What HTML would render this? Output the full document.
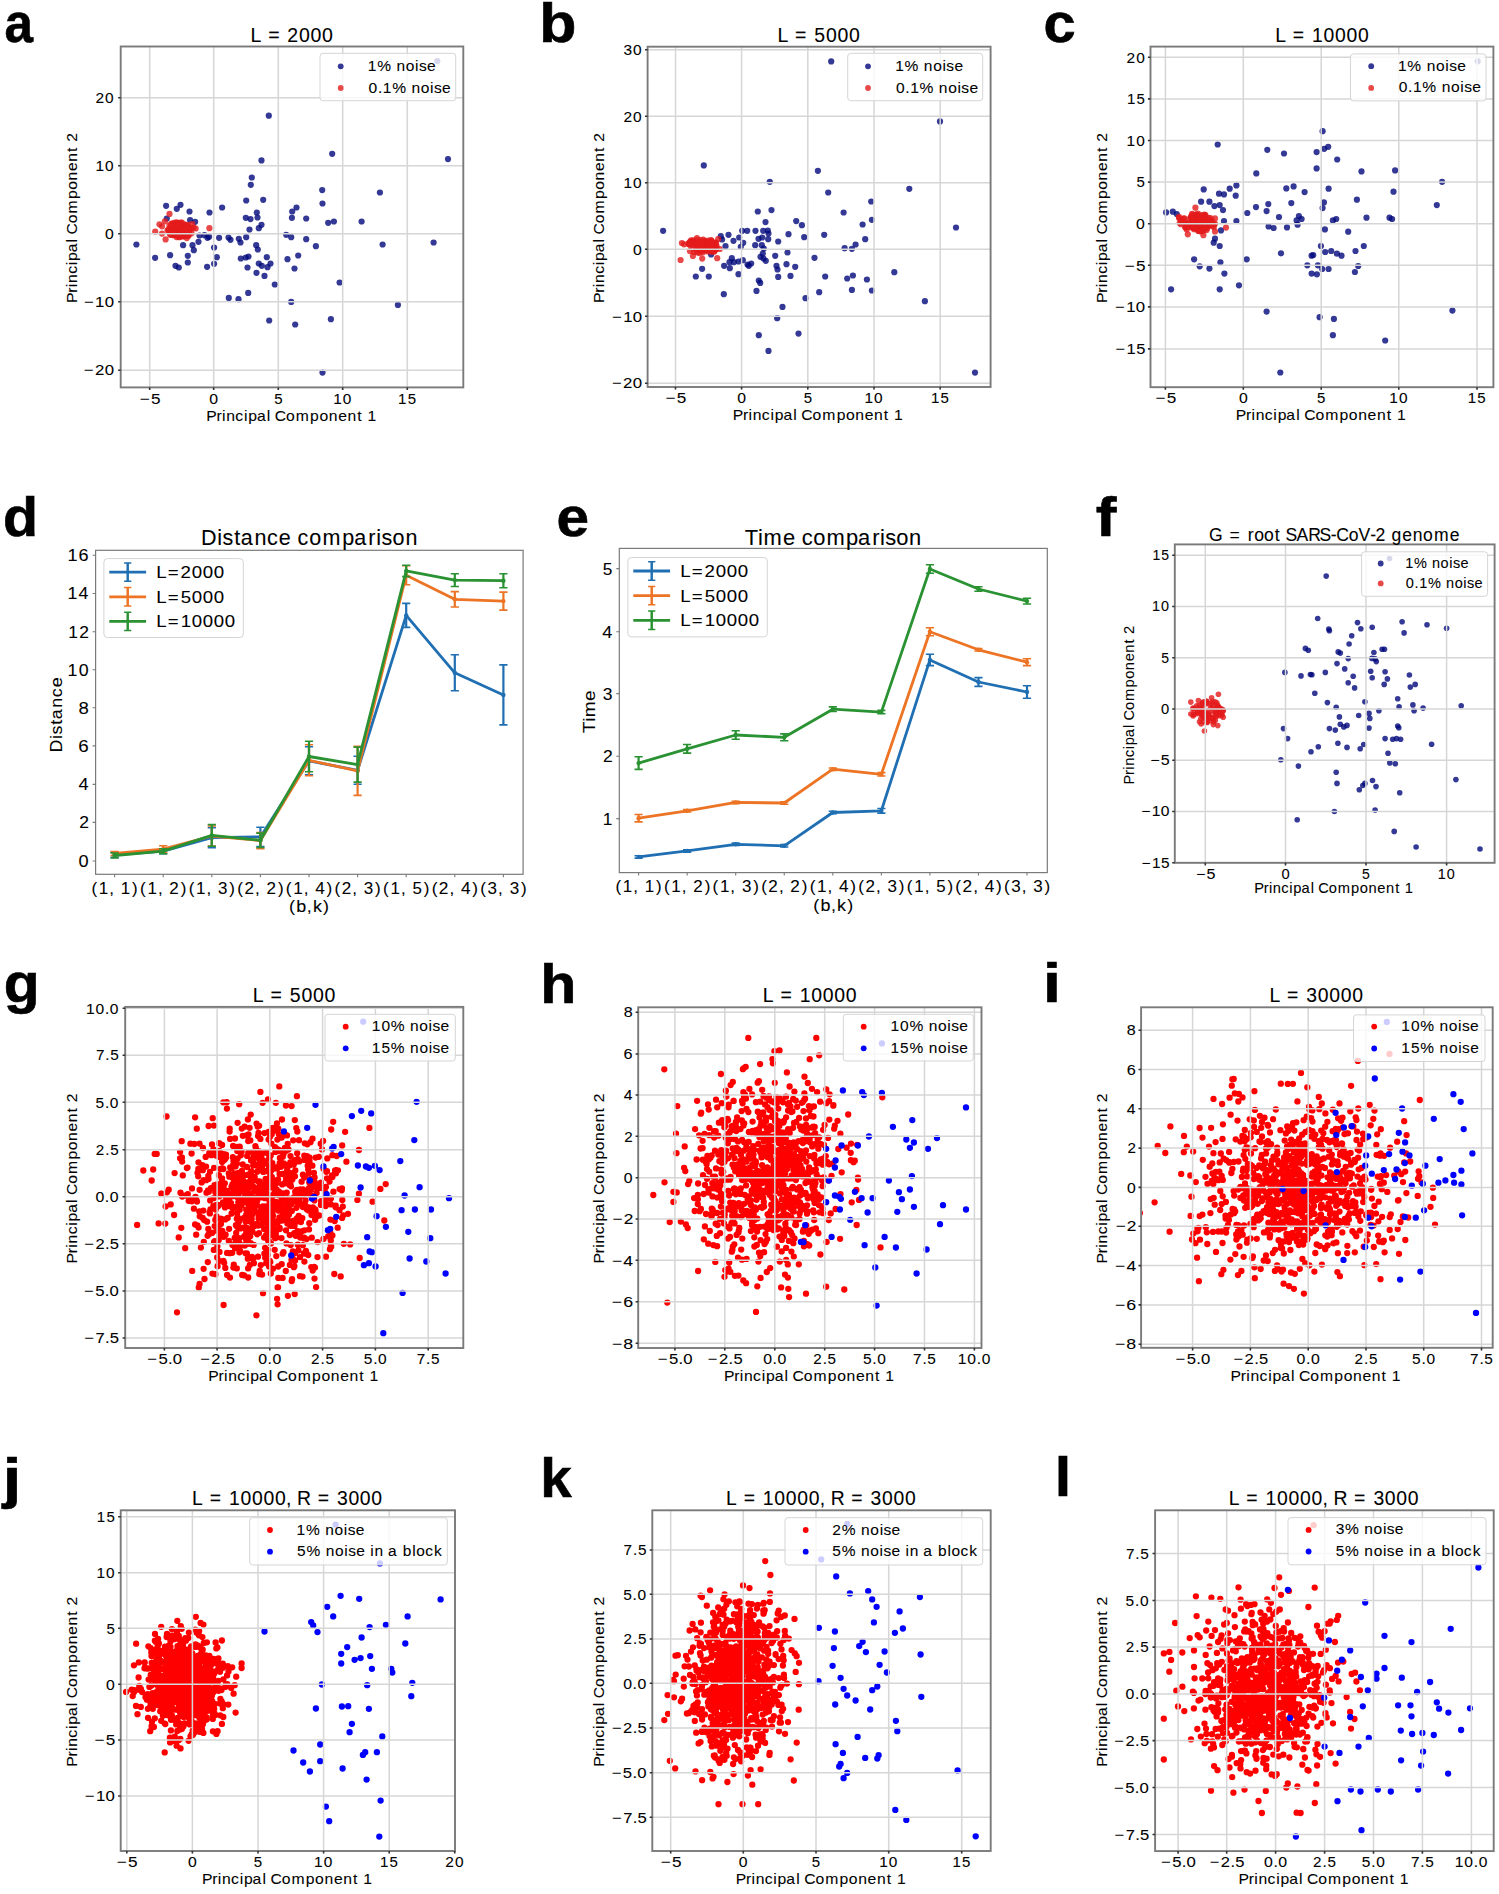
<!DOCTYPE html>
<html><head><meta charset="utf-8"><title>Figure</title>
<style>html,body{margin:0;padding:0;background:#fff;overflow:hidden;} svg{display:block;} text{font-family:"Liberation Sans",sans-serif;}</style>
</head><body>
<svg width="1499" height="1894" viewBox="0 0 1499 1894">
<rect width="1499" height="1894" fill="#fff"/>
<clipPath id="c1"><rect x="120.7" y="46.5" width="342.6" height="340.9"/></clipPath>
<g clip-path="url(#c1)">
<g fill="#00087a" fill-opacity="0.8"><circle cx="268.8" cy="115.7" r="3.1"/><circle cx="332.2" cy="153.8" r="3.1"/><circle cx="448.0" cy="159.1" r="3.1"/><circle cx="261.5" cy="160.4" r="3.1"/><circle cx="251.8" cy="177.5" r="3.1"/><circle cx="250.8" cy="184.8" r="3.1"/><circle cx="379.9" cy="192.5" r="3.1"/><circle cx="322.2" cy="190.1" r="3.1"/><circle cx="322.5" cy="203.5" r="3.1"/><circle cx="246.2" cy="200.5" r="3.1"/><circle cx="263.2" cy="199.8" r="3.1"/><circle cx="166.1" cy="205.8" r="3.1"/><circle cx="180.5" cy="204.8" r="3.1"/><circle cx="176.8" cy="208.8" r="3.1"/><circle cx="189.5" cy="211.5" r="3.1"/><circle cx="209.5" cy="212.5" r="3.1"/><circle cx="222.1" cy="207.5" r="3.1"/><circle cx="256.8" cy="212.5" r="3.1"/><circle cx="292.2" cy="211.5" r="3.1"/><circle cx="296.5" cy="207.5" r="3.1"/><circle cx="166.8" cy="218.5" r="3.1"/><circle cx="245.8" cy="217.8" r="3.1"/><circle cx="250.5" cy="219.1" r="3.1"/><circle cx="257.5" cy="217.5" r="3.1"/><circle cx="291.9" cy="217.8" r="3.1"/><circle cx="306.2" cy="218.5" r="3.1"/><circle cx="328.2" cy="222.8" r="3.1"/><circle cx="333.9" cy="221.5" r="3.1"/><circle cx="361.6" cy="221.5" r="3.1"/><circle cx="190.1" cy="220.1" r="3.1"/><circle cx="195.1" cy="221.8" r="3.1"/><circle cx="261.5" cy="224.8" r="3.1"/><circle cx="249.5" cy="229.5" r="3.1"/><circle cx="258.8" cy="228.2" r="3.1"/><circle cx="286.2" cy="234.8" r="3.1"/><circle cx="291.2" cy="237.2" r="3.1"/><circle cx="306.2" cy="239.2" r="3.1"/><circle cx="315.9" cy="246.2" r="3.1"/><circle cx="382.6" cy="244.5" r="3.1"/><circle cx="433.6" cy="242.5" r="3.1"/><circle cx="136.4" cy="244.5" r="3.1"/><circle cx="199.5" cy="235.5" r="3.1"/><circle cx="204.5" cy="235.2" r="3.1"/><circle cx="198.5" cy="241.8" r="3.1"/><circle cx="207.5" cy="237.8" r="3.1"/><circle cx="209.1" cy="236.8" r="3.1"/><circle cx="219.1" cy="237.8" r="3.1"/><circle cx="228.5" cy="237.5" r="3.1"/><circle cx="230.5" cy="239.8" r="3.1"/><circle cx="238.8" cy="238.8" r="3.1"/><circle cx="240.5" cy="242.5" r="3.1"/><circle cx="246.2" cy="237.2" r="3.1"/><circle cx="256.2" cy="245.2" r="3.1"/><circle cx="257.8" cy="249.5" r="3.1"/><circle cx="192.5" cy="245.2" r="3.1"/><circle cx="193.8" cy="250.2" r="3.1"/><circle cx="183.1" cy="245.2" r="3.1"/><circle cx="214.1" cy="247.5" r="3.1"/><circle cx="170.1" cy="255.2" r="3.1"/><circle cx="155.1" cy="257.8" r="3.1"/><circle cx="187.8" cy="255.8" r="3.1"/><circle cx="216.8" cy="257.2" r="3.1"/><circle cx="187.8" cy="262.5" r="3.1"/><circle cx="175.5" cy="265.8" r="3.1"/><circle cx="178.8" cy="267.5" r="3.1"/><circle cx="207.1" cy="266.8" r="3.1"/><circle cx="214.1" cy="263.8" r="3.1"/><circle cx="240.8" cy="258.5" r="3.1"/><circle cx="245.8" cy="257.5" r="3.1"/><circle cx="248.5" cy="256.5" r="3.1"/><circle cx="266.8" cy="257.2" r="3.1"/><circle cx="258.8" cy="263.5" r="3.1"/><circle cx="261.8" cy="265.8" r="3.1"/><circle cx="267.5" cy="267.2" r="3.1"/><circle cx="270.5" cy="263.5" r="3.1"/><circle cx="247.5" cy="267.5" r="3.1"/><circle cx="256.5" cy="272.8" r="3.1"/><circle cx="264.5" cy="275.9" r="3.1"/><circle cx="287.5" cy="259.2" r="3.1"/><circle cx="298.2" cy="255.5" r="3.1"/><circle cx="294.5" cy="268.5" r="3.1"/><circle cx="274.8" cy="284.5" r="3.1"/><circle cx="339.6" cy="282.5" r="3.1"/><circle cx="228.8" cy="297.9" r="3.1"/><circle cx="238.5" cy="299.2" r="3.1"/><circle cx="248.2" cy="292.9" r="3.1"/><circle cx="291.2" cy="301.9" r="3.1"/><circle cx="397.9" cy="304.9" r="3.1"/><circle cx="269.2" cy="320.5" r="3.1"/><circle cx="295.2" cy="324.5" r="3.1"/><circle cx="330.9" cy="319.2" r="3.1"/><circle cx="322.5" cy="372.6" r="3.1"/><circle cx="437.3" cy="61.0" r="3.1"/></g>
<g fill="#e41a1c" fill-opacity="0.8"><circle cx="179.8" cy="236.7" r="3.1"/><circle cx="174.6" cy="228.7" r="3.1"/><circle cx="188.0" cy="228.5" r="3.1"/><circle cx="180.8" cy="222.7" r="3.1"/><circle cx="186.1" cy="230.5" r="3.1"/><circle cx="175.1" cy="234.3" r="3.1"/><circle cx="174.4" cy="229.2" r="3.1"/><circle cx="170.0" cy="228.4" r="3.1"/><circle cx="171.8" cy="226.3" r="3.1"/><circle cx="186.0" cy="226.6" r="3.1"/><circle cx="179.1" cy="237.2" r="3.1"/><circle cx="191.5" cy="233.3" r="3.1"/><circle cx="180.6" cy="226.5" r="3.1"/><circle cx="179.9" cy="224.1" r="3.1"/><circle cx="182.7" cy="234.1" r="3.1"/><circle cx="182.4" cy="236.2" r="3.1"/><circle cx="167.5" cy="230.3" r="3.1"/><circle cx="178.4" cy="223.2" r="3.1"/><circle cx="183.2" cy="235.3" r="3.1"/><circle cx="181.9" cy="226.3" r="3.1"/><circle cx="188.3" cy="230.0" r="3.1"/><circle cx="179.8" cy="233.7" r="3.1"/><circle cx="170.3" cy="234.8" r="3.1"/><circle cx="184.3" cy="234.3" r="3.1"/><circle cx="171.5" cy="234.5" r="3.1"/><circle cx="171.5" cy="223.5" r="3.1"/><circle cx="188.7" cy="235.4" r="3.1"/><circle cx="189.3" cy="229.5" r="3.1"/><circle cx="183.3" cy="233.2" r="3.1"/><circle cx="188.2" cy="226.6" r="3.1"/><circle cx="172.1" cy="232.0" r="3.1"/><circle cx="170.4" cy="229.6" r="3.1"/><circle cx="189.8" cy="228.7" r="3.1"/><circle cx="181.8" cy="222.7" r="3.1"/><circle cx="184.0" cy="236.3" r="3.1"/><circle cx="188.0" cy="235.8" r="3.1"/><circle cx="183.7" cy="226.0" r="3.1"/><circle cx="186.5" cy="225.5" r="3.1"/><circle cx="188.0" cy="224.8" r="3.1"/><circle cx="176.3" cy="227.1" r="3.1"/><circle cx="184.5" cy="225.0" r="3.1"/><circle cx="176.8" cy="222.4" r="3.1"/><circle cx="173.3" cy="228.7" r="3.1"/><circle cx="169.3" cy="231.9" r="3.1"/><circle cx="176.4" cy="233.3" r="3.1"/><circle cx="183.5" cy="228.9" r="3.1"/><circle cx="189.1" cy="231.9" r="3.1"/><circle cx="187.6" cy="227.5" r="3.1"/><circle cx="180.6" cy="225.3" r="3.1"/><circle cx="173.2" cy="223.4" r="3.1"/><circle cx="173.2" cy="233.9" r="3.1"/><circle cx="184.6" cy="224.3" r="3.1"/><circle cx="176.3" cy="228.7" r="3.1"/><circle cx="183.8" cy="229.2" r="3.1"/><circle cx="181.7" cy="235.1" r="3.1"/><circle cx="185.4" cy="227.8" r="3.1"/><circle cx="178.2" cy="227.9" r="3.1"/><circle cx="169.4" cy="225.4" r="3.1"/><circle cx="173.9" cy="227.1" r="3.1"/><circle cx="174.6" cy="231.1" r="3.1"/><circle cx="187.1" cy="233.8" r="3.1"/><circle cx="182.0" cy="236.2" r="3.1"/><circle cx="184.4" cy="229.9" r="3.1"/><circle cx="168.5" cy="229.7" r="3.1"/><circle cx="172.0" cy="224.3" r="3.1"/><circle cx="179.7" cy="234.2" r="3.1"/><circle cx="174.2" cy="234.0" r="3.1"/><circle cx="180.2" cy="224.6" r="3.1"/><circle cx="191.6" cy="228.4" r="3.1"/><circle cx="174.2" cy="235.2" r="3.1"/><circle cx="169.7" cy="233.5" r="3.1"/><circle cx="171.4" cy="228.3" r="3.1"/><circle cx="172.5" cy="235.1" r="3.1"/><circle cx="176.6" cy="237.1" r="3.1"/><circle cx="182.8" cy="232.8" r="3.1"/><circle cx="180.3" cy="225.9" r="3.1"/><circle cx="193.6" cy="227.7" r="3.1"/><circle cx="192.2" cy="224.0" r="3.1"/><circle cx="174.9" cy="222.5" r="3.1"/><circle cx="177.0" cy="230.2" r="3.1"/><circle cx="174.7" cy="234.5" r="3.1"/><circle cx="185.7" cy="228.8" r="3.1"/><circle cx="179.4" cy="226.3" r="3.1"/><circle cx="187.5" cy="231.9" r="3.1"/><circle cx="162.0" cy="233.6" r="3.1"/><circle cx="195.7" cy="228.5" r="3.1"/><circle cx="179.0" cy="232.7" r="3.1"/><circle cx="186.8" cy="235.2" r="3.1"/><circle cx="178.6" cy="229.0" r="3.1"/><circle cx="176.2" cy="225.9" r="3.1"/><circle cx="184.6" cy="231.7" r="3.1"/><circle cx="188.2" cy="231.2" r="3.1"/><circle cx="178.0" cy="235.5" r="3.1"/><circle cx="178.5" cy="223.6" r="3.1"/><circle cx="186.9" cy="226.7" r="3.1"/><circle cx="171.3" cy="225.8" r="3.1"/><circle cx="164.9" cy="221.3" r="3.1"/><circle cx="183.9" cy="230.6" r="3.1"/><circle cx="173.3" cy="232.6" r="3.1"/><circle cx="162.0" cy="226.3" r="3.1"/><circle cx="169.5" cy="213.9" r="3.1"/><circle cx="159.5" cy="224.3" r="3.1"/><circle cx="155.2" cy="231.6" r="3.1"/><circle cx="165.6" cy="239.4" r="3.1"/><circle cx="209.4" cy="228.2" r="3.1"/><circle cx="186.8" cy="238.1" r="3.1"/></g>
</g>
<path d="M149.70 46.5V387.4M213.70 46.5V387.4M278.30 46.5V387.4M342.70 46.5V387.4M407.30 46.5V387.4M120.7 97.70H463.3M120.7 165.70H463.3M120.7 233.70H463.3M120.7 301.70H463.3M120.7 370.20H463.3" stroke="#d6d6d6" stroke-width="1.5" fill="none"/>
<rect x="120.7" y="46.5" width="342.6" height="340.9" fill="none" stroke="#7a7a7a" stroke-width="1.9"/>
<path d="M149.70 387.4v2.6M213.70 387.4v2.6M278.30 387.4v2.6M342.70 387.4v2.6M407.30 387.4v2.6M120.7 97.70h-2.6M120.7 165.70h-2.6M120.7 233.70h-2.6M120.7 301.70h-2.6M120.7 370.20h-2.6" stroke="#333" stroke-width="1.6" fill="none"/>
<text transform="scale(1.1458,1)" x="121.95 131.77" y="403.60" font-size="15.00" fill="#000" stroke="#000" stroke-width="0.08">−5</text>
<text transform="scale(1.0521,1)" x="198.92" y="403.60" font-size="15.00" fill="#000" stroke="#000" stroke-width="0.08">0</text>
<text transform="scale(1.0000,1)" x="274.14" y="403.60" font-size="15.00" fill="#000" stroke="#000" stroke-width="0.08">5</text>
<text transform="scale(1.0273,1)" x="324.37 333.70" y="403.60" font-size="15.00" fill="#000" stroke="#000" stroke-width="0.08">10</text>
<text transform="scale(1.0000,1)" x="398.10 407.65" y="403.60" font-size="15.00" fill="#000" stroke="#000" stroke-width="0.08">15</text>
<text transform="scale(1.0321,1)" x="92.42 101.81" y="102.91" font-size="15.00" fill="#000" stroke="#000" stroke-width="0.08">20</text>
<text transform="scale(1.0273,1)" x="92.97 102.30" y="170.91" font-size="15.00" fill="#000" stroke="#000" stroke-width="0.08">10</text>
<text transform="scale(1.0521,1)" x="99.80" y="238.91" font-size="15.00" fill="#000" stroke="#000" stroke-width="0.08">0</text>
<text transform="scale(1.1179,1)" x="75.05 85.09 93.68" y="306.91" font-size="15.00" fill="#000" stroke="#000" stroke-width="0.08">−10</text>
<text transform="scale(1.1197,1)" x="74.92 84.86 93.51" y="375.41" font-size="15.00" fill="#000" stroke="#000" stroke-width="0.08">−20</text>
<rect x="320" y="53.3" width="135.7" height="47.400000000000006" rx="3" fill="#fff" fill-opacity="0.8" stroke="#d5d5d5" stroke-width="1"/>
<circle cx="340.7" cy="66.3" r="2.9" fill="#00087a" fill-opacity="0.8"/>
<text transform="scale(1.0780,1)" x="341.19 349.90 363.14 367.80 376.45 385.04 388.67 396.15" y="70.90" font-size="14.40" fill="#000" stroke="#000" stroke-width="0.08">1% noise</text>
<circle cx="340.7" cy="88" r="2.9" fill="#e41a1c" fill-opacity="0.8"/>
<text transform="scale(1.0822,1)" x="340.53 349.18 353.71 362.38 375.58 380.22 388.83 397.40 401.00 408.45" y="92.60" font-size="14.40" fill="#000" stroke="#000" stroke-width="0.08">0.1% noise</text>
<text transform="scale(1.0019,1)" x="250.00 260.25 267.67 281.13 286.80 298.47 309.96 321.46" y="41.80" font-size="19.50" fill="#000" stroke="#000" stroke-width="0.08">L = 2000</text>
<text transform="scale(1.0929,1)" x="188.72 198.10 203.14 207.02 215.35 223.20 227.10 235.09 244.14 247.80 251.49 261.79 270.67 283.75 292.27 300.84 309.44 317.98 326.94 331.85 336.31" y="420.70" font-size="14.40" fill="#000" stroke="#000" stroke-width="0.08">Principal Component 1</text>
<text transform="translate(76.70,217.50) rotate(-90) scale(1.0934,1)" x="-78.18 -68.80 -63.76 -59.89 -51.56 -43.71 -39.82 -31.83 -22.79 -19.13 -15.44 -5.15 3.73 16.81 25.32 33.88 42.48 51.02 59.98 64.88 69.25" y="0.00" font-size="14.40" fill="#000" stroke="#000" stroke-width="0.08">Principal Component 2</text>
<text x="4.46" y="42.20" font-size="55.00" font-weight="bold" textLength="28.48" lengthAdjust="spacingAndGlyphs" fill="#000" stroke="#000" stroke-width="0.6" >a</text>
<clipPath id="c2"><rect x="647.6" y="46.7" width="343.0" height="340.3"/></clipPath>
<g clip-path="url(#c2)">
<g fill="#00087a" fill-opacity="0.8"><circle cx="831.2" cy="61.4" r="3.1"/><circle cx="940.0" cy="121.4" r="3.1"/><circle cx="703.8" cy="165.4" r="3.1"/><circle cx="817.9" cy="170.8" r="3.1"/><circle cx="769.8" cy="181.8" r="3.1"/><circle cx="909.3" cy="188.8" r="3.1"/><circle cx="828.2" cy="192.5" r="3.1"/><circle cx="871.2" cy="201.5" r="3.1"/><circle cx="757.8" cy="211.5" r="3.1"/><circle cx="771.5" cy="210.1" r="3.1"/><circle cx="843.6" cy="212.5" r="3.1"/><circle cx="765.5" cy="222.1" r="3.1"/><circle cx="796.2" cy="221.1" r="3.1"/><circle cx="801.9" cy="225.2" r="3.1"/><circle cx="862.6" cy="224.5" r="3.1"/><circle cx="871.9" cy="219.8" r="3.1"/><circle cx="956.0" cy="227.5" r="3.1"/><circle cx="663.1" cy="230.8" r="3.1"/><circle cx="720.8" cy="236.2" r="3.1"/><circle cx="728.5" cy="234.8" r="3.1"/><circle cx="742.2" cy="230.8" r="3.1"/><circle cx="747.2" cy="230.8" r="3.1"/><circle cx="755.5" cy="230.8" r="3.1"/><circle cx="763.2" cy="230.8" r="3.1"/><circle cx="767.8" cy="230.5" r="3.1"/><circle cx="768.5" cy="233.5" r="3.1"/><circle cx="788.5" cy="234.2" r="3.1"/><circle cx="804.2" cy="237.2" r="3.1"/><circle cx="824.2" cy="234.8" r="3.1"/><circle cx="865.2" cy="239.2" r="3.1"/><circle cx="722.1" cy="239.5" r="3.1"/><circle cx="739.2" cy="237.5" r="3.1"/><circle cx="733.5" cy="240.8" r="3.1"/><circle cx="743.2" cy="242.8" r="3.1"/><circle cx="758.5" cy="238.8" r="3.1"/><circle cx="762.2" cy="237.5" r="3.1"/><circle cx="768.2" cy="239.2" r="3.1"/><circle cx="778.2" cy="241.5" r="3.1"/><circle cx="725.5" cy="246.2" r="3.1"/><circle cx="740.8" cy="246.8" r="3.1"/><circle cx="755.2" cy="245.2" r="3.1"/><circle cx="761.8" cy="245.2" r="3.1"/><circle cx="763.8" cy="248.5" r="3.1"/><circle cx="855.6" cy="244.5" r="3.1"/><circle cx="844.6" cy="248.2" r="3.1"/><circle cx="851.9" cy="248.8" r="3.1"/><circle cx="711.1" cy="254.5" r="3.1"/><circle cx="731.8" cy="258.2" r="3.1"/><circle cx="733.8" cy="262.2" r="3.1"/><circle cx="738.5" cy="261.5" r="3.1"/><circle cx="729.5" cy="262.2" r="3.1"/><circle cx="742.8" cy="260.2" r="3.1"/><circle cx="751.2" cy="263.5" r="3.1"/><circle cx="748.8" cy="265.8" r="3.1"/><circle cx="747.5" cy="264.5" r="3.1"/><circle cx="762.8" cy="253.5" r="3.1"/><circle cx="763.5" cy="258.5" r="3.1"/><circle cx="765.8" cy="260.8" r="3.1"/><circle cx="760.5" cy="256.8" r="3.1"/><circle cx="775.2" cy="255.8" r="3.1"/><circle cx="787.5" cy="252.5" r="3.1"/><circle cx="814.5" cy="257.8" r="3.1"/><circle cx="724.1" cy="265.8" r="3.1"/><circle cx="729.8" cy="268.2" r="3.1"/><circle cx="776.5" cy="265.8" r="3.1"/><circle cx="777.5" cy="269.5" r="3.1"/><circle cx="786.5" cy="264.2" r="3.1"/><circle cx="795.2" cy="266.8" r="3.1"/><circle cx="702.1" cy="268.8" r="3.1"/><circle cx="695.8" cy="276.5" r="3.1"/><circle cx="708.8" cy="276.5" r="3.1"/><circle cx="738.5" cy="274.2" r="3.1"/><circle cx="778.2" cy="276.9" r="3.1"/><circle cx="790.5" cy="275.9" r="3.1"/><circle cx="825.2" cy="276.5" r="3.1"/><circle cx="847.2" cy="278.5" r="3.1"/><circle cx="852.9" cy="275.5" r="3.1"/><circle cx="866.9" cy="279.5" r="3.1"/><circle cx="894.3" cy="272.2" r="3.1"/><circle cx="758.8" cy="280.5" r="3.1"/><circle cx="760.2" cy="282.9" r="3.1"/><circle cx="756.5" cy="290.9" r="3.1"/><circle cx="723.8" cy="294.2" r="3.1"/><circle cx="819.2" cy="292.2" r="3.1"/><circle cx="851.9" cy="289.9" r="3.1"/><circle cx="871.9" cy="290.5" r="3.1"/><circle cx="805.5" cy="298.2" r="3.1"/><circle cx="924.9" cy="301.2" r="3.1"/><circle cx="782.5" cy="306.9" r="3.1"/><circle cx="777.2" cy="318.2" r="3.1"/><circle cx="758.8" cy="335.2" r="3.1"/><circle cx="798.5" cy="333.6" r="3.1"/><circle cx="768.5" cy="350.9" r="3.1"/><circle cx="975.0" cy="372.6" r="3.1"/></g>
<g fill="#e41a1c" fill-opacity="0.8"><circle cx="695.6" cy="243.7" r="3.1"/><circle cx="711.6" cy="240.8" r="3.1"/><circle cx="705.4" cy="249.7" r="3.1"/><circle cx="693.4" cy="240.3" r="3.1"/><circle cx="696.0" cy="248.7" r="3.1"/><circle cx="704.3" cy="241.6" r="3.1"/><circle cx="700.5" cy="248.9" r="3.1"/><circle cx="700.3" cy="248.4" r="3.1"/><circle cx="716.1" cy="249.1" r="3.1"/><circle cx="699.4" cy="242.1" r="3.1"/><circle cx="698.0" cy="246.7" r="3.1"/><circle cx="713.8" cy="250.4" r="3.1"/><circle cx="697.2" cy="252.4" r="3.1"/><circle cx="701.7" cy="249.2" r="3.1"/><circle cx="691.1" cy="241.0" r="3.1"/><circle cx="693.9" cy="251.9" r="3.1"/><circle cx="707.7" cy="251.4" r="3.1"/><circle cx="706.7" cy="245.2" r="3.1"/><circle cx="703.0" cy="247.8" r="3.1"/><circle cx="713.0" cy="245.6" r="3.1"/><circle cx="713.9" cy="248.1" r="3.1"/><circle cx="712.1" cy="246.5" r="3.1"/><circle cx="708.1" cy="244.2" r="3.1"/><circle cx="703.2" cy="242.5" r="3.1"/><circle cx="708.4" cy="245.9" r="3.1"/><circle cx="714.0" cy="251.2" r="3.1"/><circle cx="699.2" cy="253.1" r="3.1"/><circle cx="705.2" cy="250.2" r="3.1"/><circle cx="699.8" cy="242.2" r="3.1"/><circle cx="693.0" cy="242.0" r="3.1"/><circle cx="705.5" cy="241.1" r="3.1"/><circle cx="690.9" cy="245.8" r="3.1"/><circle cx="702.2" cy="248.2" r="3.1"/><circle cx="702.6" cy="252.6" r="3.1"/><circle cx="709.8" cy="247.5" r="3.1"/><circle cx="705.9" cy="246.6" r="3.1"/><circle cx="716.0" cy="242.7" r="3.1"/><circle cx="708.0" cy="247.3" r="3.1"/><circle cx="689.2" cy="243.6" r="3.1"/><circle cx="714.9" cy="250.5" r="3.1"/><circle cx="688.4" cy="243.7" r="3.1"/><circle cx="691.2" cy="240.3" r="3.1"/><circle cx="716.5" cy="245.7" r="3.1"/><circle cx="697.2" cy="240.2" r="3.1"/><circle cx="699.3" cy="244.6" r="3.1"/><circle cx="703.2" cy="239.6" r="3.1"/><circle cx="692.3" cy="242.4" r="3.1"/><circle cx="700.8" cy="243.7" r="3.1"/><circle cx="705.8" cy="243.5" r="3.1"/><circle cx="689.7" cy="242.4" r="3.1"/><circle cx="704.3" cy="250.3" r="3.1"/><circle cx="689.9" cy="242.1" r="3.1"/><circle cx="701.2" cy="248.9" r="3.1"/><circle cx="714.2" cy="251.6" r="3.1"/><circle cx="711.0" cy="240.2" r="3.1"/><circle cx="716.3" cy="248.1" r="3.1"/><circle cx="690.5" cy="243.1" r="3.1"/><circle cx="706.0" cy="244.9" r="3.1"/><circle cx="701.0" cy="250.8" r="3.1"/><circle cx="711.9" cy="247.2" r="3.1"/><circle cx="711.0" cy="245.2" r="3.1"/><circle cx="716.3" cy="248.0" r="3.1"/><circle cx="713.6" cy="247.3" r="3.1"/><circle cx="708.7" cy="242.2" r="3.1"/><circle cx="703.9" cy="243.5" r="3.1"/><circle cx="714.3" cy="248.9" r="3.1"/><circle cx="693.9" cy="243.1" r="3.1"/><circle cx="701.5" cy="251.0" r="3.1"/><circle cx="715.4" cy="242.9" r="3.1"/><circle cx="706.6" cy="244.5" r="3.1"/><circle cx="708.2" cy="240.7" r="3.1"/><circle cx="701.6" cy="247.7" r="3.1"/><circle cx="706.2" cy="249.2" r="3.1"/><circle cx="713.9" cy="242.9" r="3.1"/><circle cx="692.4" cy="245.0" r="3.1"/><circle cx="701.9" cy="244.0" r="3.1"/><circle cx="712.5" cy="245.6" r="3.1"/><circle cx="709.4" cy="243.4" r="3.1"/><circle cx="709.2" cy="250.8" r="3.1"/><circle cx="718.2" cy="239.0" r="3.1"/><circle cx="689.9" cy="251.1" r="3.1"/><circle cx="695.7" cy="243.9" r="3.1"/><circle cx="688.8" cy="244.3" r="3.1"/><circle cx="700.9" cy="240.2" r="3.1"/><circle cx="712.0" cy="246.3" r="3.1"/><circle cx="701.8" cy="245.8" r="3.1"/><circle cx="707.0" cy="248.0" r="3.1"/><circle cx="684.0" cy="244.3" r="3.1"/><circle cx="703.5" cy="247.5" r="3.1"/><circle cx="692.9" cy="256.0" r="3.1"/><circle cx="719.8" cy="249.0" r="3.1"/><circle cx="710.9" cy="244.1" r="3.1"/><circle cx="711.5" cy="251.8" r="3.1"/><circle cx="701.4" cy="246.4" r="3.1"/><circle cx="708.1" cy="250.0" r="3.1"/><circle cx="708.6" cy="250.1" r="3.1"/><circle cx="698.6" cy="245.0" r="3.1"/><circle cx="697.0" cy="238.0" r="3.1"/><circle cx="700.9" cy="245.3" r="3.1"/><circle cx="695.9" cy="249.8" r="3.1"/><circle cx="681.9" cy="243.0" r="3.1"/><circle cx="680.6" cy="260.0" r="3.1"/><circle cx="717.2" cy="258.2" r="3.1"/><circle cx="702.2" cy="258.6" r="3.1"/></g>
</g>
<path d="M675.50 46.7V387.0M741.60 46.7V387.0M807.80 46.7V387.0M874.00 46.7V387.0M940.20 46.7V387.0M647.6 49.70H990.6M647.6 116.30H990.6M647.6 182.70H990.6M647.6 249.30H990.6M647.6 316.30H990.6M647.6 383.30H990.6" stroke="#d6d6d6" stroke-width="1.5" fill="none"/>
<rect x="647.6" y="46.7" width="343.0" height="340.3" fill="none" stroke="#7a7a7a" stroke-width="1.9"/>
<path d="M675.50 387.0v2.6M741.60 387.0v2.6M807.80 387.0v2.6M874.00 387.0v2.6M940.20 387.0v2.6M647.6 49.70h-2.6M647.6 116.30h-2.6M647.6 182.70h-2.6M647.6 249.30h-2.6M647.6 316.30h-2.6M647.6 383.30h-2.6" stroke="#333" stroke-width="1.6" fill="none"/>
<text transform="scale(1.1458,1)" x="580.83 590.65" y="403.20" font-size="15.00" fill="#000" stroke="#000" stroke-width="0.08">−5</text>
<text transform="scale(1.0521,1)" x="700.69" y="403.20" font-size="15.00" fill="#000" stroke="#000" stroke-width="0.08">0</text>
<text transform="scale(1.0000,1)" x="803.64" y="403.20" font-size="15.00" fill="#000" stroke="#000" stroke-width="0.08">5</text>
<text transform="scale(1.0273,1)" x="841.54 850.87" y="403.20" font-size="15.00" fill="#000" stroke="#000" stroke-width="0.08">10</text>
<text transform="scale(1.0000,1)" x="931.00 940.55" y="403.20" font-size="15.00" fill="#000" stroke="#000" stroke-width="0.08">15</text>
<text transform="scale(1.0314,1)" x="604.55 613.80" y="54.91" font-size="15.00" fill="#000" stroke="#000" stroke-width="0.08">30</text>
<text transform="scale(1.0321,1)" x="604.01 613.40" y="121.51" font-size="15.00" fill="#000" stroke="#000" stroke-width="0.08">20</text>
<text transform="scale(1.0273,1)" x="606.93 616.26" y="187.91" font-size="15.00" fill="#000" stroke="#000" stroke-width="0.08">10</text>
<text transform="scale(1.0521,1)" x="601.66" y="254.51" font-size="15.00" fill="#000" stroke="#000" stroke-width="0.08">0</text>
<text transform="scale(1.1179,1)" x="547.38 557.42 566.01" y="321.51" font-size="15.00" fill="#000" stroke="#000" stroke-width="0.08">−10</text>
<text transform="scale(1.1197,1)" x="546.47 556.41 565.06" y="388.51" font-size="15.00" fill="#000" stroke="#000" stroke-width="0.08">−20</text>
<rect x="847.7" y="53.3" width="135.0" height="47.400000000000006" rx="3" fill="#fff" fill-opacity="0.8" stroke="#d5d5d5" stroke-width="1"/>
<circle cx="868" cy="66.3" r="2.9" fill="#00087a" fill-opacity="0.8"/>
<text transform="scale(1.0780,1)" x="830.41 839.12 852.36 857.02 865.67 874.26 877.89 885.37" y="70.90" font-size="14.40" fill="#000" stroke="#000" stroke-width="0.08">1% noise</text>
<circle cx="868" cy="88" r="2.9" fill="#e41a1c" fill-opacity="0.8"/>
<text transform="scale(1.0822,1)" x="827.86 836.51 841.05 849.71 862.91 867.55 876.16 884.73 888.34 895.79" y="92.60" font-size="14.40" fill="#000" stroke="#000" stroke-width="0.08">0.1% noise</text>
<text transform="scale(0.9985,1)" x="778.58 788.84 796.28 809.76 815.59 827.15 838.67 850.18" y="41.80" font-size="19.50" fill="#000" stroke="#000" stroke-width="0.08">L = 5000</text>
<text transform="scale(1.0929,1)" x="670.48 679.86 684.91 688.78 697.11 704.97 708.86 716.85 725.90 729.56 733.25 743.55 752.44 765.52 774.03 782.60 791.20 799.74 808.71 813.61 818.07" y="420.30" font-size="14.40" fill="#000" stroke="#000" stroke-width="0.08">Principal Component 1</text>
<text transform="translate(604.20,217.50) rotate(-90) scale(1.0934,1)" x="-78.18 -68.80 -63.76 -59.89 -51.56 -43.71 -39.82 -31.83 -22.79 -19.13 -15.44 -5.15 3.73 16.81 25.32 33.88 42.48 51.02 59.98 64.88 69.25" y="0.00" font-size="14.40" fill="#000" stroke="#000" stroke-width="0.08">Principal Component 2</text>
<text x="539.35" y="41.50" font-size="55.00" font-weight="bold" textLength="37.14" lengthAdjust="spacingAndGlyphs" fill="#000" stroke="#000" stroke-width="0.6" >b</text>
<clipPath id="c3"><rect x="1150.5" y="46.6" width="342.9000000000001" height="340.59999999999997"/></clipPath>
<g clip-path="url(#c3)">
<g fill="#00087a" fill-opacity="0.8"><circle cx="1322.6" cy="131.2" r="3.1"/><circle cx="1217.7" cy="144.5" r="3.1"/><circle cx="1267.3" cy="149.8" r="3.1"/><circle cx="1284.0" cy="153.5" r="3.1"/><circle cx="1316.6" cy="152.1" r="3.1"/><circle cx="1324.2" cy="148.8" r="3.1"/><circle cx="1328.2" cy="146.8" r="3.1"/><circle cx="1337.2" cy="159.5" r="3.1"/><circle cx="1256.3" cy="173.4" r="3.1"/><circle cx="1316.6" cy="168.4" r="3.1"/><circle cx="1361.5" cy="171.4" r="3.1"/><circle cx="1395.1" cy="170.4" r="3.1"/><circle cx="1442.1" cy="181.8" r="3.1"/><circle cx="1203.7" cy="189.4" r="3.1"/><circle cx="1236.4" cy="185.4" r="3.1"/><circle cx="1229.7" cy="188.7" r="3.1"/><circle cx="1219.0" cy="193.7" r="3.1"/><circle cx="1224.0" cy="194.4" r="3.1"/><circle cx="1286.3" cy="188.4" r="3.1"/><circle cx="1293.6" cy="186.4" r="3.1"/><circle cx="1304.6" cy="192.1" r="3.1"/><circle cx="1328.6" cy="188.7" r="3.1"/><circle cx="1393.5" cy="191.7" r="3.1"/><circle cx="1201.1" cy="201.7" r="3.1"/><circle cx="1209.4" cy="201.7" r="3.1"/><circle cx="1219.7" cy="205.1" r="3.1"/><circle cx="1214.4" cy="206.1" r="3.1"/><circle cx="1235.7" cy="195.7" r="3.1"/><circle cx="1256.0" cy="207.1" r="3.1"/><circle cx="1268.3" cy="204.1" r="3.1"/><circle cx="1291.3" cy="203.1" r="3.1"/><circle cx="1323.9" cy="202.4" r="3.1"/><circle cx="1322.6" cy="208.1" r="3.1"/><circle cx="1356.9" cy="199.7" r="3.1"/><circle cx="1436.8" cy="205.1" r="3.1"/><circle cx="1166.1" cy="212.4" r="3.1"/><circle cx="1172.8" cy="211.7" r="3.1"/><circle cx="1176.8" cy="214.0" r="3.1"/><circle cx="1223.0" cy="210.1" r="3.1"/><circle cx="1247.3" cy="213.0" r="3.1"/><circle cx="1266.6" cy="211.1" r="3.1"/><circle cx="1279.0" cy="217.0" r="3.1"/><circle cx="1298.9" cy="216.0" r="3.1"/><circle cx="1301.6" cy="219.0" r="3.1"/><circle cx="1296.6" cy="220.4" r="3.1"/><circle cx="1332.9" cy="220.4" r="3.1"/><circle cx="1336.2" cy="219.0" r="3.1"/><circle cx="1366.5" cy="217.7" r="3.1"/><circle cx="1389.5" cy="217.7" r="3.1"/><circle cx="1392.1" cy="219.0" r="3.1"/><circle cx="1224.0" cy="221.0" r="3.1"/><circle cx="1236.4" cy="221.0" r="3.1"/><circle cx="1221.0" cy="230.4" r="3.1"/><circle cx="1268.6" cy="226.4" r="3.1"/><circle cx="1273.6" cy="228.0" r="3.1"/><circle cx="1287.0" cy="227.4" r="3.1"/><circle cx="1297.6" cy="224.7" r="3.1"/><circle cx="1324.9" cy="229.4" r="3.1"/><circle cx="1348.2" cy="231.7" r="3.1"/><circle cx="1215.0" cy="238.7" r="3.1"/><circle cx="1213.7" cy="242.7" r="3.1"/><circle cx="1219.7" cy="246.0" r="3.1"/><circle cx="1320.9" cy="246.0" r="3.1"/><circle cx="1325.2" cy="252.0" r="3.1"/><circle cx="1331.2" cy="251.0" r="3.1"/><circle cx="1336.9" cy="253.7" r="3.1"/><circle cx="1341.5" cy="255.7" r="3.1"/><circle cx="1355.5" cy="251.0" r="3.1"/><circle cx="1363.8" cy="246.0" r="3.1"/><circle cx="1194.1" cy="259.3" r="3.1"/><circle cx="1246.7" cy="259.3" r="3.1"/><circle cx="1281.0" cy="253.3" r="3.1"/><circle cx="1311.6" cy="255.7" r="3.1"/><circle cx="1313.2" cy="255.0" r="3.1"/><circle cx="1199.7" cy="266.3" r="3.1"/><circle cx="1209.4" cy="268.6" r="3.1"/><circle cx="1220.4" cy="262.3" r="3.1"/><circle cx="1307.3" cy="265.3" r="3.1"/><circle cx="1317.9" cy="265.3" r="3.1"/><circle cx="1322.2" cy="269.0" r="3.1"/><circle cx="1328.6" cy="269.0" r="3.1"/><circle cx="1358.2" cy="266.0" r="3.1"/><circle cx="1224.4" cy="273.6" r="3.1"/><circle cx="1311.6" cy="273.6" r="3.1"/><circle cx="1316.9" cy="274.3" r="3.1"/><circle cx="1354.9" cy="272.0" r="3.1"/><circle cx="1171.1" cy="289.3" r="3.1"/><circle cx="1219.7" cy="289.3" r="3.1"/><circle cx="1239.0" cy="285.3" r="3.1"/><circle cx="1266.6" cy="311.6" r="3.1"/><circle cx="1319.6" cy="317.2" r="3.1"/><circle cx="1333.9" cy="318.9" r="3.1"/><circle cx="1452.4" cy="310.6" r="3.1"/><circle cx="1332.9" cy="335.2" r="3.1"/><circle cx="1385.2" cy="340.5" r="3.1"/><circle cx="1280.3" cy="372.5" r="3.1"/><circle cx="1477.7" cy="61.3" r="3.1"/></g>
<g fill="#e41a1c" fill-opacity="0.8"><circle cx="1207.8" cy="224.1" r="3.1"/><circle cx="1182.4" cy="221.2" r="3.1"/><circle cx="1196.2" cy="216.0" r="3.1"/><circle cx="1205.4" cy="215.1" r="3.1"/><circle cx="1193.1" cy="222.8" r="3.1"/><circle cx="1194.5" cy="224.2" r="3.1"/><circle cx="1189.2" cy="225.4" r="3.1"/><circle cx="1204.1" cy="218.5" r="3.1"/><circle cx="1189.7" cy="218.9" r="3.1"/><circle cx="1211.1" cy="224.1" r="3.1"/><circle cx="1196.0" cy="227.7" r="3.1"/><circle cx="1192.5" cy="214.6" r="3.1"/><circle cx="1202.8" cy="230.8" r="3.1"/><circle cx="1186.5" cy="225.0" r="3.1"/><circle cx="1189.7" cy="227.1" r="3.1"/><circle cx="1205.0" cy="217.1" r="3.1"/><circle cx="1208.9" cy="225.5" r="3.1"/><circle cx="1203.6" cy="228.6" r="3.1"/><circle cx="1194.4" cy="227.5" r="3.1"/><circle cx="1209.6" cy="220.5" r="3.1"/><circle cx="1196.3" cy="215.7" r="3.1"/><circle cx="1204.1" cy="218.5" r="3.1"/><circle cx="1210.4" cy="218.2" r="3.1"/><circle cx="1199.2" cy="220.6" r="3.1"/><circle cx="1201.1" cy="216.7" r="3.1"/><circle cx="1185.5" cy="227.2" r="3.1"/><circle cx="1206.1" cy="223.8" r="3.1"/><circle cx="1213.7" cy="224.9" r="3.1"/><circle cx="1200.8" cy="231.5" r="3.1"/><circle cx="1207.3" cy="228.1" r="3.1"/><circle cx="1180.9" cy="220.0" r="3.1"/><circle cx="1186.7" cy="229.4" r="3.1"/><circle cx="1183.6" cy="218.6" r="3.1"/><circle cx="1196.7" cy="229.2" r="3.1"/><circle cx="1186.7" cy="223.4" r="3.1"/><circle cx="1203.5" cy="220.0" r="3.1"/><circle cx="1200.2" cy="225.8" r="3.1"/><circle cx="1203.1" cy="222.9" r="3.1"/><circle cx="1199.0" cy="216.7" r="3.1"/><circle cx="1196.8" cy="215.3" r="3.1"/><circle cx="1196.3" cy="223.2" r="3.1"/><circle cx="1206.9" cy="220.5" r="3.1"/><circle cx="1179.7" cy="223.0" r="3.1"/><circle cx="1186.4" cy="227.1" r="3.1"/><circle cx="1193.0" cy="220.2" r="3.1"/><circle cx="1211.7" cy="220.4" r="3.1"/><circle cx="1191.6" cy="219.6" r="3.1"/><circle cx="1196.3" cy="214.7" r="3.1"/><circle cx="1198.7" cy="230.6" r="3.1"/><circle cx="1199.3" cy="227.2" r="3.1"/><circle cx="1205.8" cy="228.5" r="3.1"/><circle cx="1208.5" cy="217.8" r="3.1"/><circle cx="1196.4" cy="219.5" r="3.1"/><circle cx="1188.4" cy="223.9" r="3.1"/><circle cx="1190.4" cy="224.8" r="3.1"/><circle cx="1200.0" cy="214.9" r="3.1"/><circle cx="1194.9" cy="220.4" r="3.1"/><circle cx="1204.4" cy="214.6" r="3.1"/><circle cx="1185.1" cy="222.7" r="3.1"/><circle cx="1193.6" cy="225.7" r="3.1"/><circle cx="1191.0" cy="216.7" r="3.1"/><circle cx="1184.3" cy="218.3" r="3.1"/><circle cx="1191.2" cy="217.2" r="3.1"/><circle cx="1198.3" cy="230.9" r="3.1"/><circle cx="1183.5" cy="220.9" r="3.1"/><circle cx="1203.1" cy="229.9" r="3.1"/><circle cx="1198.3" cy="229.8" r="3.1"/><circle cx="1180.9" cy="224.2" r="3.1"/><circle cx="1185.3" cy="227.6" r="3.1"/><circle cx="1212.8" cy="223.2" r="3.1"/><circle cx="1194.0" cy="229.2" r="3.1"/><circle cx="1187.5" cy="225.7" r="3.1"/><circle cx="1193.6" cy="218.0" r="3.1"/><circle cx="1204.3" cy="218.8" r="3.1"/><circle cx="1192.4" cy="227.6" r="3.1"/><circle cx="1215.0" cy="231.4" r="3.1"/><circle cx="1179.0" cy="216.8" r="3.1"/><circle cx="1206.6" cy="230.1" r="3.1"/><circle cx="1197.7" cy="213.6" r="3.1"/><circle cx="1210.2" cy="224.6" r="3.1"/><circle cx="1200.9" cy="228.9" r="3.1"/><circle cx="1215.0" cy="223.8" r="3.1"/><circle cx="1197.3" cy="220.3" r="3.1"/><circle cx="1191.8" cy="217.7" r="3.1"/><circle cx="1202.8" cy="220.4" r="3.1"/><circle cx="1201.3" cy="228.8" r="3.1"/><circle cx="1193.4" cy="227.8" r="3.1"/><circle cx="1194.5" cy="220.9" r="3.1"/><circle cx="1204.2" cy="215.0" r="3.1"/><circle cx="1204.0" cy="226.5" r="3.1"/><circle cx="1192.1" cy="213.8" r="3.1"/><circle cx="1193.3" cy="219.3" r="3.1"/><circle cx="1179.0" cy="218.1" r="3.1"/><circle cx="1213.8" cy="227.0" r="3.1"/><circle cx="1194.8" cy="223.9" r="3.1"/><circle cx="1210.4" cy="225.3" r="3.1"/><circle cx="1201.2" cy="224.1" r="3.1"/><circle cx="1215.0" cy="218.4" r="3.1"/><circle cx="1212.4" cy="225.7" r="3.1"/><circle cx="1200.2" cy="231.0" r="3.1"/><circle cx="1226.0" cy="227.6" r="3.1"/><circle cx="1195.4" cy="207.7" r="3.1"/><circle cx="1187.8" cy="234.3" r="3.1"/><circle cx="1203.4" cy="235.2" r="3.1"/></g>
</g>
<path d="M1165.40 46.6V387.2M1243.30 46.6V387.2M1321.20 46.6V387.2M1398.80 46.6V387.2M1477.00 46.6V387.2M1150.5 57.30H1493.4M1150.5 98.90H1493.4M1150.5 140.50H1493.4M1150.5 182.10H1493.4M1150.5 223.70H1493.4M1150.5 265.30H1493.4M1150.5 306.90H1493.4M1150.5 348.90H1493.4" stroke="#d6d6d6" stroke-width="1.5" fill="none"/>
<rect x="1150.5" y="46.6" width="342.9000000000001" height="340.59999999999997" fill="none" stroke="#7a7a7a" stroke-width="1.9"/>
<path d="M1165.40 387.2v2.6M1243.30 387.2v2.6M1321.20 387.2v2.6M1398.80 387.2v2.6M1477.00 387.2v2.6M1150.5 57.30h-2.6M1150.5 98.90h-2.6M1150.5 140.50h-2.6M1150.5 182.10h-2.6M1150.5 223.70h-2.6M1150.5 265.30h-2.6M1150.5 306.90h-2.6M1150.5 348.90h-2.6" stroke="#333" stroke-width="1.6" fill="none"/>
<text transform="scale(1.1458,1)" x="1008.38 1018.20" y="403.40" font-size="15.00" fill="#000" stroke="#000" stroke-width="0.08">−5</text>
<text transform="scale(1.0521,1)" x="1177.55" y="403.40" font-size="15.00" fill="#000" stroke="#000" stroke-width="0.08">0</text>
<text transform="scale(1.0000,1)" x="1317.04" y="403.40" font-size="15.00" fill="#000" stroke="#000" stroke-width="0.08">5</text>
<text transform="scale(1.0273,1)" x="1352.38 1361.71" y="403.40" font-size="15.00" fill="#000" stroke="#000" stroke-width="0.08">10</text>
<text transform="scale(1.0000,1)" x="1467.80 1477.35" y="403.40" font-size="15.00" fill="#000" stroke="#000" stroke-width="0.08">15</text>
<text transform="scale(1.0321,1)" x="1091.46 1100.86" y="62.51" font-size="15.00" fill="#000" stroke="#000" stroke-width="0.08">20</text>
<text transform="scale(1.0000,1)" x="1127.03 1136.58" y="104.11" font-size="15.00" fill="#000" stroke="#000" stroke-width="0.08">15</text>
<text transform="scale(1.0273,1)" x="1096.65 1105.98" y="145.71" font-size="15.00" fill="#000" stroke="#000" stroke-width="0.08">10</text>
<text transform="scale(1.0000,1)" x="1136.58" y="187.31" font-size="15.00" fill="#000" stroke="#000" stroke-width="0.08">5</text>
<text transform="scale(1.0521,1)" x="1079.85" y="228.91" font-size="15.00" fill="#000" stroke="#000" stroke-width="0.08">0</text>
<text transform="scale(1.1458,1)" x="981.57 991.39" y="270.51" font-size="15.00" fill="#000" stroke="#000" stroke-width="0.08">−5</text>
<text transform="scale(1.1179,1)" x="997.44 1007.48 1016.07" y="312.11" font-size="15.00" fill="#000" stroke="#000" stroke-width="0.08">−10</text>
<text transform="scale(1.1004,1)" x="1013.64 1023.84 1032.53" y="354.11" font-size="15.00" fill="#000" stroke="#000" stroke-width="0.08">−15</text>
<rect x="1350.5" y="53.9" width="135.5" height="47.00000000000001" rx="3" fill="#fff" fill-opacity="0.8" stroke="#d5d5d5" stroke-width="1"/>
<circle cx="1371.2" cy="66.2" r="2.9" fill="#00087a" fill-opacity="0.8"/>
<text transform="scale(1.0780,1)" x="1296.82 1305.52 1318.76 1323.42 1332.07 1340.66 1344.29 1351.77" y="70.80" font-size="14.40" fill="#000" stroke="#000" stroke-width="0.08">1% noise</text>
<circle cx="1371.2" cy="87.9" r="2.9" fill="#e41a1c" fill-opacity="0.8"/>
<text transform="scale(1.0822,1)" x="1292.46 1301.12 1305.65 1314.31 1327.51 1332.16 1340.77 1349.34 1352.94 1360.39" y="92.50" font-size="14.40" fill="#000" stroke="#000" stroke-width="0.08">0.1% noise</text>
<text transform="scale(0.9929,1)" x="1284.30 1294.59 1302.05 1315.56 1321.40 1333.00 1344.55 1356.09 1367.64" y="41.80" font-size="19.50" fill="#000" stroke="#000" stroke-width="0.08">L = 10000</text>
<text transform="scale(1.0929,1)" x="1130.65 1140.03 1145.07 1148.95 1157.28 1165.13 1169.03 1177.02 1186.07 1189.73 1193.42 1203.72 1212.60 1225.68 1234.20 1242.77 1251.37 1259.91 1268.87 1273.78 1278.24" y="420.50" font-size="14.40" fill="#000" stroke="#000" stroke-width="0.08">Principal Component 1</text>
<text transform="translate(1107.00,217.50) rotate(-90) scale(1.0934,1)" x="-78.18 -68.80 -63.76 -59.89 -51.56 -43.71 -39.82 -31.83 -22.79 -19.13 -15.44 -5.15 3.73 16.81 25.32 33.88 42.48 51.02 59.98 64.88 69.25" y="0.00" font-size="14.40" fill="#000" stroke="#000" stroke-width="0.08">Principal Component 2</text>
<text x="1043.59" y="42.00" font-size="55.00" font-weight="bold" textLength="32.11" lengthAdjust="spacingAndGlyphs" fill="#000" stroke="#000" stroke-width="0.6" >c</text>
<clipPath id="c4"><rect x="1174.8" y="544.4" width="319.79999999999995" height="318.4"/></clipPath>
<g clip-path="url(#c4)">
<g fill="#00087a" fill-opacity="0.8"><circle cx="1326.2" cy="576.1" r="2.8"/><circle cx="1317.7" cy="618.5" r="2.8"/><circle cx="1357.5" cy="622.6" r="2.8"/><circle cx="1360.8" cy="628.8" r="2.8"/><circle cx="1372.2" cy="627.3" r="2.8"/><circle cx="1402.1" cy="621.7" r="2.8"/><circle cx="1427.0" cy="624.7" r="2.8"/><circle cx="1446.6" cy="628.2" r="2.8"/><circle cx="1328.8" cy="629.1" r="2.8"/><circle cx="1329.4" cy="630.8" r="2.8"/><circle cx="1404.1" cy="632.9" r="2.8"/><circle cx="1351.7" cy="635.8" r="2.8"/><circle cx="1349.1" cy="644.0" r="2.8"/><circle cx="1305.4" cy="648.4" r="2.8"/><circle cx="1308.3" cy="650.2" r="2.8"/><circle cx="1338.2" cy="651.9" r="2.8"/><circle cx="1340.3" cy="653.1" r="2.8"/><circle cx="1382.1" cy="649.3" r="2.8"/><circle cx="1384.5" cy="649.3" r="2.8"/><circle cx="1373.9" cy="652.5" r="2.8"/><circle cx="1348.2" cy="658.6" r="2.8"/><circle cx="1371.9" cy="658.4" r="2.8"/><circle cx="1375.1" cy="658.9" r="2.8"/><circle cx="1376.3" cy="661.6" r="2.8"/><circle cx="1337.0" cy="663.6" r="2.8"/><circle cx="1344.7" cy="668.9" r="2.8"/><circle cx="1284.9" cy="672.4" r="2.8"/><circle cx="1301.0" cy="675.9" r="2.8"/><circle cx="1310.4" cy="674.5" r="2.8"/><circle cx="1311.9" cy="674.8" r="2.8"/><circle cx="1325.3" cy="672.4" r="2.8"/><circle cx="1353.2" cy="676.2" r="2.8"/><circle cx="1370.7" cy="671.2" r="2.8"/><circle cx="1372.2" cy="677.7" r="2.8"/><circle cx="1385.1" cy="671.8" r="2.8"/><circle cx="1387.4" cy="678.9" r="2.8"/><circle cx="1409.4" cy="675.0" r="2.8"/><circle cx="1348.2" cy="682.7" r="2.8"/><circle cx="1354.6" cy="687.9" r="2.8"/><circle cx="1384.2" cy="684.4" r="2.8"/><circle cx="1410.3" cy="687.1" r="2.8"/><circle cx="1415.2" cy="684.4" r="2.8"/><circle cx="1314.8" cy="693.2" r="2.8"/><circle cx="1327.4" cy="702.6" r="2.8"/><circle cx="1336.2" cy="707.3" r="2.8"/><circle cx="1364.9" cy="701.7" r="2.8"/><circle cx="1397.7" cy="698.8" r="2.8"/><circle cx="1399.1" cy="706.7" r="2.8"/><circle cx="1412.9" cy="704.9" r="2.8"/><circle cx="1423.1" cy="708.1" r="2.8"/><circle cx="1461.2" cy="705.8" r="2.8"/><circle cx="1414.1" cy="710.8" r="2.8"/><circle cx="1378.9" cy="710.8" r="2.8"/><circle cx="1358.7" cy="715.5" r="2.8"/><circle cx="1339.4" cy="716.9" r="2.8"/><circle cx="1369.0" cy="713.4" r="2.8"/><circle cx="1369.8" cy="718.4" r="2.8"/><circle cx="1340.3" cy="724.2" r="2.8"/><circle cx="1343.8" cy="726.9" r="2.8"/><circle cx="1347.0" cy="725.4" r="2.8"/><circle cx="1397.7" cy="726.0" r="2.8"/><circle cx="1398.8" cy="727.8" r="2.8"/><circle cx="1283.5" cy="728.6" r="2.8"/><circle cx="1329.4" cy="728.6" r="2.8"/><circle cx="1335.3" cy="730.1" r="2.8"/><circle cx="1369.0" cy="728.1" r="2.8"/><circle cx="1287.6" cy="738.6" r="2.8"/><circle cx="1385.1" cy="738.6" r="2.8"/><circle cx="1392.7" cy="739.2" r="2.8"/><circle cx="1396.5" cy="738.6" r="2.8"/><circle cx="1400.6" cy="739.2" r="2.8"/><circle cx="1431.6" cy="744.2" r="2.8"/><circle cx="1318.3" cy="746.8" r="2.8"/><circle cx="1311.0" cy="751.8" r="2.8"/><circle cx="1337.9" cy="743.3" r="2.8"/><circle cx="1347.0" cy="747.4" r="2.8"/><circle cx="1360.2" cy="748.8" r="2.8"/><circle cx="1363.7" cy="744.5" r="2.8"/><circle cx="1388.0" cy="753.2" r="2.8"/><circle cx="1280.8" cy="759.7" r="2.8"/><circle cx="1298.4" cy="766.1" r="2.8"/><circle cx="1389.8" cy="762.9" r="2.8"/><circle cx="1395.3" cy="763.8" r="2.8"/><circle cx="1336.2" cy="772.3" r="2.8"/><circle cx="1455.9" cy="779.6" r="2.8"/><circle cx="1337.0" cy="783.4" r="2.8"/><circle cx="1364.9" cy="783.4" r="2.8"/><circle cx="1362.8" cy="785.5" r="2.8"/><circle cx="1372.5" cy="780.5" r="2.8"/><circle cx="1376.0" cy="786.6" r="2.8"/><circle cx="1359.3" cy="789.8" r="2.8"/><circle cx="1399.7" cy="792.8" r="2.8"/><circle cx="1334.4" cy="811.5" r="2.8"/><circle cx="1375.1" cy="810.1" r="2.8"/><circle cx="1297.2" cy="819.7" r="2.8"/><circle cx="1394.2" cy="831.4" r="2.8"/><circle cx="1416.1" cy="847.0" r="2.8"/><circle cx="1480.0" cy="849.0" r="2.8"/><circle cx="1389.5" cy="558.5" r="2.8"/></g>
<g fill="#e41a1c" fill-opacity="0.8"><circle cx="1221.4" cy="711.3" r="2.8"/><circle cx="1210.5" cy="707.9" r="2.8"/><circle cx="1216.8" cy="702.9" r="2.8"/><circle cx="1219.0" cy="712.1" r="2.8"/><circle cx="1220.0" cy="710.4" r="2.8"/><circle cx="1204.7" cy="718.2" r="2.8"/><circle cx="1196.6" cy="713.7" r="2.8"/><circle cx="1213.6" cy="722.0" r="2.8"/><circle cx="1212.4" cy="701.9" r="2.8"/><circle cx="1206.9" cy="710.8" r="2.8"/><circle cx="1207.0" cy="722.4" r="2.8"/><circle cx="1202.1" cy="704.1" r="2.8"/><circle cx="1207.7" cy="714.5" r="2.8"/><circle cx="1221.2" cy="713.0" r="2.8"/><circle cx="1199.5" cy="721.7" r="2.8"/><circle cx="1206.7" cy="715.4" r="2.8"/><circle cx="1206.2" cy="704.0" r="2.8"/><circle cx="1213.2" cy="717.7" r="2.8"/><circle cx="1197.0" cy="710.0" r="2.8"/><circle cx="1202.5" cy="702.8" r="2.8"/><circle cx="1219.4" cy="708.1" r="2.8"/><circle cx="1220.4" cy="711.9" r="2.8"/><circle cx="1217.4" cy="705.4" r="2.8"/><circle cx="1203.0" cy="707.2" r="2.8"/><circle cx="1222.3" cy="709.3" r="2.8"/><circle cx="1207.0" cy="722.3" r="2.8"/><circle cx="1220.1" cy="708.4" r="2.8"/><circle cx="1200.8" cy="718.6" r="2.8"/><circle cx="1194.3" cy="708.3" r="2.8"/><circle cx="1198.4" cy="700.6" r="2.8"/><circle cx="1216.3" cy="714.0" r="2.8"/><circle cx="1198.5" cy="711.1" r="2.8"/><circle cx="1193.1" cy="716.0" r="2.8"/><circle cx="1207.9" cy="716.1" r="2.8"/><circle cx="1193.7" cy="714.6" r="2.8"/><circle cx="1202.8" cy="711.0" r="2.8"/><circle cx="1201.7" cy="714.3" r="2.8"/><circle cx="1209.2" cy="713.9" r="2.8"/><circle cx="1193.1" cy="708.1" r="2.8"/><circle cx="1206.4" cy="701.4" r="2.8"/><circle cx="1212.4" cy="710.7" r="2.8"/><circle cx="1207.0" cy="713.4" r="2.8"/><circle cx="1221.1" cy="713.2" r="2.8"/><circle cx="1213.3" cy="706.6" r="2.8"/><circle cx="1215.3" cy="711.3" r="2.8"/><circle cx="1203.1" cy="716.9" r="2.8"/><circle cx="1196.7" cy="705.7" r="2.8"/><circle cx="1200.3" cy="708.9" r="2.8"/><circle cx="1217.4" cy="714.3" r="2.8"/><circle cx="1207.1" cy="720.9" r="2.8"/><circle cx="1202.6" cy="712.3" r="2.8"/><circle cx="1218.3" cy="707.1" r="2.8"/><circle cx="1215.0" cy="713.4" r="2.8"/><circle cx="1207.8" cy="714.2" r="2.8"/><circle cx="1206.5" cy="701.4" r="2.8"/><circle cx="1217.8" cy="707.4" r="2.8"/><circle cx="1211.3" cy="717.7" r="2.8"/><circle cx="1198.3" cy="711.9" r="2.8"/><circle cx="1213.7" cy="719.3" r="2.8"/><circle cx="1203.5" cy="717.2" r="2.8"/><circle cx="1203.3" cy="721.7" r="2.8"/><circle cx="1215.9" cy="708.0" r="2.8"/><circle cx="1220.8" cy="715.8" r="2.8"/><circle cx="1201.4" cy="714.6" r="2.8"/><circle cx="1216.2" cy="714.2" r="2.8"/><circle cx="1219.5" cy="708.9" r="2.8"/><circle cx="1201.2" cy="707.8" r="2.8"/><circle cx="1199.9" cy="710.5" r="2.8"/><circle cx="1215.3" cy="720.3" r="2.8"/><circle cx="1211.3" cy="718.1" r="2.8"/><circle cx="1222.2" cy="715.0" r="2.8"/><circle cx="1193.5" cy="714.1" r="2.8"/><circle cx="1223.1" cy="710.7" r="2.8"/><circle cx="1218.0" cy="706.0" r="2.8"/><circle cx="1203.5" cy="701.9" r="2.8"/><circle cx="1215.0" cy="701.7" r="2.8"/><circle cx="1211.0" cy="705.0" r="2.8"/><circle cx="1209.8" cy="720.7" r="2.8"/><circle cx="1208.2" cy="715.2" r="2.8"/><circle cx="1217.1" cy="716.1" r="2.8"/><circle cx="1213.3" cy="724.6" r="2.8"/><circle cx="1198.2" cy="712.7" r="2.8"/><circle cx="1192.8" cy="709.1" r="2.8"/><circle cx="1190.8" cy="714.0" r="2.8"/><circle cx="1203.8" cy="714.3" r="2.8"/><circle cx="1218.2" cy="712.2" r="2.8"/><circle cx="1207.3" cy="715.6" r="2.8"/><circle cx="1211.6" cy="697.7" r="2.8"/><circle cx="1216.2" cy="715.7" r="2.8"/><circle cx="1199.1" cy="705.6" r="2.8"/><circle cx="1223.2" cy="717.3" r="2.8"/><circle cx="1199.1" cy="710.8" r="2.8"/><circle cx="1210.4" cy="703.0" r="2.8"/><circle cx="1223.2" cy="710.4" r="2.8"/><circle cx="1206.0" cy="702.9" r="2.8"/><circle cx="1208.0" cy="719.1" r="2.8"/><circle cx="1202.4" cy="710.8" r="2.8"/><circle cx="1210.0" cy="717.8" r="2.8"/><circle cx="1190.8" cy="702.1" r="2.8"/><circle cx="1201.2" cy="724.0" r="2.8"/><circle cx="1218.4" cy="694.2" r="2.8"/><circle cx="1204.4" cy="731.0" r="2.8"/><circle cx="1217.8" cy="725.6" r="2.8"/></g>
</g>
<path d="M1205.30 544.4V862.8M1285.50 544.4V862.8M1366.00 544.4V862.8M1446.60 544.4V862.8M1174.8 555.30H1494.6M1174.8 606.50H1494.6M1174.8 657.80H1494.6M1174.8 709.00H1494.6M1174.8 760.30H1494.6M1174.8 811.50H1494.6M1174.8 862.80H1494.6" stroke="#d6d6d6" stroke-width="1.5" fill="none"/>
<rect x="1174.8" y="544.4" width="319.79999999999995" height="318.4" fill="none" stroke="#7a7a7a" stroke-width="1.9"/>
<path d="M1205.30 862.8v2.6M1285.50 862.8v2.6M1366.00 862.8v2.6M1446.60 862.8v2.6M1174.8 555.30h-2.6M1174.8 606.50h-2.6M1174.8 657.80h-2.6M1174.8 709.00h-2.6M1174.8 760.30h-2.6M1174.8 811.50h-2.6M1174.8 862.80h-2.6" stroke="#333" stroke-width="1.6" fill="none"/>
<text transform="scale(1.1140,1)" x="1073.61 1083.03" y="879.00" font-size="14.40" fill="#000" stroke="#000" stroke-width="0.08">−5</text>
<text transform="scale(1.0229,1)" x="1252.74" y="879.00" font-size="14.40" fill="#000" stroke="#000" stroke-width="0.08">0</text>
<text transform="scale(0.9722,1)" x="1401.03" y="879.00" font-size="14.40" fill="#000" stroke="#000" stroke-width="0.08">5</text>
<text transform="scale(0.9988,1)" x="1439.51 1448.47" y="879.00" font-size="14.40" fill="#000" stroke="#000" stroke-width="0.08">10</text>
<text transform="scale(0.9722,1)" x="1185.41 1194.57" y="560.30" font-size="14.40" fill="#000" stroke="#000" stroke-width="0.08">15</text>
<text transform="scale(0.9988,1)" x="1153.49 1162.45" y="611.50" font-size="14.40" fill="#000" stroke="#000" stroke-width="0.08">10</text>
<text transform="scale(0.9722,1)" x="1194.57" y="662.80" font-size="14.40" fill="#000" stroke="#000" stroke-width="0.08">5</text>
<text transform="scale(1.0229,1)" x="1135.00" y="714.00" font-size="14.40" fill="#000" stroke="#000" stroke-width="0.08">0</text>
<text transform="scale(1.1140,1)" x="1032.60 1042.03" y="765.30" font-size="14.40" fill="#000" stroke="#000" stroke-width="0.08">−5</text>
<text transform="scale(1.0868,1)" x="1050.10 1059.73 1067.98" y="816.50" font-size="14.40" fill="#000" stroke="#000" stroke-width="0.08">−10</text>
<text transform="scale(1.0698,1)" x="1067.12 1076.91 1085.26" y="867.80" font-size="14.40" fill="#000" stroke="#000" stroke-width="0.08">−15</text>
<rect x="1361.6" y="551.8" width="126.0" height="44.5" rx="3" fill="#fff" fill-opacity="0.8" stroke="#d5d5d5" stroke-width="1"/>
<circle cx="1380.7" cy="563.5" r="2.9" fill="#00087a" fill-opacity="0.8"/>
<text transform="scale(1.0203,1)" x="1377.19 1385.78 1398.83 1403.43 1411.95 1420.43 1424.00 1431.38" y="568.10" font-size="14.20" fill="#000" stroke="#000" stroke-width="0.08">1% noise</text>
<circle cx="1380.7" cy="583.4" r="2.9" fill="#e41a1c" fill-opacity="0.8"/>
<text transform="scale(1.0243,1)" x="1372.52 1381.05 1385.52 1394.07 1407.08 1411.66 1420.15 1428.60 1432.16 1439.50" y="588.00" font-size="14.20" fill="#000" stroke="#000" stroke-width="0.08">0.1% noise</text>
<text transform="scale(0.9987,1)" x="1210.50 1224.09 1231.06 1243.50 1249.46 1255.79 1265.70 1276.50 1282.50 1287.18 1298.17 1309.85 1321.31 1332.52 1337.87 1350.47 1360.36 1372.06 1377.26 1387.93 1393.42 1404.07 1414.53 1424.96 1435.83 1451.68" y="540.90" font-size="17.60" fill="#000" stroke="#000" stroke-width="0.08">G = root SARS-CoV-2 genome</text>
<text transform="scale(1.0344,1)" x="1212.48 1221.72 1226.70 1230.52 1238.74 1246.48 1250.32 1258.20 1267.13 1270.73 1274.37 1284.53 1293.29 1306.19 1314.58 1323.03 1331.51 1339.94 1348.78 1353.61 1358.02" y="893.50" font-size="14.20" fill="#000" stroke="#000" stroke-width="0.08">Principal Component 1</text>
<text transform="translate(1134.00,704.70) rotate(-90) scale(1.0349,1)" x="-77.09 -67.85 -62.88 -59.06 -50.84 -43.10 -39.26 -31.39 -22.47 -18.86 -15.23 -5.08 3.68 16.57 24.97 33.41 41.89 50.31 59.14 63.98 68.28" y="0.00" font-size="14.20" fill="#000" stroke="#000" stroke-width="0.08">Principal Component 2</text>
<text x="1095.67" y="535.60" font-size="55.00" font-weight="bold" textLength="20.71" lengthAdjust="spacingAndGlyphs" fill="#000" stroke="#000" stroke-width="0.6" >f</text>
<clipPath id="c5"><rect x="125.2" y="1006.9" width="338.1" height="341.1"/></clipPath>
<g clip-path="url(#c5)">
<path stroke="#f00" stroke-width="6.3" stroke-linecap="round" fill="none" d="M229.3 1200.2h0M208.3 1175.9h0M251.5 1196.6h0M278.3 1128.6h0M307.0 1209.5h0M265.8 1206.4h0M239.3 1205.7h0M230.0 1277.6h0M291.5 1260.0h0M327.0 1178.3h0M272.4 1212.4h0M212.0 1144.4h0M223.0 1202.5h0M325.6 1206.1h0M269.6 1158.7h0M192.0 1188.4h0M258.1 1135.9h0M214.8 1241.2h0M236.2 1182.0h0M241.9 1172.5h0M232.8 1177.3h0M283.6 1153.7h0M258.9 1158.5h0M237.8 1197.7h0M277.9 1221.1h0M294.7 1160.1h0M195.5 1196.8h0M251.1 1160.6h0M222.1 1144.9h0M254.5 1190.2h0M209.7 1233.7h0M262.3 1207.9h0M259.9 1166.5h0M249.2 1206.9h0M219.4 1150.8h0M245.5 1195.6h0M217.7 1191.8h0M207.1 1221.7h0M270.4 1200.8h0M216.9 1153.5h0M308.4 1210.4h0M290.2 1210.1h0M181.3 1227.8h0M272.3 1166.2h0M217.2 1257.4h0M262.8 1223.1h0M263.2 1161.4h0M181.7 1141.2h0M252.1 1206.4h0M251.2 1159.5h0M300.0 1276.2h0M214.1 1167.8h0M291.0 1186.3h0M217.4 1246.3h0M248.1 1268.4h0M227.7 1218.0h0M319.5 1187.8h0M284.2 1183.5h0M358.9 1193.7h0M287.2 1167.6h0M295.3 1170.4h0M295.1 1252.9h0M237.1 1213.3h0M258.6 1218.4h0M315.6 1157.6h0M245.5 1217.7h0M269.0 1158.5h0M260.6 1194.6h0M285.9 1105.5h0M246.8 1200.2h0M255.3 1198.1h0M271.1 1202.7h0M265.6 1192.5h0M226.7 1102.2h0M297.3 1218.2h0M209.4 1232.8h0M213.3 1206.2h0M210.0 1171.8h0M300.2 1237.5h0M247.0 1167.0h0M222.5 1168.3h0M215.9 1205.1h0M278.3 1208.6h0M219.1 1229.8h0M210.4 1209.5h0M286.0 1230.3h0M213.4 1149.5h0M248.5 1134.4h0M261.2 1210.0h0M243.6 1200.4h0M259.3 1274.0h0M315.1 1219.8h0M240.7 1185.5h0M210.9 1188.2h0M187.8 1194.1h0M253.2 1165.6h0M247.3 1195.4h0M272.1 1214.4h0M242.8 1135.8h0M242.2 1274.9h0M232.5 1244.9h0M240.6 1228.4h0M267.9 1228.1h0M246.2 1230.0h0M265.5 1208.3h0M337.7 1227.7h0M280.6 1201.8h0M198.2 1176.3h0M330.9 1198.6h0M275.4 1194.5h0M223.7 1236.8h0M297.8 1244.7h0M262.1 1211.5h0M236.8 1163.4h0M236.0 1185.1h0M221.6 1157.1h0M263.4 1160.8h0M304.3 1155.7h0M248.4 1231.8h0M278.3 1151.2h0M336.6 1170.2h0M212.7 1118.2h0M271.8 1176.8h0M249.1 1187.2h0M219.0 1205.1h0M220.3 1193.5h0M260.8 1265.1h0M278.8 1209.8h0M240.1 1201.5h0M263.6 1161.0h0M290.4 1225.8h0M273.3 1194.8h0M296.3 1128.1h0M279.9 1220.8h0M281.0 1166.8h0M334.7 1221.0h0M286.4 1203.9h0M266.6 1181.9h0M289.9 1165.3h0M224.6 1219.3h0M247.9 1240.1h0M293.2 1140.3h0M286.7 1192.6h0M323.5 1168.8h0M261.8 1164.1h0M202.8 1170.2h0M339.5 1210.2h0M305.3 1205.3h0M219.0 1260.9h0M316.6 1192.9h0M262.7 1218.3h0M188.7 1200.8h0M244.6 1126.7h0M241.0 1173.0h0M325.2 1197.9h0M229.7 1253.2h0M251.3 1171.4h0M250.3 1140.4h0M246.2 1232.1h0M224.8 1183.3h0M270.2 1220.2h0M304.6 1205.9h0M286.4 1214.2h0M224.2 1262.8h0M215.3 1220.0h0M266.2 1263.2h0M233.1 1145.9h0M236.2 1159.3h0M194.1 1198.3h0M339.6 1189.1h0M298.2 1197.7h0M222.4 1192.2h0M297.8 1192.3h0M315.3 1209.3h0M165.6 1206.5h0M239.4 1252.3h0M245.9 1239.0h0M287.4 1223.6h0M256.6 1191.9h0M252.2 1214.4h0M259.1 1125.8h0M335.7 1207.3h0M348.0 1213.8h0M240.4 1183.1h0M224.3 1159.9h0M369.4 1127.9h0M222.1 1162.0h0M238.4 1222.7h0M262.9 1206.5h0M280.8 1159.0h0M302.7 1189.8h0M277.1 1168.7h0M226.4 1202.7h0M281.7 1137.6h0M271.4 1143.6h0M336.7 1156.0h0M260.8 1193.6h0M207.8 1262.1h0M219.5 1251.9h0M319.6 1186.9h0M239.8 1174.2h0M177.0 1312.3h0M238.1 1217.8h0M261.4 1154.9h0M309.1 1162.5h0M220.7 1218.7h0M288.2 1174.7h0M293.3 1198.2h0M233.4 1207.8h0M253.9 1156.0h0M332.4 1155.2h0M330.4 1219.6h0M295.7 1235.8h0M274.7 1249.8h0M307.1 1254.2h0M255.8 1147.6h0M257.6 1126.6h0M226.9 1190.9h0M261.6 1158.4h0M258.1 1225.5h0M372.6 1201.7h0M253.7 1163.6h0M312.4 1186.8h0M314.4 1200.4h0M253.9 1263.2h0M308.3 1255.1h0M174.1 1215.0h0M265.2 1220.3h0M295.8 1201.8h0M165.3 1223.6h0M214.9 1207.3h0M303.8 1196.6h0M251.1 1179.0h0M217.4 1196.4h0M246.4 1220.1h0M239.7 1209.7h0M290.5 1164.1h0M279.6 1206.9h0M250.2 1236.3h0M234.7 1237.9h0M259.3 1188.1h0M314.6 1177.5h0M275.4 1151.9h0M287.0 1211.5h0M255.4 1146.1h0M209.6 1212.6h0M232.9 1208.2h0M287.5 1221.1h0M265.6 1179.0h0M225.2 1158.9h0M196.6 1200.3h0M265.9 1218.6h0M247.8 1258.7h0M247.4 1193.6h0M248.2 1212.6h0M272.8 1207.1h0M273.2 1223.7h0M300.0 1233.1h0M298.7 1216.0h0M314.8 1182.3h0M293.8 1162.7h0M248.0 1200.0h0M259.3 1187.2h0M281.2 1207.2h0M249.0 1204.4h0M283.5 1252.2h0M307.7 1165.7h0M229.3 1176.7h0M190.4 1143.7h0M309.3 1223.2h0M262.1 1194.7h0M289.8 1235.1h0M208.0 1190.4h0M330.9 1204.4h0M291.0 1173.7h0M256.4 1205.2h0M247.3 1174.9h0M266.0 1218.4h0M254.7 1176.8h0M250.3 1211.2h0M216.5 1216.4h0M312.1 1196.2h0M259.8 1185.5h0M264.4 1253.7h0M265.2 1257.7h0M166.9 1192.3h0M282.6 1201.7h0M248.2 1277.5h0M249.8 1264.9h0M264.2 1229.0h0M222.4 1187.3h0M295.2 1191.7h0M233.5 1160.9h0M225.2 1154.6h0M226.9 1108.6h0M267.8 1254.8h0M291.3 1201.0h0M237.6 1158.6h0M200.9 1247.6h0M304.0 1253.5h0M218.7 1191.9h0M309.3 1157.4h0M259.2 1151.4h0M233.4 1267.6h0M235.8 1246.0h0M279.9 1203.1h0M297.1 1219.7h0M253.5 1187.0h0M299.4 1194.2h0M345.1 1131.8h0M253.1 1201.8h0M215.3 1192.3h0M219.1 1196.4h0M205.7 1156.9h0M235.8 1242.0h0M232.4 1184.5h0M208.3 1228.9h0M282.7 1253.7h0M156.7 1153.9h0M208.5 1179.0h0M342.2 1145.4h0M303.0 1189.3h0M282.4 1174.0h0M279.8 1193.7h0M332.4 1177.0h0M282.9 1214.7h0M264.5 1133.1h0M212.1 1232.9h0M258.5 1132.9h0M232.0 1206.3h0M233.1 1165.1h0M232.8 1193.3h0M259.6 1181.4h0M248.2 1141.1h0M296.4 1193.0h0M208.2 1234.9h0M254.6 1189.2h0M336.0 1173.3h0M263.0 1293.2h0M309.5 1160.7h0M307.0 1156.2h0M314.2 1266.8h0M291.0 1204.3h0M206.1 1166.6h0M250.7 1243.2h0M246.2 1214.7h0M199.3 1211.5h0M242.8 1176.7h0M211.3 1155.2h0M194.6 1199.5h0M269.9 1195.9h0M259.7 1162.4h0M233.8 1177.3h0M223.3 1202.6h0M239.7 1146.7h0M245.6 1253.3h0M245.1 1192.5h0M259.3 1214.7h0M244.0 1218.0h0M276.9 1190.7h0M282.4 1196.9h0M275.8 1102.8h0M234.8 1173.4h0M236.7 1184.7h0M278.9 1134.2h0M253.5 1158.9h0M259.7 1270.9h0M161.5 1193.7h0M153.2 1169.5h0M274.9 1222.1h0M274.6 1187.0h0M317.3 1216.3h0M290.3 1184.0h0M270.3 1262.1h0M262.1 1274.6h0M204.2 1220.1h0M296.8 1190.0h0M237.2 1146.9h0M281.6 1209.6h0M269.4 1228.1h0M272.3 1163.2h0M297.2 1197.6h0M241.8 1128.6h0M245.9 1202.5h0M227.1 1275.0h0M246.3 1230.2h0M328.2 1236.3h0M246.9 1253.5h0M309.0 1229.4h0M294.5 1226.1h0M290.7 1210.4h0M293.6 1220.7h0M220.8 1183.4h0M276.4 1183.2h0M325.1 1192.4h0M233.5 1191.7h0M259.5 1273.0h0M233.8 1264.6h0M274.1 1233.8h0M218.2 1189.5h0M326.0 1256.7h0M246.3 1215.9h0M199.6 1189.8h0M333.2 1121.8h0M300.3 1189.3h0M282.2 1220.5h0M282.8 1156.8h0M247.1 1191.6h0M252.5 1211.4h0M290.5 1156.1h0M298.2 1235.7h0M298.8 1192.3h0M269.9 1196.7h0M242.7 1164.5h0M253.7 1244.9h0M305.9 1250.8h0M319.2 1215.4h0M247.7 1211.0h0M242.3 1198.6h0M311.5 1215.0h0M290.4 1183.5h0M289.4 1173.4h0M208.8 1191.7h0M246.4 1241.9h0M240.8 1155.3h0M269.8 1260.8h0M193.9 1208.7h0M312.4 1165.7h0M273.5 1224.9h0M278.9 1150.0h0M213.9 1125.6h0M260.4 1138.9h0M314.9 1183.7h0M198.5 1162.3h0M273.7 1221.0h0M289.4 1185.1h0M233.7 1182.9h0M294.1 1197.1h0M248.2 1194.7h0M310.7 1209.0h0M282.6 1277.9h0M270.4 1185.1h0M342.0 1188.5h0M294.8 1120.1h0M313.9 1172.8h0M213.7 1198.2h0M235.5 1166.4h0M295.0 1176.3h0M297.7 1201.5h0M259.2 1215.8h0M292.7 1258.5h0M219.0 1196.0h0M270.0 1136.8h0M215.4 1274.2h0M275.1 1238.2h0M241.9 1171.0h0M235.7 1193.2h0M263.7 1184.2h0M334.3 1274.0h0M220.9 1224.0h0M237.3 1180.9h0M304.2 1177.6h0M244.4 1189.1h0M332.4 1235.5h0M270.3 1179.5h0M265.1 1247.8h0M275.7 1237.8h0M331.2 1246.7h0M287.7 1144.0h0M282.1 1217.0h0M271.5 1198.6h0M198.8 1287.5h0M225.9 1157.7h0M320.9 1182.6h0M294.4 1266.1h0M281.7 1264.2h0M287.0 1135.4h0M239.6 1238.1h0M275.0 1128.3h0M225.3 1219.4h0M277.1 1298.8h0M232.8 1157.2h0M252.9 1181.1h0M279.6 1174.0h0M248.3 1221.0h0M287.4 1209.4h0M279.7 1163.2h0M275.8 1233.4h0M314.5 1278.6h0M202.3 1165.1h0M197.4 1225.5h0M286.1 1150.7h0M299.2 1220.1h0M342.1 1217.9h0M291.8 1211.0h0M294.7 1294.1h0M226.0 1154.6h0M291.6 1225.9h0M288.4 1208.8h0M219.1 1143.2h0M225.5 1196.5h0M257.0 1165.7h0M273.0 1187.8h0M143.3 1170.5h0M264.2 1190.1h0M270.7 1155.4h0M254.3 1209.3h0M272.1 1182.8h0M279.7 1229.0h0M220.9 1154.1h0M278.1 1287.3h0M251.3 1193.6h0M223.5 1186.7h0M269.8 1187.4h0M321.1 1201.2h0M202.9 1148.0h0M195.1 1117.3h0M195.1 1224.5h0M340.7 1276.4h0M251.3 1244.0h0M259.0 1233.1h0M229.9 1206.3h0M223.7 1203.1h0M180.1 1158.3h0M268.3 1217.8h0M271.8 1202.4h0M182.2 1196.6h0M219.6 1235.7h0M231.6 1213.5h0M260.4 1091.9h0M271.2 1204.6h0M306.6 1239.1h0M316.1 1287.1h0M304.3 1159.9h0M315.2 1213.7h0M214.7 1226.1h0M239.2 1104.2h0M307.3 1144.3h0M273.0 1268.7h0M262.2 1214.8h0M182.1 1161.5h0M186.9 1168.0h0M290.7 1245.1h0M275.1 1130.7h0M249.6 1127.8h0M244.9 1244.9h0M192.2 1270.9h0M276.3 1256.1h0M302.9 1174.7h0M327.3 1158.4h0M263.4 1193.8h0M253.2 1224.7h0M217.5 1204.9h0M310.5 1178.9h0M329.9 1249.2h0M236.8 1268.4h0M273.1 1204.6h0M265.1 1152.4h0M238.4 1193.7h0M161.3 1193.6h0M246.8 1228.0h0M285.8 1164.9h0M203.6 1268.9h0M227.8 1204.0h0M137.1 1224.9h0M312.9 1207.5h0M281.5 1238.1h0M263.3 1171.9h0M250.6 1204.6h0M235.9 1225.2h0M258.3 1181.4h0M249.0 1203.7h0M251.5 1222.2h0M260.1 1225.0h0M266.5 1170.9h0M323.5 1238.9h0M203.3 1210.6h0M271.9 1212.4h0M236.4 1189.4h0M215.7 1209.5h0M166.5 1116.5h0M285.8 1271.0h0M221.7 1178.4h0M231.0 1203.2h0M279.9 1158.0h0M217.6 1266.2h0M262.1 1153.8h0M258.0 1256.7h0M293.2 1174.6h0M301.6 1181.7h0M226.3 1200.8h0M297.8 1231.2h0M257.1 1234.3h0M265.9 1198.1h0M252.5 1231.7h0M292.1 1279.2h0M212.4 1273.6h0M271.5 1170.3h0M308.2 1169.4h0M249.7 1181.5h0M342.3 1200.0h0M231.5 1186.7h0M269.6 1182.2h0M241.7 1191.7h0M236.2 1233.0h0M216.3 1230.6h0M239.4 1247.2h0M258.9 1195.6h0M228.8 1240.8h0M296.4 1207.8h0M322.0 1149.4h0M199.7 1216.3h0M294.5 1162.9h0M268.6 1139.6h0M270.8 1273.5h0M359.7 1258.0h0M309.3 1182.5h0M274.4 1229.2h0M268.4 1180.0h0M174.6 1173.1h0M292.4 1221.4h0M231.4 1168.3h0M268.5 1131.9h0M265.3 1163.1h0M299.9 1235.5h0M342.8 1206.6h0M300.9 1222.0h0M312.5 1138.7h0M252.0 1208.3h0M279.7 1227.9h0M292.3 1198.7h0M203.7 1180.2h0M343.3 1215.3h0M232.8 1196.2h0M210.2 1200.4h0M327.0 1171.1h0M346.4 1161.7h0M233.2 1189.4h0M236.8 1218.7h0M385.7 1184.1h0M265.9 1235.4h0M181.9 1157.5h0M236.9 1186.2h0M341.7 1190.3h0M287.9 1295.8h0M291.6 1106.1h0M310.5 1142.2h0M288.5 1149.5h0M248.1 1194.6h0M197.5 1173.0h0M279.3 1086.4h0M216.7 1226.4h0M259.2 1169.7h0M332.0 1175.3h0M283.1 1193.5h0M263.8 1185.0h0M264.1 1237.6h0M290.7 1173.1h0M298.4 1250.4h0M208.6 1126.0h0M268.9 1166.7h0M330.2 1232.0h0M291.7 1281.0h0M230.7 1194.0h0M234.2 1178.0h0M178.7 1237.4h0M229.6 1131.5h0M325.9 1187.0h0M258.6 1216.1h0M227.1 1252.9h0M238.3 1202.3h0M257.0 1205.4h0M257.2 1171.7h0M247.2 1155.9h0M230.6 1196.2h0M287.0 1179.1h0M323.1 1141.0h0M238.7 1172.9h0M239.7 1207.5h0M309.1 1172.8h0M202.7 1218.0h0M237.7 1179.4h0M246.3 1195.3h0M268.2 1240.8h0M250.4 1173.4h0M225.9 1194.0h0M273.9 1168.4h0M213.8 1249.9h0M191.6 1153.5h0M180.1 1151.8h0M291.4 1211.3h0M191.8 1201.3h0M279.4 1195.6h0M288.3 1198.4h0M293.8 1164.5h0M254.4 1225.9h0M239.4 1243.2h0M264.9 1207.4h0M237.6 1122.8h0M209.9 1213.4h0M311.8 1237.7h0M225.6 1234.6h0M333.4 1191.7h0M282.1 1151.8h0M243.2 1227.6h0M279.0 1191.7h0M310.8 1190.1h0M206.2 1180.2h0M224.3 1193.0h0M219.4 1157.1h0M268.0 1171.6h0M277.6 1223.1h0M262.6 1102.8h0M232.2 1252.8h0M240.2 1251.0h0M309.0 1157.9h0M306.2 1191.5h0M266.7 1208.7h0M208.9 1191.0h0M286.6 1171.8h0M273.0 1215.7h0M271.6 1224.1h0M330.8 1240.5h0M294.3 1233.2h0M222.3 1230.8h0M222.7 1153.8h0M316.8 1188.1h0M269.7 1177.7h0M297.0 1221.5h0M257.2 1157.7h0M223.4 1261.0h0M274.4 1180.5h0M326.3 1171.8h0M277.4 1222.3h0M218.7 1240.0h0M251.6 1178.8h0M244.2 1227.5h0M271.3 1234.9h0M305.5 1200.4h0M343.8 1243.8h0M274.0 1205.0h0M247.9 1119.4h0M268.3 1216.9h0M265.9 1163.7h0M248.2 1241.3h0M266.2 1196.3h0M265.2 1210.3h0M218.1 1206.2h0M287.2 1169.7h0M250.7 1114.6h0M225.8 1204.7h0M284.9 1148.0h0M245.7 1185.8h0M335.1 1170.5h0M284.3 1218.2h0M268.2 1227.6h0M234.7 1207.6h0M248.7 1230.3h0M298.9 1200.1h0M237.3 1241.5h0M295.3 1199.5h0M180.5 1192.7h0M272.7 1127.9h0M297.3 1131.5h0M278.1 1179.5h0M264.3 1219.6h0M305.0 1175.6h0M230.2 1167.4h0M225.0 1207.4h0M268.7 1233.3h0M312.7 1270.6h0M281.7 1201.2h0M256.6 1123.6h0M276.5 1207.8h0M282.2 1184.4h0M214.5 1185.2h0M151.7 1180.5h0M223.3 1169.0h0M204.5 1279.0h0M241.2 1205.5h0M216.2 1184.7h0M229.7 1203.1h0M281.8 1151.4h0M268.4 1214.2h0M263.6 1163.0h0M331.2 1129.5h0M246.2 1209.4h0M249.5 1198.2h0M315.6 1210.8h0M220.3 1168.9h0M199.6 1283.9h0M317.5 1257.1h0M278.6 1210.7h0M289.3 1164.5h0M290.8 1175.6h0M301.5 1231.4h0M246.5 1135.4h0M262.4 1194.5h0M220.9 1223.6h0M271.2 1177.8h0M275.0 1147.1h0M247.5 1201.4h0M292.6 1258.9h0M384.3 1220.5h0M219.7 1195.0h0M299.3 1161.4h0M304.0 1238.4h0M309.0 1188.2h0M234.1 1245.5h0M314.4 1195.6h0M292.8 1251.4h0M261.6 1216.9h0M253.0 1258.9h0M276.7 1237.4h0M304.4 1261.6h0M302.5 1276.6h0M359.0 1150.0h0M253.1 1151.8h0M292.3 1179.5h0M250.3 1212.6h0M299.0 1140.2h0M272.9 1209.5h0M243.7 1181.5h0M214.5 1153.3h0M236.8 1189.4h0M277.4 1139.6h0M326.7 1203.9h0M298.8 1204.2h0M219.7 1192.9h0M248.0 1243.8h0M268.8 1240.6h0M261.9 1167.2h0M269.1 1266.4h0M297.2 1153.2h0M274.0 1187.0h0M237.3 1150.9h0M187.5 1167.6h0M250.8 1174.0h0M196.8 1128.7h0M257.2 1200.7h0M276.0 1201.8h0M209.3 1153.0h0M256.8 1223.8h0M248.3 1152.7h0M337.9 1170.3h0M279.4 1217.5h0M185.2 1248.2h0M278.3 1277.9h0M276.9 1123.4h0M252.0 1256.9h0M244.8 1245.6h0M283.7 1163.5h0M286.0 1179.1h0M276.7 1189.6h0M219.2 1194.7h0M248.8 1214.9h0M196.2 1234.7h0M198.6 1227.6h0M236.0 1174.6h0M216.0 1155.6h0M241.6 1151.4h0M357.4 1199.9h0M277.6 1287.5h0M222.1 1178.3h0M170.7 1204.4h0M223.6 1305.0h0M199.5 1143.6h0M168.7 1189.7h0M285.7 1200.6h0M237.3 1190.6h0M274.1 1193.6h0M380.4 1188.9h0M267.3 1193.7h0M261.1 1197.3h0M270.4 1175.5h0M245.7 1184.3h0M223.3 1102.3h0M247.9 1192.4h0M302.3 1218.2h0M245.7 1221.5h0M201.6 1182.4h0M206.5 1192.7h0M215.3 1187.7h0M257.1 1205.4h0M276.1 1204.6h0M276.2 1167.5h0M304.8 1143.3h0M249.1 1183.6h0M291.1 1201.6h0M270.9 1243.4h0M286.5 1243.4h0M184.6 1195.7h0M308.7 1207.4h0M197.0 1201.6h0M214.1 1241.9h0M290.6 1202.9h0M244.1 1275.4h0M330.8 1245.6h0M266.5 1229.8h0M219.0 1175.2h0M266.6 1222.9h0M244.3 1236.2h0M322.8 1188.2h0M326.0 1202.9h0M290.3 1162.5h0M244.5 1186.4h0M264.2 1190.9h0M302.9 1207.0h0M228.8 1173.4h0M229.1 1228.8h0M295.1 1260.4h0M290.5 1164.1h0M251.7 1218.9h0M250.3 1198.2h0M182.8 1175.4h0M308.5 1159.9h0M256.4 1315.3h0M203.8 1241.9h0M215.9 1151.6h0M225.3 1267.9h0M329.5 1181.6h0M288.9 1214.8h0M207.6 1235.8h0M335.7 1205.6h0M315.0 1267.6h0M218.9 1184.4h0M154.7 1153.9h0M300.0 1257.1h0M237.3 1227.1h0M256.0 1152.9h0M240.4 1185.9h0M311.9 1213.4h0M320.7 1143.7h0M293.9 1267.2h0M255.4 1211.6h0M271.9 1196.9h0M286.3 1213.3h0M198.3 1169.0h0M311.3 1267.1h0M248.6 1198.8h0M272.0 1231.9h0M267.0 1153.0h0M297.8 1159.1h0M304.4 1230.3h0M350.2 1244.4h0M247.5 1202.5h0M225.5 1234.9h0M267.2 1223.4h0M235.7 1183.7h0M296.5 1219.0h0M229.7 1128.7h0M267.5 1198.1h0M299.9 1221.5h0M302.9 1245.2h0M270.5 1221.5h0M318.9 1156.8h0M314.0 1179.0h0M194.3 1144.0h0M276.9 1148.8h0M269.8 1178.7h0M250.6 1228.5h0M237.1 1206.8h0M264.4 1198.1h0M278.2 1266.5h0M273.8 1187.7h0M317.6 1242.1h0M302.7 1204.2h0M239.2 1221.3h0M232.5 1177.7h0M296.9 1096.2h0M235.0 1248.2h0M269.6 1201.5h0M282.0 1119.5h0M304.2 1237.6h0M283.7 1209.7h0M320.9 1204.9h0M244.6 1188.3h0M289.9 1264.9h0M236.6 1188.5h0M270.5 1176.6h0M268.0 1099.4h0M225.8 1203.6h0M158.6 1223.4h0M301.4 1195.2h0M277.6 1304.3h0M268.7 1187.0h0M235.0 1138.5h0M249.7 1201.8h0M281.4 1201.8h0M263.9 1210.1h0M309.6 1194.8h0M267.8 1249.8h0M230.1 1138.9h0M287.5 1218.5h0M237.6 1218.3h0M271.7 1134.3h0M190.4 1199.2h0M248.9 1216.7h0M285.2 1134.3h0M236.7 1192.6h0"/>
<path stroke="#00f" stroke-width="6.3" stroke-linecap="round" fill="none" d="M416.6 1101.8h0M315.5 1104.8h0M351.9 1116.1h0M361.2 1110.8h0M371.2 1113.4h0M307.2 1127.8h0M283.9 1131.4h0M414.3 1140.1h0M332.2 1148.5h0M333.6 1146.8h0M341.2 1154.1h0M400.3 1161.1h0M323.5 1166.5h0M357.9 1165.5h0M365.9 1166.5h0M368.9 1167.8h0M374.9 1165.8h0M379.6 1170.1h0M309.9 1180.5h0M360.6 1187.5h0M419.6 1187.2h0M326.6 1194.2h0M314.2 1196.8h0M311.9 1198.5h0M404.6 1195.5h0M449.0 1198.2h0M401.6 1210.2h0M414.9 1209.5h0M431.0 1209.5h0M336.2 1216.8h0M376.6 1216.2h0M385.9 1226.8h0M330.2 1228.8h0M327.9 1230.2h0M408.3 1231.8h0M367.2 1237.2h0M430.3 1238.2h0M291.2 1255.5h0M369.6 1251.5h0M371.9 1252.2h0M409.6 1258.5h0M363.9 1265.2h0M368.9 1263.2h0M375.6 1266.5h0M426.3 1261.5h0M445.6 1273.5h0M402.6 1292.9h0M383.3 1333.2h0M363.2 1021.7h0"/>
</g>
<path d="M164.40 1006.9V1348.0M217.10 1006.9V1348.0M269.80 1006.9V1348.0M322.60 1006.9V1348.0M375.40 1006.9V1348.0M428.20 1006.9V1348.0M125.2 1008.30H463.3M125.2 1055.30H463.3M125.2 1102.30H463.3M125.2 1149.70H463.3M125.2 1196.70H463.3M125.2 1243.70H463.3M125.2 1291.00H463.3M125.2 1338.00H463.3" stroke="#d6d6d6" stroke-width="1.5" fill="none"/>
<rect x="125.2" y="1006.9" width="338.1" height="341.1" fill="none" stroke="#7a7a7a" stroke-width="1.9"/>
<path d="M164.40 1348.0v2.6M217.10 1348.0v2.6M269.80 1348.0v2.6M322.60 1348.0v2.6M375.40 1348.0v2.6M428.20 1348.0v2.6M125.2 1008.30h-2.6M125.2 1055.30h-2.6M125.2 1102.30h-2.6M125.2 1149.70h-2.6M125.2 1196.70h-2.6M125.2 1243.70h-2.6M125.2 1291.00h-2.6M125.2 1338.00h-2.6" stroke="#333" stroke-width="1.6" fill="none"/>
<text transform="scale(1.1140,1)" x="132.20 142.29 150.87 155.17" y="1364.20" font-size="15.00" fill="#000" stroke="#000" stroke-width="0.08">−5.0</text>
<text transform="scale(1.1026,1)" x="181.54 191.63 200.38 204.71" y="1364.20" font-size="15.00" fill="#000" stroke="#000" stroke-width="0.08">−2.5</text>
<text transform="scale(1.0569,1)" x="244.31 253.21 257.85" y="1364.20" font-size="15.00" fill="#000" stroke="#000" stroke-width="0.08">0.0</text>
<text transform="scale(1.0146,1)" x="306.62 315.95 320.84" y="1364.20" font-size="15.00" fill="#000" stroke="#000" stroke-width="0.08">2.5</text>
<text transform="scale(1.0333,1)" x="352.06 361.14 365.94" y="1364.20" font-size="15.00" fill="#000" stroke="#000" stroke-width="0.08">5.0</text>
<text transform="scale(1.0244,1)" x="406.86 415.97 420.79" y="1364.20" font-size="15.00" fill="#000" stroke="#000" stroke-width="0.08">7.5</text>
<text transform="scale(1.0403,1)" x="82.62 91.83 100.84 105.59" y="1013.51" font-size="15.00" fill="#000" stroke="#000" stroke-width="0.08">10.0</text>
<text transform="scale(1.0244,1)" x="93.62 102.73 107.55" y="1060.51" font-size="15.00" fill="#000" stroke="#000" stroke-width="0.08">7.5</text>
<text transform="scale(1.0333,1)" x="92.44 101.53 106.33" y="1107.51" font-size="15.00" fill="#000" stroke="#000" stroke-width="0.08">5.0</text>
<text transform="scale(1.0146,1)" x="94.41 103.73 108.62" y="1154.91" font-size="15.00" fill="#000" stroke="#000" stroke-width="0.08">2.5</text>
<text transform="scale(1.0569,1)" x="90.32 99.22 103.87" y="1201.91" font-size="15.00" fill="#000" stroke="#000" stroke-width="0.08">0.0</text>
<text transform="scale(1.1026,1)" x="76.45 86.54 95.29 99.62" y="1248.91" font-size="15.00" fill="#000" stroke="#000" stroke-width="0.08">−2.5</text>
<text transform="scale(1.1140,1)" x="75.35 85.45 94.03 98.32" y="1296.21" font-size="15.00" fill="#000" stroke="#000" stroke-width="0.08">−5.0</text>
<text transform="scale(1.1093,1)" x="75.96 86.13 94.71 99.00" y="1343.21" font-size="15.00" fill="#000" stroke="#000" stroke-width="0.08">−7.5</text>
<rect x="325" y="1014.3" width="130.3" height="46.700000000000045" rx="3" fill="#fff" fill-opacity="0.8" stroke="#d5d5d5" stroke-width="1"/>
<circle cx="345.7" cy="1026.7" r="2.9" fill="#f00" fill-opacity="1"/>
<text transform="scale(1.0804,1)" x="344.14 353.02 361.66 374.87 379.53 388.15 396.73 400.35 407.81" y="1031.30" font-size="14.40" fill="#000" stroke="#000" stroke-width="0.08">10% noise</text>
<circle cx="345.7" cy="1048.3" r="2.9" fill="#00f" fill-opacity="1"/>
<text transform="scale(1.0733,1)" x="346.46 355.35 364.10 377.38 382.07 390.76 399.38 403.03 410.54" y="1052.90" font-size="14.40" fill="#000" stroke="#000" stroke-width="0.08">15% noise</text>
<text transform="scale(1.0010,1)" x="252.53 262.80 270.24 283.72 289.55 301.11 312.62 324.14" y="1002.30" font-size="19.50" fill="#000" stroke="#000" stroke-width="0.08">L = 5000</text>
<text transform="scale(1.0929,1)" x="190.55 199.93 204.97 208.85 217.18 225.03 228.93 236.92 245.97 249.63 253.32 263.62 272.50 285.58 294.10 302.67 311.27 319.81 328.77 333.68 338.14" y="1381.30" font-size="14.40" fill="#000" stroke="#000" stroke-width="0.08">Principal Component 1</text>
<text transform="translate(77.00,1178.00) rotate(-90) scale(1.0934,1)" x="-78.18 -68.80 -63.76 -59.89 -51.56 -43.71 -39.82 -31.83 -22.79 -19.13 -15.44 -5.15 3.73 16.81 25.32 33.88 42.48 51.02 59.98 64.88 69.25" y="0.00" font-size="14.40" fill="#000" stroke="#000" stroke-width="0.08">Principal Component 2</text>
<text x="3.65" y="1001.60" font-size="55.00" font-weight="bold" textLength="35.93" lengthAdjust="spacingAndGlyphs" fill="#000" stroke="#000" stroke-width="0.6" >g</text>
<clipPath id="c6"><rect x="638.2" y="1007.3" width="343.29999999999995" height="340.70000000000005"/></clipPath>
<g clip-path="url(#c6)">
<path stroke="#f00" stroke-width="6.3" stroke-linecap="round" fill="none" d="M806.7 1177.5h0M833.4 1105.1h0M673.4 1201.9h0M762.7 1196.8h0M805.2 1173.7h0M817.7 1139.5h0M791.9 1160.9h0M823.1 1129.8h0M778.5 1173.2h0M788.1 1129.2h0M774.4 1051.1h0M728.1 1120.2h0M736.5 1147.8h0M781.8 1239.9h0M746.3 1147.2h0M814.7 1127.0h0M815.5 1182.9h0M834.2 1128.7h0M766.8 1272.0h0M818.9 1205.1h0M734.3 1216.2h0M737.6 1151.2h0M770.8 1210.9h0M778.2 1217.6h0M708.7 1109.6h0M703.8 1239.3h0M780.9 1152.6h0M735.9 1126.3h0M812.4 1187.0h0M782.3 1215.3h0M779.1 1183.5h0M775.5 1200.8h0M800.8 1210.4h0M762.1 1165.2h0M807.9 1177.0h0M748.3 1037.9h0M759.5 1117.5h0M742.6 1166.7h0M789.8 1149.8h0M769.1 1100.1h0M735.9 1122.6h0M841.7 1172.3h0M754.3 1209.3h0M763.5 1095.9h0M782.3 1174.9h0M832.3 1163.7h0M762.3 1113.9h0M793.7 1166.0h0M771.4 1116.8h0M713.7 1187.2h0M797.0 1166.0h0M805.5 1183.0h0M758.9 1081.2h0M767.2 1239.1h0M712.3 1183.1h0M711.5 1214.0h0M753.3 1207.5h0M790.9 1232.3h0M750.4 1211.6h0M778.6 1121.5h0M803.5 1111.1h0M771.3 1204.7h0M789.0 1230.2h0M821.2 1197.3h0M721.7 1103.2h0M795.3 1179.3h0M698.1 1271.0h0M783.7 1138.5h0M775.3 1181.7h0M747.7 1149.0h0M728.0 1158.3h0M765.5 1234.1h0M752.6 1131.0h0M771.4 1146.7h0M734.2 1206.4h0M787.9 1277.6h0M729.5 1228.4h0M756.5 1227.2h0M753.3 1146.1h0M814.6 1202.9h0M712.5 1196.4h0M752.5 1175.3h0M811.4 1196.5h0M743.4 1159.5h0M722.0 1162.8h0M778.2 1134.9h0M757.1 1231.6h0M798.6 1161.0h0M733.8 1188.8h0M774.8 1082.8h0M792.4 1111.4h0M806.0 1194.5h0M726.9 1134.1h0M820.4 1254.5h0M734.5 1223.4h0M711.9 1188.3h0M732.5 1164.6h0M773.5 1225.5h0M755.9 1174.9h0M784.0 1120.9h0M786.1 1247.9h0M779.5 1236.6h0M758.4 1261.6h0M834.8 1125.7h0M685.9 1224.4h0M703.7 1194.0h0M749.0 1216.3h0M721.4 1181.0h0M673.4 1191.8h0M738.4 1168.9h0M740.1 1169.5h0M677.3 1106.1h0M799.5 1219.0h0M815.8 1169.4h0M813.4 1180.8h0M749.0 1217.8h0M773.2 1140.1h0M726.4 1096.5h0M775.4 1226.8h0M742.9 1069.2h0M782.9 1184.4h0M755.1 1181.6h0M806.0 1293.7h0M798.3 1175.2h0M813.5 1183.6h0M708.5 1189.6h0M700.6 1148.5h0M782.7 1185.9h0M746.4 1161.7h0M782.5 1207.2h0M778.8 1228.5h0M774.4 1173.1h0M801.7 1152.1h0M788.3 1147.2h0M785.2 1173.3h0M734.7 1210.9h0M831.5 1176.0h0M772.4 1189.4h0M808.7 1233.8h0M779.8 1163.2h0M814.7 1185.9h0M773.4 1226.9h0M775.8 1191.2h0M772.9 1151.3h0M741.6 1111.1h0M746.6 1258.9h0M762.3 1194.1h0M763.4 1153.4h0M731.5 1126.3h0M854.8 1160.7h0M731.5 1223.2h0M756.5 1199.8h0M858.1 1179.5h0M743.4 1213.0h0M796.1 1225.1h0M792.2 1235.1h0M760.1 1064.1h0M715.0 1176.7h0M710.4 1188.6h0M767.5 1147.0h0M783.3 1175.2h0M688.1 1184.1h0M773.4 1167.4h0M743.6 1211.2h0M800.8 1195.1h0M774.3 1136.4h0M738.2 1149.5h0M752.1 1225.2h0M769.6 1110.1h0M817.6 1194.3h0M880.5 1247.4h0M781.3 1144.8h0M772.6 1147.5h0M794.1 1162.1h0M769.5 1219.6h0M794.0 1122.8h0M785.1 1152.8h0M771.0 1160.1h0M741.7 1165.5h0M777.0 1159.2h0M804.5 1076.7h0M774.0 1197.7h0M827.2 1162.0h0M806.1 1124.8h0M766.5 1139.9h0M835.6 1209.0h0M729.9 1179.5h0M814.7 1191.2h0M840.1 1238.8h0M762.2 1182.9h0M767.8 1131.7h0M806.3 1161.6h0M824.6 1124.9h0M788.2 1154.6h0M780.9 1205.8h0M806.0 1150.4h0M781.7 1251.4h0M727.5 1118.8h0M765.2 1191.6h0M771.6 1101.2h0M716.8 1235.9h0M786.9 1218.2h0M744.7 1194.8h0M799.6 1187.2h0M717.1 1246.2h0M738.4 1232.4h0M718.3 1154.5h0M819.6 1212.3h0M819.2 1137.3h0M826.4 1103.2h0M826.6 1241.9h0M805.5 1193.5h0M805.1 1098.7h0M709.4 1127.8h0M784.3 1236.1h0M753.6 1159.2h0M760.3 1101.7h0M726.7 1271.7h0M820.7 1159.5h0M778.0 1127.5h0M717.2 1197.6h0M790.9 1204.1h0M768.9 1141.9h0M732.8 1246.6h0M759.8 1150.4h0M741.9 1120.4h0M685.3 1171.1h0M713.3 1245.1h0M787.9 1104.6h0M781.5 1176.6h0M778.5 1150.1h0M724.7 1214.5h0M745.8 1179.3h0M770.2 1126.2h0M793.3 1243.2h0M736.6 1234.9h0M728.6 1268.7h0M809.9 1156.1h0M770.2 1156.0h0M753.7 1214.3h0M740.4 1161.0h0M743.5 1175.0h0M826.3 1089.3h0M803.6 1229.6h0M752.3 1165.0h0M721.4 1196.0h0M829.6 1094.3h0M825.8 1156.1h0M812.2 1229.7h0M798.9 1156.8h0M698.1 1183.5h0M720.1 1219.0h0M788.6 1158.5h0M757.2 1170.6h0M777.2 1229.3h0M748.4 1197.2h0M743.5 1125.5h0M788.2 1132.3h0M753.0 1182.8h0M767.7 1192.6h0M777.2 1164.5h0M776.3 1182.1h0M810.6 1230.9h0M818.3 1148.7h0M717.2 1213.0h0M757.8 1111.7h0M743.8 1150.7h0M795.6 1144.6h0M728.2 1190.9h0M796.3 1169.2h0M793.6 1202.9h0M789.0 1194.4h0M731.7 1222.8h0M759.7 1113.0h0M727.7 1226.8h0M782.3 1100.8h0M802.9 1143.1h0M711.5 1216.8h0M737.1 1117.5h0M761.6 1157.4h0M748.0 1211.5h0M822.8 1164.7h0M762.3 1190.6h0M777.0 1209.7h0M726.6 1178.4h0M824.7 1163.6h0M773.8 1190.3h0M796.2 1177.4h0M770.9 1140.5h0M689.3 1181.0h0M708.6 1192.5h0M720.1 1233.2h0M785.1 1178.5h0M748.8 1196.5h0M783.5 1185.5h0M778.3 1140.0h0M776.9 1137.0h0M801.6 1173.8h0M774.4 1201.1h0M707.0 1169.1h0M742.6 1161.1h0M829.1 1164.3h0M728.1 1238.6h0M818.1 1161.3h0M828.8 1220.1h0M745.8 1161.4h0M780.5 1157.1h0M716.0 1168.4h0M796.3 1122.0h0M739.0 1175.0h0M719.4 1161.2h0M753.2 1214.8h0M750.9 1180.1h0M746.1 1185.4h0M775.0 1172.8h0M761.5 1183.2h0M743.3 1280.4h0M802.8 1139.9h0M857.2 1144.8h0M770.2 1268.1h0M741.7 1164.1h0M731.1 1130.6h0M789.6 1143.0h0M758.3 1143.9h0M768.3 1183.5h0M694.1 1198.1h0M725.9 1090.7h0M724.8 1156.1h0M802.6 1102.3h0M757.8 1178.0h0M676.0 1133.7h0M785.6 1138.3h0M809.6 1139.3h0M815.9 1228.5h0M664.3 1069.3h0M773.4 1160.8h0M797.7 1188.9h0M790.1 1161.2h0M759.0 1252.6h0M701.2 1112.6h0M751.7 1191.1h0M755.8 1161.4h0M789.0 1165.6h0M791.4 1251.6h0M758.8 1188.1h0M799.1 1117.9h0M728.7 1208.1h0M742.5 1162.2h0M766.6 1128.3h0M789.0 1102.8h0M755.9 1209.8h0M813.2 1126.7h0M782.9 1142.5h0M732.7 1148.5h0M770.9 1129.5h0M735.0 1139.2h0M732.2 1215.7h0M715.0 1150.7h0M819.4 1198.9h0M801.4 1157.4h0M708.6 1190.4h0M808.9 1106.1h0M803.3 1130.5h0M754.3 1149.8h0M786.5 1201.5h0M850.7 1152.8h0M778.3 1220.3h0M783.3 1210.0h0M809.2 1245.5h0M729.5 1132.8h0M721.0 1193.6h0M715.7 1131.1h0M764.9 1121.5h0M800.0 1126.5h0M736.0 1189.3h0M717.2 1107.3h0M775.8 1119.4h0M754.9 1227.0h0M791.0 1154.9h0M764.1 1206.6h0M762.3 1176.7h0M766.1 1117.7h0M770.6 1156.9h0M733.7 1100.9h0M727.8 1143.3h0M828.0 1137.9h0M882.3 1097.3h0M810.8 1116.0h0M709.3 1135.2h0M770.6 1110.2h0M813.5 1116.5h0M709.8 1230.9h0M751.7 1215.9h0M754.6 1166.2h0M735.9 1122.0h0M738.8 1203.2h0M807.2 1244.1h0M753.1 1173.2h0M761.4 1196.9h0M833.3 1105.7h0M738.4 1275.6h0M699.1 1135.3h0M793.8 1142.5h0M844.3 1289.5h0M777.7 1216.7h0M781.2 1183.1h0M722.3 1155.7h0M735.2 1171.3h0M824.0 1145.0h0M816.4 1163.4h0M791.5 1207.5h0M746.0 1098.5h0M725.6 1159.5h0M730.9 1210.1h0M726.1 1150.6h0M792.0 1178.4h0M740.1 1191.0h0M750.7 1200.5h0M794.5 1238.4h0M793.7 1211.6h0M770.4 1228.7h0M786.2 1260.0h0M768.5 1151.2h0M696.6 1159.5h0M765.2 1182.4h0M752.3 1221.9h0M754.8 1207.5h0M776.8 1103.2h0M746.9 1211.0h0M813.1 1135.1h0M761.5 1157.2h0M774.0 1150.4h0M780.0 1193.4h0M761.4 1182.7h0M791.8 1175.5h0M795.8 1220.9h0M791.2 1112.1h0M741.5 1209.0h0M734.1 1165.0h0M745.0 1094.6h0M767.5 1107.2h0M697.9 1199.3h0M735.8 1150.2h0M724.4 1127.3h0M742.0 1259.7h0M732.8 1081.9h0M797.0 1148.8h0M783.4 1185.3h0M802.3 1176.4h0M730.3 1271.8h0M738.0 1141.4h0M755.9 1102.2h0M828.3 1180.6h0M829.1 1101.1h0M744.2 1142.3h0M790.4 1231.9h0M846.6 1147.7h0M729.2 1262.5h0M760.3 1256.0h0M815.4 1143.9h0M794.2 1147.6h0M730.6 1176.8h0M823.7 1177.5h0M803.9 1240.8h0M793.1 1127.8h0M721.6 1173.5h0M761.4 1181.6h0M816.3 1037.9h0M785.8 1160.0h0M797.2 1173.3h0M757.7 1082.7h0M823.6 1158.5h0M758.7 1192.7h0M801.8 1102.8h0M779.6 1177.2h0M732.0 1206.2h0M822.6 1186.2h0M721.1 1169.6h0M740.4 1129.1h0M772.9 1113.0h0M715.7 1223.7h0M700.8 1113.7h0M763.2 1198.0h0M751.7 1190.3h0M757.3 1286.3h0M786.0 1096.7h0M851.0 1143.6h0M752.0 1179.6h0M857.9 1177.7h0M776.3 1126.3h0M763.7 1168.9h0M667.3 1302.6h0M710.5 1157.7h0M776.7 1171.0h0M787.5 1164.2h0M736.0 1167.7h0M777.9 1131.4h0M799.9 1202.5h0M745.7 1066.8h0M706.6 1163.9h0M730.2 1202.6h0M755.2 1165.6h0M776.9 1246.7h0M795.0 1177.3h0M732.0 1203.5h0M767.6 1214.3h0M756.7 1133.7h0M767.6 1157.3h0M807.0 1213.7h0M814.3 1198.4h0M748.7 1155.7h0M743.9 1068.1h0M740.8 1176.1h0M746.9 1177.6h0M751.1 1149.1h0M760.1 1226.8h0M747.8 1175.2h0M726.8 1138.5h0M723.2 1153.1h0M768.6 1155.4h0M856.7 1225.0h0M787.1 1169.0h0M790.5 1106.4h0M779.5 1050.5h0M760.6 1126.0h0M840.5 1194.1h0M755.0 1190.0h0M730.5 1177.7h0M720.9 1074.0h0M773.4 1230.0h0M729.7 1179.7h0M734.3 1244.3h0M734.4 1188.3h0M717.9 1183.2h0M772.7 1129.2h0M704.5 1133.9h0M850.9 1160.2h0M664.5 1182.3h0M715.1 1188.4h0M769.0 1096.4h0M782.2 1175.2h0M754.1 1219.7h0M777.4 1203.8h0M773.5 1168.7h0M771.8 1205.7h0M788.9 1240.9h0M776.3 1128.5h0M763.8 1201.9h0M762.3 1176.6h0M800.3 1166.7h0M760.8 1182.9h0M788.8 1178.6h0M826.2 1286.7h0M782.1 1169.5h0M812.6 1181.9h0M752.1 1190.1h0M778.1 1174.8h0M786.9 1072.4h0M776.6 1097.1h0M785.8 1138.4h0M820.1 1101.7h0M756.4 1190.5h0M743.3 1174.1h0M780.1 1150.3h0M714.1 1131.2h0M767.4 1134.3h0M811.9 1088.8h0M767.4 1177.1h0M788.0 1110.6h0M782.0 1199.3h0M812.2 1146.4h0M786.5 1214.7h0M775.3 1115.0h0M653.3 1195.0h0M748.4 1112.1h0M793.8 1256.6h0M762.2 1089.8h0M739.7 1172.1h0M800.7 1151.2h0M734.5 1158.2h0M754.4 1246.5h0M792.1 1198.3h0M747.7 1199.2h0M773.0 1175.9h0M765.8 1242.0h0M722.1 1201.0h0M746.8 1168.7h0M752.6 1121.6h0M742.1 1139.8h0M806.3 1225.3h0M764.9 1133.6h0M742.0 1100.9h0M714.2 1137.6h0M753.6 1187.6h0M813.8 1212.3h0M754.1 1191.1h0M793.2 1099.0h0M782.0 1216.9h0M746.1 1283.2h0M730.1 1131.6h0M785.1 1201.2h0M703.0 1175.2h0M786.3 1190.0h0M721.4 1122.5h0M797.0 1189.6h0M750.9 1204.9h0M762.2 1207.8h0M804.4 1093.3h0M728.7 1104.7h0M767.5 1188.0h0M754.0 1193.8h0M784.6 1176.2h0M792.4 1146.0h0M776.5 1208.9h0M773.6 1102.3h0M751.0 1158.7h0M788.3 1288.8h0M757.3 1218.6h0M770.8 1184.7h0M772.9 1063.3h0M716.0 1099.7h0M724.5 1161.8h0M774.3 1222.9h0M765.6 1175.1h0M812.5 1170.5h0M676.7 1192.4h0M774.1 1166.8h0M806.5 1141.2h0M769.8 1194.9h0M795.2 1224.8h0M767.3 1167.4h0M764.5 1244.1h0M799.8 1195.8h0M718.9 1122.7h0M684.1 1167.8h0M784.2 1231.0h0M771.1 1179.5h0M770.8 1190.0h0M777.2 1172.8h0M789.7 1132.9h0M749.6 1201.9h0M784.0 1234.4h0M778.3 1108.6h0M724.5 1217.2h0M761.2 1151.7h0M776.8 1160.5h0M737.8 1193.2h0M805.1 1153.1h0M755.8 1163.3h0M796.4 1169.7h0M820.4 1143.9h0M712.7 1209.6h0M718.3 1135.7h0M788.7 1215.6h0M760.1 1133.5h0M786.1 1117.3h0M830.7 1213.4h0M749.4 1088.8h0M799.0 1205.9h0M757.9 1180.1h0M743.7 1214.6h0M784.8 1190.8h0M776.9 1174.8h0M807.1 1205.3h0M779.0 1134.5h0M799.6 1213.5h0M786.8 1164.0h0M704.9 1226.4h0M754.3 1220.2h0M755.8 1174.1h0M800.5 1165.5h0M729.1 1195.6h0M774.7 1164.6h0M752.6 1158.5h0M700.9 1209.0h0M762.2 1177.3h0M791.3 1217.3h0M754.3 1237.3h0M802.0 1205.7h0M782.1 1188.8h0M779.3 1126.0h0M749.1 1155.5h0M761.9 1173.1h0M785.0 1274.6h0M768.7 1219.1h0M722.6 1155.9h0M761.5 1151.6h0M782.5 1177.6h0M809.3 1230.8h0M798.8 1264.3h0M731.8 1251.7h0M793.5 1169.9h0M708.7 1159.4h0M744.0 1096.9h0M737.9 1206.2h0M823.9 1161.7h0M793.1 1210.9h0M778.8 1185.1h0M745.0 1171.7h0M813.6 1199.4h0M758.9 1112.6h0M785.3 1224.1h0M808.7 1140.1h0M757.0 1184.9h0M787.9 1197.4h0M695.1 1129.1h0M789.4 1201.5h0M705.6 1161.8h0M783.3 1175.0h0M778.9 1143.2h0M785.8 1227.6h0M853.5 1162.2h0M676.5 1153.2h0M785.2 1203.5h0M753.7 1219.5h0M796.2 1220.4h0M779.9 1176.2h0M772.3 1209.1h0M749.9 1150.8h0M742.2 1180.1h0M781.5 1186.2h0M712.8 1176.6h0M808.1 1171.7h0M747.3 1169.8h0M785.5 1148.9h0M724.9 1123.5h0M785.5 1155.4h0M760.1 1151.7h0M797.1 1106.8h0M813.9 1106.4h0M748.7 1170.2h0M772.6 1220.6h0M777.7 1121.0h0M822.5 1208.7h0M720.9 1206.6h0M790.7 1208.8h0M768.1 1188.8h0M724.5 1276.8h0M756.7 1196.0h0M744.2 1123.3h0M809.7 1059.2h0M734.2 1151.7h0M806.6 1136.7h0M752.0 1132.6h0M794.1 1197.6h0M706.0 1214.0h0M741.0 1154.9h0M775.0 1121.1h0M735.3 1165.1h0M711.7 1155.5h0M769.9 1171.9h0M798.0 1176.6h0M769.5 1193.5h0M761.3 1122.2h0M784.1 1132.6h0M753.4 1175.7h0M803.2 1157.6h0M809.9 1142.3h0M722.2 1120.1h0M807.8 1083.0h0M794.4 1091.6h0M779.9 1168.3h0M794.7 1157.6h0M822.1 1180.4h0M840.4 1133.7h0M829.3 1119.6h0M760.6 1240.1h0M819.0 1163.1h0M708.0 1104.5h0M802.9 1231.7h0M795.8 1100.6h0M806.0 1118.4h0M736.8 1191.2h0M823.1 1213.2h0M817.1 1092.1h0M777.7 1185.5h0M717.6 1225.1h0M782.1 1166.2h0M738.7 1231.1h0M712.2 1214.6h0M743.4 1092.2h0M856.4 1189.9h0M715.2 1177.7h0M756.8 1244.9h0M776.2 1210.7h0M803.8 1126.6h0M732.0 1154.6h0M732.5 1126.0h0M801.3 1129.6h0M778.4 1163.0h0M813.7 1191.8h0M725.3 1270.1h0M764.0 1124.9h0M802.1 1168.8h0M772.4 1059.1h0M726.3 1179.7h0M772.2 1178.9h0M697.8 1194.9h0M739.3 1227.9h0M796.0 1172.9h0M800.3 1159.5h0M782.3 1164.2h0M792.8 1187.0h0M711.8 1208.7h0M743.2 1123.3h0M805.7 1130.0h0M851.7 1202.3h0M783.9 1230.5h0M733.4 1203.0h0M731.9 1203.5h0M811.6 1127.6h0M807.4 1211.4h0M722.7 1156.4h0M772.4 1217.9h0M818.3 1177.4h0M819.2 1055.3h0M748.1 1201.6h0M760.8 1153.3h0M784.5 1192.5h0M727.0 1120.8h0M707.4 1156.0h0M742.2 1170.6h0M811.9 1106.9h0M807.4 1134.0h0M784.8 1142.0h0M724.0 1223.4h0M694.7 1211.0h0M728.5 1107.3h0M767.9 1223.8h0M804.2 1100.0h0M733.5 1100.9h0M768.6 1182.3h0M699.6 1211.2h0M687.7 1228.1h0M765.0 1138.3h0M721.2 1150.1h0M726.5 1209.4h0M680.8 1221.6h0M794.2 1154.2h0M697.8 1204.1h0M764.7 1177.1h0M708.2 1243.7h0M749.1 1157.8h0M812.5 1170.3h0M771.9 1197.8h0M767.3 1228.9h0M795.9 1180.1h0M782.5 1160.9h0M814.2 1158.6h0M709.2 1171.6h0M813.2 1210.3h0M765.7 1147.6h0M725.0 1125.9h0M785.5 1203.5h0M783.3 1232.8h0M763.2 1112.3h0M795.3 1168.4h0M715.3 1261.9h0M702.6 1140.8h0M741.9 1170.2h0M804.2 1208.8h0M783.7 1174.4h0M764.4 1226.7h0M741.0 1217.0h0M764.1 1252.2h0M807.6 1128.5h0M744.1 1203.8h0M743.1 1171.9h0M781.0 1166.0h0M789.1 1297.1h0M770.4 1175.0h0M818.4 1233.2h0M773.1 1128.4h0M730.0 1237.0h0M684.7 1146.4h0M809.5 1110.3h0M760.2 1171.8h0M778.6 1137.5h0M783.4 1122.6h0M816.6 1174.4h0M805.5 1193.0h0M803.9 1246.3h0M778.1 1100.3h0M759.5 1137.2h0M777.9 1153.2h0M738.0 1257.6h0M781.8 1132.3h0M807.8 1198.3h0M795.0 1173.8h0M774.0 1165.7h0M736.2 1131.0h0M735.9 1194.3h0M741.7 1210.8h0M753.5 1154.6h0M784.8 1168.6h0M786.5 1206.7h0M789.6 1086.5h0M805.7 1129.3h0M732.4 1249.8h0M760.6 1277.9h0M787.8 1264.4h0M797.6 1199.1h0M743.5 1160.0h0M742.6 1103.3h0M810.5 1172.0h0M793.5 1208.3h0M784.9 1173.2h0M757.9 1177.5h0M733.2 1220.2h0M767.3 1172.6h0M779.8 1261.6h0M786.7 1195.1h0M800.1 1158.6h0M772.5 1188.3h0M814.4 1154.9h0M756.0 1130.2h0M780.8 1151.3h0M770.8 1148.0h0M702.6 1148.2h0M720.3 1185.4h0M748.9 1132.0h0M773.7 1164.3h0M780.3 1218.5h0M815.1 1133.2h0M767.5 1175.7h0M756.0 1311.9h0M779.8 1098.5h0M723.2 1171.8h0M760.8 1207.1h0M730.7 1139.0h0M769.9 1155.5h0M741.9 1161.0h0M752.1 1094.4h0M837.5 1120.8h0M808.0 1181.9h0M859.0 1199.9h0M774.3 1224.9h0M760.8 1150.3h0M738.4 1164.1h0M766.0 1121.0h0M702.8 1159.7h0M770.5 1136.7h0M746.5 1108.9h0M717.9 1189.5h0M700.8 1209.2h0M733.8 1167.4h0M752.0 1223.6h0M765.6 1175.1h0M707.0 1178.8h0M765.0 1104.5h0M778.3 1182.1h0M848.2 1114.5h0M780.3 1184.5h0M800.8 1169.3h0M740.8 1188.3h0M767.0 1171.2h0M740.4 1193.9h0M736.6 1216.1h0M785.4 1223.6h0M758.9 1128.9h0M820.8 1160.9h0M766.2 1097.7h0M783.0 1102.3h0M722.7 1212.8h0M730.6 1085.1h0M791.8 1188.4h0M742.3 1238.6h0M814.2 1220.0h0M737.3 1193.0h0M734.9 1275.8h0M838.3 1149.0h0M705.0 1185.0h0M748.7 1141.8h0M786.7 1154.5h0M789.5 1157.7h0M725.8 1137.7h0M846.6 1147.6h0M750.9 1231.1h0M697.1 1100.8h0M801.0 1189.9h0M750.0 1167.7h0M769.9 1138.1h0M795.9 1201.1h0M734.5 1193.3h0M741.2 1249.6h0M763.9 1141.3h0M798.6 1141.1h0M719.2 1189.0h0M820.8 1205.8h0M781.1 1287.4h0M726.2 1151.8h0M769.2 1213.5h0M788.5 1194.6h0M812.9 1188.9h0M799.4 1189.6h0M809.1 1167.4h0M762.4 1147.7h0M794.6 1166.8h0M669.7 1222.1h0M804.9 1176.6h0"/>
<path stroke="#00f" stroke-width="6.3" stroke-linecap="round" fill="none" d="M842.9 1090.4h0M862.2 1092.1h0M863.9 1095.1h0M881.9 1092.8h0M966.0 1107.4h0M912.3 1120.1h0M892.9 1126.8h0M868.9 1136.5h0M841.6 1145.5h0M857.9 1145.5h0M906.3 1139.5h0M913.9 1142.5h0M937.0 1138.1h0M826.2 1148.8h0M909.9 1147.8h0M928.0 1148.8h0M835.6 1160.5h0M834.9 1167.5h0M911.9 1176.1h0M888.9 1180.5h0M828.9 1180.5h0M854.9 1191.8h0M898.9 1192.2h0M909.9 1189.5h0M861.6 1198.2h0M872.6 1198.2h0M901.9 1199.2h0M826.2 1202.2h0M834.9 1195.5h0M839.2 1196.8h0M840.9 1198.8h0M913.9 1206.8h0M943.0 1205.2h0M966.0 1209.5h0M839.9 1209.5h0M867.6 1212.5h0M897.3 1211.8h0M850.2 1219.8h0M805.2 1225.2h0M940.0 1224.2h0M831.6 1236.9h0M884.6 1236.9h0M800.9 1241.9h0M803.5 1242.2h0M864.6 1245.2h0M895.9 1247.5h0M926.6 1249.5h0M875.3 1267.5h0M916.6 1273.5h0M876.6 1305.6h0M881.9 1043.4h0"/>
</g>
<path d="M674.90 1007.3V1348.0M724.80 1007.3V1348.0M774.80 1007.3V1348.0M824.70 1007.3V1348.0M874.60 1007.3V1348.0M924.50 1007.3V1348.0M974.40 1007.3V1348.0M638.2 1012.30H981.5M638.2 1054.00H981.5M638.2 1095.00H981.5M638.2 1136.30H981.5M638.2 1177.70H981.5M638.2 1219.00H981.5M638.2 1260.30H981.5M638.2 1301.70H981.5M638.2 1343.30H981.5" stroke="#d6d6d6" stroke-width="1.5" fill="none"/>
<rect x="638.2" y="1007.3" width="343.29999999999995" height="340.70000000000005" fill="none" stroke="#7a7a7a" stroke-width="1.9"/>
<path d="M674.90 1348.0v2.6M724.80 1348.0v2.6M774.80 1348.0v2.6M824.70 1348.0v2.6M874.60 1348.0v2.6M924.50 1348.0v2.6M974.40 1348.0v2.6M638.2 1012.30h-2.6M638.2 1054.00h-2.6M638.2 1095.00h-2.6M638.2 1136.30h-2.6M638.2 1177.70h-2.6M638.2 1219.00h-2.6M638.2 1260.30h-2.6M638.2 1301.70h-2.6M638.2 1343.30h-2.6" stroke="#333" stroke-width="1.6" fill="none"/>
<text transform="scale(1.1140,1)" x="590.46 600.55 609.13 613.43" y="1364.20" font-size="15.00" fill="#000" stroke="#000" stroke-width="0.08">−5.0</text>
<text transform="scale(1.1026,1)" x="641.97 652.07 660.82 665.15" y="1364.20" font-size="15.00" fill="#000" stroke="#000" stroke-width="0.08">−2.5</text>
<text transform="scale(1.0569,1)" x="722.14 731.03 735.68" y="1364.20" font-size="15.00" fill="#000" stroke="#000" stroke-width="0.08">0.0</text>
<text transform="scale(1.0146,1)" x="801.48 810.80 815.70" y="1364.20" font-size="15.00" fill="#000" stroke="#000" stroke-width="0.08">2.5</text>
<text transform="scale(1.0333,1)" x="835.15 844.24 849.04" y="1364.20" font-size="15.00" fill="#000" stroke="#000" stroke-width="0.08">5.0</text>
<text transform="scale(1.0244,1)" x="891.34 900.45 905.27" y="1364.20" font-size="15.00" fill="#000" stroke="#000" stroke-width="0.08">7.5</text>
<text transform="scale(1.0403,1)" x="920.65 929.86 938.87 943.62" y="1364.20" font-size="15.00" fill="#000" stroke="#000" stroke-width="0.08">10.0</text>
<text transform="scale(1.0745,1)" x="580.47" y="1017.51" font-size="15.00" fill="#000" stroke="#000" stroke-width="0.08">8</text>
<text transform="scale(1.0860,1)" x="574.22" y="1059.21" font-size="15.00" fill="#000" stroke="#000" stroke-width="0.08">6</text>
<text transform="scale(1.0495,1)" x="594.31" y="1100.21" font-size="15.00" fill="#000" stroke="#000" stroke-width="0.08">4</text>
<text transform="scale(1.0110,1)" x="617.56" y="1141.51" font-size="15.00" fill="#000" stroke="#000" stroke-width="0.08">2</text>
<text transform="scale(1.0521,1)" x="592.91" y="1182.91" font-size="15.00" fill="#000" stroke="#000" stroke-width="0.08">0</text>
<text transform="scale(1.1543,1)" x="530.74 540.39" y="1224.21" font-size="15.00" fill="#000" stroke="#000" stroke-width="0.08">−2</text>
<text transform="scale(1.1667,1)" x="524.46 534.22" y="1265.51" font-size="15.00" fill="#000" stroke="#000" stroke-width="0.08">−4</text>
<text transform="scale(1.1895,1)" x="514.39 523.91" y="1306.91" font-size="15.00" fill="#000" stroke="#000" stroke-width="0.08">−6</text>
<text transform="scale(1.1832,1)" x="517.18 526.72" y="1348.51" font-size="15.00" fill="#000" stroke="#000" stroke-width="0.08">−8</text>
<rect x="843.3" y="1014.3" width="130.0" height="46.700000000000045" rx="3" fill="#fff" fill-opacity="0.8" stroke="#d5d5d5" stroke-width="1"/>
<circle cx="863.7" cy="1026.7" r="2.9" fill="#f00" fill-opacity="1"/>
<text transform="scale(1.0804,1)" x="824.24 833.11 841.76 854.97 859.62 868.25 876.83 880.44 887.90" y="1031.30" font-size="14.40" fill="#000" stroke="#000" stroke-width="0.08">10% noise</text>
<circle cx="863.7" cy="1048.3" r="2.9" fill="#00f" fill-opacity="1"/>
<text transform="scale(1.0733,1)" x="829.74 838.64 847.39 860.66 865.36 874.04 882.67 886.32 893.83" y="1052.90" font-size="14.40" fill="#000" stroke="#000" stroke-width="0.08">15% noise</text>
<text transform="scale(0.9962,1)" x="765.71 775.99 783.46 796.97 802.80 814.41 825.95 837.50 849.05" y="1002.30" font-size="19.50" fill="#000" stroke="#000" stroke-width="0.08">L = 10000</text>
<text transform="scale(1.0929,1)" x="662.43 671.81 676.85 680.73 689.06 696.91 700.81 708.80 717.85 721.51 725.20 735.50 744.38 757.46 765.98 774.55 783.15 791.69 800.65 805.56 810.02" y="1381.30" font-size="14.40" fill="#000" stroke="#000" stroke-width="0.08">Principal Component 1</text>
<text transform="translate(604.40,1178.00) rotate(-90) scale(1.0934,1)" x="-78.18 -68.80 -63.76 -59.89 -51.56 -43.71 -39.82 -31.83 -22.79 -19.13 -15.44 -5.15 3.73 16.81 25.32 33.88 42.48 51.02 59.98 64.88 69.25" y="0.00" font-size="14.40" fill="#000" stroke="#000" stroke-width="0.08">Principal Component 2</text>
<text x="540.16" y="1002.70" font-size="55.00" font-weight="bold" textLength="36.14" lengthAdjust="spacingAndGlyphs" fill="#000" stroke="#000" stroke-width="0.6" >h</text>
<clipPath id="c7"><rect x="1141.1" y="1007.3" width="351.60000000000014" height="340.5"/></clipPath>
<g clip-path="url(#c7)">
<path stroke="#f00" stroke-width="6.3" stroke-linecap="round" fill="none" d="M1301.3 1173.5h0M1316.8 1172.2h0M1287.0 1203.3h0M1254.9 1109.9h0M1277.6 1173.0h0M1249.7 1119.3h0M1304.4 1150.5h0M1370.9 1212.6h0M1275.7 1201.8h0M1269.0 1170.5h0M1326.7 1184.9h0M1319.8 1185.3h0M1306.7 1198.2h0M1252.9 1256.4h0M1299.7 1195.8h0M1337.4 1272.1h0M1231.3 1173.0h0M1277.4 1215.0h0M1202.4 1214.6h0M1234.2 1195.6h0M1205.5 1176.8h0M1289.0 1242.0h0M1235.3 1254.1h0M1315.4 1228.0h0M1309.4 1265.3h0M1291.5 1224.2h0M1170.4 1126.4h0M1273.2 1227.6h0M1298.7 1162.3h0M1307.1 1239.7h0M1221.7 1175.8h0M1276.4 1199.5h0M1250.4 1189.5h0M1259.2 1165.5h0M1356.4 1120.0h0M1259.3 1179.8h0M1299.6 1182.5h0M1347.2 1224.5h0M1270.9 1164.9h0M1295.4 1196.6h0M1307.0 1155.4h0M1304.6 1188.9h0M1237.5 1120.6h0M1305.2 1263.1h0M1371.9 1198.6h0M1220.8 1153.5h0M1345.9 1200.6h0M1307.5 1217.5h0M1267.9 1197.4h0M1405.3 1240.0h0M1340.9 1182.7h0M1238.9 1093.9h0M1305.1 1143.4h0M1331.2 1229.6h0M1291.4 1220.6h0M1336.8 1202.7h0M1297.8 1148.8h0M1335.9 1218.6h0M1376.0 1213.6h0M1266.1 1153.4h0M1311.8 1154.1h0M1277.2 1201.5h0M1307.9 1230.0h0M1239.5 1246.5h0M1271.1 1214.0h0M1291.0 1272.5h0M1348.0 1158.5h0M1360.8 1211.3h0M1232.4 1168.8h0M1259.9 1115.8h0M1334.9 1142.4h0M1197.6 1231.3h0M1277.2 1154.0h0M1296.2 1142.9h0M1366.6 1215.8h0M1337.1 1223.7h0M1284.2 1191.4h0M1282.1 1248.5h0M1288.2 1131.0h0M1380.5 1279.2h0M1279.0 1229.6h0M1285.5 1197.5h0M1319.6 1195.9h0M1295.0 1180.9h0M1291.0 1176.8h0M1243.3 1195.4h0M1300.6 1143.7h0M1278.2 1269.1h0M1361.9 1187.2h0M1335.2 1214.6h0M1300.0 1182.2h0M1336.0 1178.8h0M1283.6 1222.1h0M1356.0 1211.7h0M1301.0 1156.9h0M1331.6 1173.9h0M1234.1 1213.2h0M1319.3 1109.2h0M1213.5 1098.9h0M1195.4 1243.2h0M1285.4 1175.7h0M1254.4 1091.2h0M1309.8 1157.2h0M1418.0 1178.8h0M1258.0 1195.2h0M1268.8 1207.9h0M1311.9 1195.4h0M1326.9 1208.3h0M1292.1 1158.7h0M1290.5 1202.5h0M1337.8 1204.1h0M1328.3 1233.2h0M1247.5 1189.1h0M1297.1 1221.4h0M1303.1 1194.1h0M1246.4 1147.4h0M1314.8 1173.2h0M1256.6 1167.9h0M1351.8 1173.6h0M1311.3 1185.0h0M1305.9 1192.1h0M1270.5 1199.0h0M1295.1 1158.2h0M1197.4 1228.7h0M1242.4 1135.9h0M1320.1 1185.9h0M1190.6 1215.9h0M1345.3 1205.9h0M1210.4 1213.1h0M1340.6 1181.1h0M1257.3 1214.7h0M1341.8 1143.5h0M1308.1 1217.1h0M1221.3 1274.2h0M1366.2 1215.2h0M1376.2 1264.1h0M1297.8 1188.7h0M1287.0 1146.7h0M1292.9 1162.4h0M1250.5 1238.4h0M1358.4 1216.4h0M1273.0 1119.2h0M1298.6 1175.0h0M1260.0 1187.1h0M1268.7 1146.8h0M1234.8 1093.4h0M1366.6 1137.6h0M1293.2 1181.9h0M1351.5 1173.7h0M1301.9 1163.6h0M1265.1 1210.7h0M1284.3 1227.7h0M1272.1 1185.2h0M1301.7 1223.5h0M1281.7 1189.6h0M1285.6 1183.5h0M1229.6 1097.7h0M1259.3 1219.8h0M1387.3 1191.9h0M1266.3 1193.5h0M1246.4 1170.5h0M1318.8 1147.2h0M1374.4 1206.0h0M1225.6 1218.6h0M1290.4 1250.0h0M1268.4 1222.7h0M1209.7 1166.7h0M1339.5 1185.5h0M1300.0 1226.1h0M1305.0 1201.5h0M1262.1 1186.0h0M1324.9 1168.0h0M1273.2 1209.9h0M1293.8 1196.8h0M1243.6 1256.8h0M1238.0 1231.3h0M1370.7 1125.3h0M1274.9 1270.9h0M1316.4 1200.1h0M1299.5 1178.8h0M1278.3 1201.5h0M1274.8 1218.1h0M1334.0 1189.6h0M1285.5 1187.4h0M1293.4 1190.4h0M1302.4 1259.0h0M1362.4 1192.9h0M1336.6 1219.9h0M1321.1 1208.2h0M1271.9 1178.5h0M1229.4 1162.7h0M1350.6 1152.9h0M1351.5 1206.2h0M1293.9 1151.9h0M1329.4 1142.3h0M1341.9 1143.7h0M1344.5 1134.1h0M1349.2 1192.8h0M1277.6 1193.9h0M1380.0 1155.7h0M1236.4 1239.5h0M1346.1 1179.2h0M1326.9 1207.5h0M1346.7 1201.3h0M1399.0 1253.8h0M1378.4 1221.3h0M1241.7 1188.0h0M1213.4 1153.2h0M1343.7 1149.4h0M1248.5 1190.3h0M1300.6 1194.5h0M1344.9 1219.0h0M1215.8 1171.8h0M1191.5 1196.7h0M1314.7 1164.0h0M1303.6 1120.2h0M1288.5 1188.5h0M1303.2 1244.5h0M1256.5 1220.2h0M1222.5 1243.0h0M1292.6 1233.0h0M1250.7 1137.3h0M1215.8 1178.6h0M1327.5 1245.4h0M1298.1 1162.2h0M1322.4 1139.0h0M1249.8 1201.0h0M1267.0 1213.1h0M1249.3 1200.1h0M1255.1 1176.3h0M1311.4 1162.7h0M1260.5 1142.0h0M1319.8 1140.8h0M1318.9 1141.9h0M1406.6 1135.1h0M1228.8 1161.9h0M1347.4 1245.8h0M1296.6 1192.2h0M1300.5 1175.2h0M1225.9 1201.9h0M1277.3 1152.4h0M1339.9 1201.0h0M1297.0 1222.6h0M1305.5 1132.0h0M1286.1 1161.7h0M1361.3 1178.8h0M1300.1 1151.8h0M1186.8 1146.6h0M1265.3 1174.2h0M1198.9 1281.2h0M1140.0 1213.1h0M1273.7 1204.7h0M1370.6 1224.9h0M1303.7 1179.6h0M1240.3 1141.6h0M1252.3 1205.8h0M1360.0 1230.6h0M1309.4 1109.6h0M1303.7 1204.5h0M1298.5 1234.4h0M1303.2 1178.1h0M1343.1 1170.9h0M1330.0 1214.2h0M1312.5 1157.0h0M1247.0 1205.9h0M1327.8 1222.5h0M1265.7 1180.4h0M1358.1 1157.7h0M1235.2 1211.5h0M1294.1 1174.6h0M1300.9 1190.8h0M1232.4 1079.2h0M1390.8 1214.3h0M1377.2 1134.3h0M1277.1 1189.2h0M1341.4 1192.1h0M1320.9 1159.6h0M1165.3 1153.0h0M1314.3 1138.8h0M1298.1 1174.7h0M1305.6 1210.2h0M1245.2 1207.8h0M1287.2 1167.7h0M1292.0 1165.0h0M1363.0 1133.7h0M1318.6 1171.2h0M1301.0 1146.7h0M1380.8 1129.2h0M1272.4 1180.9h0M1281.0 1244.0h0M1206.8 1232.3h0M1382.8 1242.2h0M1351.4 1126.3h0M1348.9 1219.6h0M1336.0 1140.1h0M1307.0 1164.8h0M1312.5 1121.6h0M1288.1 1148.9h0M1290.7 1191.1h0M1304.1 1194.9h0M1379.9 1184.0h0M1330.1 1180.5h0M1298.2 1207.5h0M1271.1 1188.5h0M1268.2 1125.7h0M1384.6 1252.3h0M1327.6 1177.3h0M1304.8 1221.9h0M1283.2 1180.1h0M1243.6 1155.1h0M1297.8 1189.4h0M1346.7 1157.7h0M1280.8 1248.0h0M1289.4 1144.9h0M1289.8 1210.3h0M1306.9 1163.4h0M1218.4 1180.2h0M1289.0 1286.1h0M1256.8 1216.1h0M1347.2 1178.8h0M1261.2 1127.8h0M1331.3 1176.2h0M1380.5 1177.4h0M1284.9 1241.3h0M1270.0 1132.5h0M1311.2 1118.1h0M1301.1 1186.1h0M1249.6 1195.6h0M1325.2 1249.2h0M1406.1 1153.4h0M1287.8 1083.9h0M1290.7 1159.8h0M1246.9 1138.9h0M1317.8 1166.5h0M1236.4 1224.9h0M1243.7 1136.1h0M1367.8 1234.4h0M1254.2 1195.3h0M1357.5 1176.6h0M1380.5 1153.4h0M1314.7 1171.3h0M1330.0 1172.4h0M1402.8 1216.4h0M1291.0 1236.5h0M1270.4 1184.9h0M1230.9 1214.4h0M1303.4 1237.2h0M1378.2 1235.6h0M1351.1 1206.0h0M1252.3 1258.1h0M1256.8 1238.8h0M1275.0 1249.8h0M1316.4 1180.3h0M1290.6 1171.6h0M1312.4 1110.4h0M1316.7 1244.5h0M1285.7 1213.2h0M1299.2 1152.3h0M1312.0 1195.5h0M1296.9 1199.7h0M1327.4 1121.8h0M1398.5 1200.2h0M1332.0 1231.4h0M1304.1 1237.6h0M1213.6 1174.4h0M1321.4 1175.5h0M1200.0 1239.7h0M1228.0 1224.9h0M1345.7 1166.8h0M1338.0 1165.1h0M1293.4 1211.8h0M1212.3 1163.4h0M1281.9 1165.3h0M1266.0 1255.4h0M1334.4 1199.2h0M1418.6 1171.3h0M1312.5 1209.1h0M1260.7 1269.0h0M1240.4 1198.0h0M1298.3 1158.5h0M1292.1 1126.8h0M1241.4 1271.0h0M1307.3 1087.3h0M1241.4 1230.3h0M1359.1 1150.6h0M1356.5 1140.0h0M1357.7 1149.6h0M1276.6 1181.5h0M1328.0 1231.6h0M1294.4 1163.3h0M1281.0 1214.6h0M1283.6 1283.7h0M1233.7 1079.0h0M1226.2 1160.1h0M1342.5 1117.7h0M1291.3 1222.1h0M1312.5 1131.1h0M1353.3 1126.4h0M1211.1 1127.8h0M1260.5 1188.0h0M1310.4 1233.2h0M1321.6 1194.0h0M1281.6 1271.5h0M1354.8 1252.3h0M1312.2 1183.7h0M1238.1 1225.1h0M1252.8 1193.5h0M1343.1 1191.4h0M1325.4 1113.4h0M1202.5 1137.6h0M1371.3 1188.9h0M1332.3 1141.0h0M1371.1 1217.0h0M1281.3 1200.1h0M1285.9 1152.4h0M1242.7 1234.7h0M1433.2 1197.9h0M1292.1 1237.7h0M1383.8 1182.7h0M1267.6 1124.8h0M1309.8 1216.0h0M1214.3 1178.6h0M1281.3 1221.5h0M1352.4 1231.2h0M1236.2 1234.5h0M1357.0 1131.6h0M1318.8 1096.9h0M1247.0 1168.7h0M1275.2 1214.6h0M1277.4 1160.3h0M1298.7 1200.0h0M1273.4 1156.6h0M1258.2 1176.1h0M1285.4 1176.5h0M1247.8 1164.0h0M1234.2 1209.4h0M1298.7 1202.7h0M1347.2 1253.1h0M1221.7 1204.1h0M1301.4 1241.6h0M1267.4 1192.8h0M1250.4 1223.9h0M1345.6 1183.3h0M1274.3 1169.9h0M1379.2 1241.5h0M1260.7 1218.3h0M1321.3 1223.3h0M1289.4 1158.7h0M1262.0 1121.9h0M1331.8 1154.6h0M1293.2 1200.6h0M1332.6 1131.2h0M1298.8 1245.1h0M1244.8 1129.9h0M1295.9 1212.3h0M1303.9 1293.6h0M1351.1 1085.8h0M1254.1 1126.9h0M1299.2 1226.7h0M1211.7 1180.8h0M1335.1 1195.4h0M1245.0 1183.3h0M1207.3 1244.0h0M1298.2 1213.3h0M1358.7 1169.3h0M1222.0 1178.7h0M1244.7 1141.3h0M1262.6 1184.2h0M1242.5 1097.4h0M1321.0 1214.6h0M1259.3 1177.3h0M1263.7 1260.5h0M1331.6 1235.2h0M1262.0 1136.4h0M1323.7 1223.3h0M1250.7 1166.9h0M1238.2 1189.6h0M1205.8 1227.2h0M1398.0 1200.5h0M1284.6 1206.9h0M1313.9 1205.9h0M1299.6 1158.4h0M1309.6 1162.3h0M1303.8 1209.3h0M1400.5 1221.9h0M1247.2 1176.4h0M1220.3 1191.0h0M1248.6 1147.9h0M1231.8 1085.7h0M1340.1 1155.0h0M1343.9 1188.6h0M1251.3 1193.8h0M1228.9 1220.0h0M1282.8 1221.9h0M1373.6 1225.6h0M1154.6 1202.3h0M1328.6 1203.6h0M1245.3 1158.8h0M1355.3 1202.5h0M1245.2 1194.8h0M1286.4 1233.8h0M1222.9 1124.3h0M1250.4 1167.8h0M1373.3 1118.8h0M1343.9 1156.7h0M1280.4 1130.2h0M1256.0 1196.7h0M1202.8 1159.8h0M1280.8 1083.7h0M1299.6 1234.0h0M1296.9 1142.2h0M1296.4 1122.3h0M1242.9 1171.1h0M1297.8 1158.0h0M1299.2 1138.3h0M1368.4 1212.9h0M1398.3 1171.3h0M1294.1 1221.2h0M1261.4 1213.7h0M1297.9 1211.4h0M1269.6 1192.8h0M1262.6 1181.5h0M1298.2 1169.5h0M1247.0 1242.7h0M1332.8 1109.7h0M1295.8 1141.9h0M1314.2 1158.8h0M1291.7 1201.2h0M1263.4 1190.7h0M1252.0 1165.8h0M1288.9 1171.1h0M1272.7 1253.1h0M1313.4 1158.2h0M1301.0 1072.9h0M1230.4 1259.6h0M1304.7 1148.2h0M1231.4 1172.7h0M1269.2 1191.6h0M1285.9 1133.4h0M1193.3 1233.6h0M1306.0 1180.8h0M1309.1 1129.8h0M1293.0 1195.0h0M1279.2 1203.6h0M1281.8 1182.7h0M1250.5 1204.7h0M1287.2 1126.4h0M1272.5 1222.9h0M1306.0 1152.9h0M1238.6 1236.4h0M1313.5 1160.9h0M1308.7 1191.3h0M1293.9 1288.8h0M1278.4 1187.5h0M1330.0 1229.2h0M1214.7 1204.7h0M1325.2 1126.7h0M1313.9 1231.2h0M1316.0 1228.9h0M1321.2 1130.6h0M1267.3 1182.7h0M1287.8 1126.6h0M1334.4 1174.5h0M1323.6 1221.9h0M1312.0 1189.8h0M1222.5 1138.9h0M1329.2 1150.2h0M1362.1 1187.2h0M1353.7 1185.3h0M1313.4 1191.6h0M1220.2 1210.0h0M1350.3 1111.3h0M1293.6 1186.9h0M1169.6 1231.7h0M1320.9 1206.0h0M1223.7 1158.7h0M1233.8 1162.0h0M1268.2 1192.6h0M1367.4 1213.5h0M1282.0 1186.3h0M1315.3 1253.0h0M1392.1 1238.4h0M1384.1 1155.8h0M1295.9 1206.1h0M1288.7 1172.5h0M1235.7 1139.3h0M1265.1 1161.7h0M1323.4 1186.4h0M1321.8 1103.5h0M1307.0 1161.0h0M1353.0 1201.2h0M1261.1 1158.4h0M1298.3 1171.2h0M1339.3 1220.9h0M1331.6 1184.4h0M1356.9 1193.7h0M1321.9 1264.6h0M1285.2 1194.0h0M1320.1 1198.4h0M1249.1 1204.5h0M1216.0 1251.9h0M1331.4 1201.2h0M1298.4 1188.8h0M1317.3 1183.2h0M1213.0 1231.9h0M1282.3 1162.3h0M1270.1 1235.0h0M1256.3 1196.0h0M1184.0 1135.9h0M1283.8 1214.4h0M1347.9 1207.3h0M1321.1 1145.0h0M1270.0 1202.3h0M1300.5 1198.9h0M1340.6 1178.5h0M1157.7 1146.0h0M1294.8 1273.8h0M1329.5 1219.8h0M1336.7 1226.8h0M1389.7 1229.9h0M1360.3 1220.8h0M1317.5 1220.2h0M1316.9 1175.4h0M1342.2 1222.1h0M1273.2 1182.4h0M1299.2 1171.5h0M1348.4 1215.8h0M1403.0 1182.1h0M1293.0 1123.1h0M1298.7 1174.6h0M1311.6 1212.2h0M1371.1 1189.8h0M1299.7 1223.1h0M1377.7 1176.6h0M1251.0 1153.5h0M1291.6 1219.3h0M1290.9 1195.4h0M1342.1 1143.7h0M1355.6 1206.7h0M1222.8 1179.9h0M1253.7 1227.2h0M1318.8 1219.2h0M1267.0 1207.2h0M1222.1 1104.0h0M1355.2 1202.9h0M1326.9 1207.5h0M1326.9 1208.8h0M1276.5 1193.6h0M1354.7 1162.1h0M1288.8 1180.0h0M1358.3 1108.5h0M1253.8 1179.0h0M1256.8 1131.9h0M1311.9 1176.6h0M1264.7 1164.1h0M1336.4 1242.4h0M1314.8 1192.1h0M1253.3 1189.9h0M1305.0 1196.5h0M1283.0 1269.6h0M1348.9 1153.5h0M1268.4 1202.0h0M1278.4 1204.0h0M1364.2 1197.0h0M1417.7 1195.9h0M1405.2 1171.6h0M1304.5 1235.8h0M1312.6 1222.8h0M1381.0 1176.1h0M1294.8 1181.7h0M1250.5 1201.6h0M1307.3 1209.2h0M1324.7 1219.1h0M1258.1 1189.5h0M1215.6 1142.1h0M1226.5 1227.7h0M1335.8 1129.0h0M1261.8 1154.9h0M1293.9 1204.5h0M1312.3 1157.3h0M1333.4 1243.3h0M1283.8 1253.5h0M1327.2 1236.6h0M1255.0 1202.9h0M1282.4 1199.7h0M1248.0 1206.9h0M1360.1 1183.4h0M1299.8 1268.9h0M1262.8 1168.3h0M1282.9 1241.5h0M1289.7 1212.5h0M1337.7 1203.0h0M1218.3 1231.5h0M1247.3 1239.7h0M1281.6 1225.7h0M1432.9 1187.7h0M1350.9 1164.7h0M1295.4 1165.6h0M1338.3 1225.3h0M1408.2 1217.5h0M1289.1 1222.4h0M1282.2 1170.0h0M1364.3 1265.2h0M1326.9 1139.9h0M1336.2 1205.8h0M1274.8 1217.2h0M1401.3 1174.2h0M1390.1 1147.7h0M1330.7 1174.1h0M1336.8 1147.0h0M1195.8 1182.1h0M1334.4 1140.2h0M1291.2 1139.6h0M1323.8 1191.0h0M1336.7 1132.2h0M1283.5 1180.9h0M1213.3 1183.9h0M1320.4 1222.5h0M1262.7 1198.3h0M1284.1 1157.5h0M1269.8 1237.4h0M1283.5 1162.4h0M1181.2 1173.9h0M1364.5 1176.6h0M1314.4 1271.6h0M1359.0 1191.2h0M1404.2 1162.4h0M1302.4 1216.4h0M1207.5 1183.8h0M1254.8 1278.2h0M1238.5 1161.5h0M1275.1 1212.6h0M1305.4 1153.9h0M1197.1 1257.7h0M1319.1 1160.7h0M1222.7 1196.3h0M1316.7 1156.3h0M1295.6 1222.6h0M1284.9 1210.9h0M1297.4 1101.4h0M1273.2 1219.0h0M1269.4 1214.2h0M1213.7 1197.8h0M1299.7 1226.3h0M1397.2 1141.7h0M1404.2 1121.2h0M1370.0 1214.2h0M1337.9 1253.2h0M1266.1 1142.4h0M1376.3 1144.8h0M1298.3 1155.8h0M1297.7 1143.0h0M1286.1 1220.4h0M1306.0 1193.7h0M1278.6 1240.2h0M1296.9 1241.5h0M1244.8 1149.7h0M1281.8 1212.9h0M1419.8 1100.0h0M1297.6 1184.4h0M1288.8 1211.7h0M1328.9 1156.7h0M1338.1 1118.3h0M1243.3 1168.6h0M1290.5 1233.8h0M1349.0 1173.0h0M1315.3 1134.6h0M1307.6 1206.1h0M1382.1 1216.8h0M1266.0 1148.3h0M1305.5 1181.9h0M1274.2 1229.4h0M1378.7 1201.7h0M1199.7 1216.1h0M1266.4 1175.9h0M1273.7 1183.0h0M1335.7 1143.2h0M1332.8 1160.1h0M1373.8 1247.0h0M1219.4 1171.7h0M1340.3 1152.9h0M1286.0 1169.8h0M1266.6 1147.8h0M1329.3 1208.2h0M1253.4 1223.6h0M1193.2 1151.6h0M1282.0 1228.0h0M1223.4 1269.8h0M1267.5 1148.0h0M1320.6 1214.9h0M1317.5 1198.9h0M1383.8 1240.7h0M1290.9 1237.9h0M1221.5 1231.5h0M1261.9 1201.0h0M1253.4 1173.1h0M1237.9 1275.1h0M1323.9 1158.4h0M1267.7 1232.4h0M1198.4 1228.0h0M1337.5 1161.3h0M1295.5 1190.1h0M1319.8 1246.0h0M1306.7 1116.7h0M1334.1 1220.1h0M1303.2 1177.8h0M1365.5 1179.6h0M1323.3 1133.2h0M1321.6 1204.7h0M1322.6 1148.7h0M1225.5 1215.6h0M1292.7 1144.3h0M1287.8 1216.4h0M1312.0 1201.1h0M1230.6 1114.7h0M1386.2 1175.1h0M1306.7 1183.0h0M1238.3 1101.5h0M1212.4 1173.4h0M1286.6 1218.4h0M1296.6 1159.1h0M1263.9 1232.4h0M1306.0 1144.1h0M1267.9 1141.1h0M1329.9 1209.1h0M1263.6 1211.2h0M1299.2 1180.5h0M1352.1 1186.7h0M1435.0 1224.6h0M1248.8 1165.5h0M1277.1 1265.3h0M1257.6 1203.8h0M1342.0 1202.7h0M1241.5 1197.7h0M1276.1 1175.5h0M1299.7 1234.2h0M1250.4 1164.7h0M1251.5 1194.1h0M1276.5 1212.1h0M1192.0 1239.5h0M1226.1 1232.5h0M1279.8 1173.4h0M1309.0 1224.1h0M1291.6 1184.8h0M1209.0 1146.6h0M1277.1 1147.7h0M1342.8 1127.5h0M1330.1 1198.6h0M1297.1 1228.7h0M1255.1 1148.2h0M1334.1 1175.4h0M1271.1 1144.2h0M1240.4 1186.8h0M1259.5 1141.5h0M1376.6 1154.8h0M1312.7 1159.8h0M1361.5 1168.0h0M1276.3 1172.0h0M1350.0 1178.3h0M1270.0 1178.6h0M1293.1 1149.3h0M1430.5 1206.8h0M1341.1 1120.8h0M1275.2 1191.3h0M1296.8 1149.5h0M1318.2 1190.7h0M1364.2 1196.7h0M1275.8 1109.5h0M1210.7 1199.1h0M1286.7 1236.1h0M1302.0 1214.5h0M1306.9 1199.4h0M1369.7 1104.8h0M1317.7 1179.3h0M1343.5 1151.5h0M1244.0 1225.5h0M1346.4 1173.7h0M1410.2 1161.5h0M1341.4 1118.3h0M1314.4 1213.9h0M1309.3 1164.1h0M1394.2 1175.6h0M1253.0 1226.3h0M1295.5 1188.0h0M1325.2 1197.3h0M1339.9 1276.2h0M1278.5 1164.3h0M1317.2 1166.6h0M1286.8 1204.0h0M1307.5 1238.4h0M1294.4 1130.6h0M1241.9 1177.0h0M1300.1 1148.3h0M1346.9 1133.3h0M1251.0 1207.1h0M1288.7 1156.2h0M1335.8 1196.4h0M1245.6 1189.6h0M1310.7 1190.5h0M1246.1 1187.3h0M1360.2 1144.6h0M1421.5 1182.5h0M1406.4 1193.1h0M1289.8 1197.8h0M1339.7 1174.2h0M1307.5 1221.5h0M1306.6 1206.5h0M1381.7 1189.2h0M1232.6 1208.9h0M1356.1 1191.8h0M1298.7 1210.6h0M1374.5 1110.6h0M1311.0 1136.4h0M1266.3 1170.0h0M1315.7 1189.3h0M1339.5 1103.4h0M1303.1 1174.9h0M1326.6 1190.5h0M1274.1 1175.6h0M1190.3 1175.5h0M1348.0 1133.3h0M1337.6 1187.9h0M1309.0 1106.9h0M1304.8 1221.0h0M1355.1 1160.7h0M1277.5 1225.5h0M1264.5 1117.7h0M1291.4 1199.9h0M1363.1 1189.4h0M1229.1 1151.9h0M1363.2 1139.2h0M1268.0 1229.8h0M1244.0 1200.5h0M1366.8 1240.6h0M1296.2 1182.0h0M1233.6 1191.1h0M1282.6 1200.6h0M1349.7 1213.4h0M1363.2 1202.0h0M1279.0 1215.8h0M1322.4 1167.0h0M1338.4 1129.2h0M1267.7 1261.1h0M1319.7 1191.7h0M1299.6 1203.2h0M1273.4 1168.4h0M1275.7 1223.6h0M1304.7 1192.8h0M1302.8 1227.0h0M1271.8 1160.6h0M1279.1 1183.4h0M1359.1 1193.4h0M1312.4 1173.1h0M1347.3 1196.7h0M1363.7 1246.7h0M1331.9 1164.4h0M1419.3 1176.2h0M1258.3 1193.1h0M1343.3 1149.5h0M1284.7 1140.6h0M1397.7 1229.0h0M1389.7 1217.1h0M1199.6 1128.0h0M1250.9 1132.9h0M1335.8 1215.5h0M1342.3 1232.4h0M1339.5 1211.6h0M1297.6 1206.3h0M1324.9 1247.8h0M1335.2 1186.0h0M1297.2 1236.2h0M1354.7 1233.5h0M1183.8 1152.2h0M1334.2 1213.4h0M1247.5 1190.0h0M1351.1 1163.2h0M1289.4 1156.1h0M1255.0 1200.1h0M1320.7 1185.5h0M1253.9 1218.8h0M1253.8 1120.4h0M1219.7 1162.4h0M1299.9 1229.4h0M1327.1 1187.1h0M1354.4 1159.9h0M1293.9 1168.9h0M1355.7 1117.3h0M1302.2 1134.7h0M1296.4 1207.9h0M1331.1 1190.6h0M1356.3 1236.2h0M1283.5 1177.7h0M1288.6 1181.4h0M1292.9 1083.8h0M1305.5 1183.5h0M1254.4 1267.3h0M1354.7 1212.9h0M1280.4 1182.9h0M1325.3 1235.3h0M1258.3 1220.4h0M1389.5 1053.9h0M1357.9 1060.9h0"/>
<path stroke="#00f" stroke-width="6.3" stroke-linecap="round" fill="none" d="M1374.8 1078.5h0M1453.4 1094.2h0M1460.7 1101.8h0M1402.1 1108.5h0M1335.6 1112.8h0M1433.8 1118.8h0M1343.9 1127.4h0M1351.9 1126.1h0M1463.7 1129.1h0M1336.2 1135.1h0M1398.8 1132.8h0M1368.2 1136.4h0M1405.1 1142.4h0M1389.1 1154.1h0M1402.5 1151.7h0M1409.5 1155.4h0M1366.2 1155.4h0M1472.4 1153.4h0M1404.8 1163.1h0M1425.4 1165.7h0M1439.7 1159.1h0M1365.2 1165.7h0M1383.8 1170.1h0M1396.5 1169.4h0M1371.8 1173.7h0M1336.9 1172.1h0M1461.4 1170.7h0M1453.4 1175.0h0M1445.4 1180.4h0M1438.4 1182.7h0M1395.1 1179.0h0M1422.8 1183.7h0M1454.1 1182.7h0M1461.4 1184.4h0M1411.8 1185.7h0M1282.6 1189.0h0M1303.6 1191.0h0M1424.1 1210.3h0M1404.8 1217.0h0M1415.8 1217.7h0M1462.1 1215.3h0M1368.2 1217.7h0M1371.5 1226.3h0M1325.6 1225.3h0M1365.2 1247.0h0M1343.5 1259.9h0M1420.4 1271.6h0M1400.1 1279.6h0M1476.0 1312.9h0M1386.8 1021.9h0"/>
</g>
<path d="M1192.60 1007.3V1347.8M1250.40 1007.3V1347.8M1308.20 1007.3V1347.8M1366.00 1007.3V1347.8M1423.70 1007.3V1347.8M1481.50 1007.3V1347.8M1141.1 1030.20H1492.7M1141.1 1069.50H1492.7M1141.1 1108.80H1492.7M1141.1 1148.10H1492.7M1141.1 1187.40H1492.7M1141.1 1226.30H1492.7M1141.1 1265.60H1492.7M1141.1 1304.90H1492.7M1141.1 1344.20H1492.7" stroke="#d6d6d6" stroke-width="1.5" fill="none"/>
<rect x="1141.1" y="1007.3" width="351.60000000000014" height="340.5" fill="none" stroke="#7a7a7a" stroke-width="1.9"/>
<path d="M1192.60 1347.8v2.6M1250.40 1347.8v2.6M1308.20 1347.8v2.6M1366.00 1347.8v2.6M1423.70 1347.8v2.6M1481.50 1347.8v2.6M1141.1 1030.20h-2.6M1141.1 1069.50h-2.6M1141.1 1108.80h-2.6M1141.1 1148.10h-2.6M1141.1 1187.40h-2.6M1141.1 1226.30h-2.6M1141.1 1265.60h-2.6M1141.1 1304.90h-2.6M1141.1 1344.20h-2.6" stroke="#333" stroke-width="1.6" fill="none"/>
<text transform="scale(1.1140,1)" x="1055.18 1065.27 1073.85 1078.15" y="1364.00" font-size="15.00" fill="#000" stroke="#000" stroke-width="0.08">−5.0</text>
<text transform="scale(1.1026,1)" x="1118.64 1128.74 1137.49 1141.82" y="1364.00" font-size="15.00" fill="#000" stroke="#000" stroke-width="0.08">−2.5</text>
<text transform="scale(1.0569,1)" x="1226.83 1235.73 1240.37" y="1364.00" font-size="15.00" fill="#000" stroke="#000" stroke-width="0.08">0.0</text>
<text transform="scale(1.0146,1)" x="1334.97 1344.30 1349.19" y="1364.00" font-size="15.00" fill="#000" stroke="#000" stroke-width="0.08">2.5</text>
<text transform="scale(1.0333,1)" x="1366.54 1375.63 1380.43" y="1364.00" font-size="15.00" fill="#000" stroke="#000" stroke-width="0.08">5.0</text>
<text transform="scale(1.0244,1)" x="1435.08 1444.19 1449.01" y="1364.00" font-size="15.00" fill="#000" stroke="#000" stroke-width="0.08">7.5</text>
<text transform="scale(1.0745,1)" x="1048.70" y="1035.41" font-size="15.00" fill="#000" stroke="#000" stroke-width="0.08">8</text>
<text transform="scale(1.0860,1)" x="1037.47" y="1074.71" font-size="15.00" fill="#000" stroke="#000" stroke-width="0.08">6</text>
<text transform="scale(1.0495,1)" x="1073.68" y="1114.01" font-size="15.00" fill="#000" stroke="#000" stroke-width="0.08">4</text>
<text transform="scale(1.0110,1)" x="1115.19" y="1153.31" font-size="15.00" fill="#000" stroke="#000" stroke-width="0.08">2</text>
<text transform="scale(1.0521,1)" x="1071.11" y="1192.61" font-size="15.00" fill="#000" stroke="#000" stroke-width="0.08">0</text>
<text transform="scale(1.1543,1)" x="966.60 976.25" y="1231.51" font-size="15.00" fill="#000" stroke="#000" stroke-width="0.08">−2</text>
<text transform="scale(1.1667,1)" x="955.69 965.45" y="1270.81" font-size="15.00" fill="#000" stroke="#000" stroke-width="0.08">−4</text>
<text transform="scale(1.1895,1)" x="937.35 946.87" y="1310.11" font-size="15.00" fill="#000" stroke="#000" stroke-width="0.08">−6</text>
<text transform="scale(1.1832,1)" x="942.37 951.91" y="1349.41" font-size="15.00" fill="#000" stroke="#000" stroke-width="0.08">−8</text>
<rect x="1353.5" y="1014.9" width="131.5" height="46.60000000000002" rx="3" fill="#fff" fill-opacity="0.8" stroke="#d5d5d5" stroke-width="1"/>
<circle cx="1374.2" cy="1026.6" r="2.9" fill="#f00" fill-opacity="1"/>
<text transform="scale(1.0804,1)" x="1297.02 1305.90 1314.54 1327.75 1332.41 1341.03 1349.61 1353.23 1360.69" y="1031.20" font-size="14.40" fill="#000" stroke="#000" stroke-width="0.08">10% noise</text>
<circle cx="1374.2" cy="1048.5" r="2.9" fill="#00f" fill-opacity="1"/>
<text transform="scale(1.0733,1)" x="1305.67 1314.57 1323.32 1336.59 1341.29 1349.97 1358.59 1362.24 1369.76" y="1053.10" font-size="14.40" fill="#000" stroke="#000" stroke-width="0.08">15% noise</text>
<text transform="scale(0.9935,1)" x="1277.74 1288.02 1295.48 1308.98 1314.87 1326.41 1337.95 1349.49 1361.03" y="1002.30" font-size="19.50" fill="#000" stroke="#000" stroke-width="0.08">L = 30000</text>
<text transform="scale(1.0929,1)" x="1125.89 1135.27 1140.32 1144.19 1152.52 1160.38 1164.27 1172.26 1181.31 1184.97 1188.66 1198.96 1207.85 1220.93 1229.44 1238.01 1246.61 1255.15 1264.12 1269.02 1273.48" y="1381.10" font-size="14.40" fill="#000" stroke="#000" stroke-width="0.08">Principal Component 1</text>
<text transform="translate(1107.10,1178.00) rotate(-90) scale(1.0934,1)" x="-78.18 -68.80 -63.76 -59.89 -51.56 -43.71 -39.82 -31.83 -22.79 -19.13 -15.44 -5.15 3.73 16.81 25.32 33.88 42.48 51.02 59.98 64.88 69.25" y="0.00" font-size="14.40" fill="#000" stroke="#000" stroke-width="0.08">Principal Component 2</text>
<text x="1043.10" y="1002.30" font-size="55.00" font-weight="bold" textLength="17.86" lengthAdjust="spacingAndGlyphs" fill="#000" stroke="#000" stroke-width="0.6" >i</text>
<clipPath id="c8"><rect x="120.7" y="1510.3" width="334.3" height="340.70000000000005"/></clipPath>
<g clip-path="url(#c8)">
<path stroke="#f00" stroke-width="6.3" stroke-linecap="round" fill="none" d="M151.5 1656.1h0M159.0 1656.2h0M158.5 1672.3h0M177.3 1678.7h0M140.8 1706.9h0M180.4 1664.4h0M166.0 1669.8h0M200.5 1658.7h0M201.7 1675.6h0M209.8 1710.7h0M198.2 1708.6h0M182.9 1662.3h0M199.9 1646.5h0M211.9 1688.9h0M171.7 1684.7h0M195.2 1675.9h0M183.1 1678.5h0M210.7 1676.5h0M168.3 1689.0h0M178.3 1678.9h0M190.6 1696.1h0M188.7 1685.8h0M153.3 1668.4h0M190.6 1682.3h0M181.7 1697.6h0M179.4 1677.0h0M181.0 1708.3h0M188.0 1698.3h0M150.0 1707.1h0M212.8 1677.4h0M167.8 1669.4h0M142.1 1692.0h0M182.4 1703.7h0M211.0 1673.3h0M174.2 1678.2h0M212.8 1718.9h0M212.9 1662.2h0M167.8 1663.2h0M138.0 1689.7h0M160.9 1685.6h0M206.0 1686.4h0M168.7 1694.8h0M155.7 1674.5h0M159.0 1700.5h0M183.9 1691.2h0M183.4 1681.2h0M200.1 1722.2h0M202.3 1696.1h0M166.5 1712.7h0M181.0 1695.2h0M162.8 1696.4h0M185.2 1689.6h0M162.4 1682.3h0M161.5 1708.5h0M223.4 1679.3h0M184.5 1724.1h0M195.9 1665.2h0M231.2 1687.9h0M198.5 1668.6h0M181.8 1728.9h0M184.9 1655.5h0M170.0 1692.9h0M204.3 1678.9h0M177.7 1683.9h0M216.7 1687.9h0M177.5 1696.7h0M177.3 1731.0h0M176.1 1658.4h0M195.5 1644.4h0M187.4 1699.6h0M209.4 1655.9h0M173.6 1664.7h0M189.3 1677.7h0M220.0 1688.5h0M179.4 1672.0h0M193.8 1699.7h0M213.2 1692.6h0M194.2 1697.1h0M172.1 1701.7h0M145.5 1697.3h0M228.5 1671.6h0M191.9 1670.0h0M207.4 1703.0h0M175.0 1686.5h0M217.8 1689.2h0M193.6 1723.7h0M184.8 1659.7h0M167.1 1709.2h0M190.7 1659.3h0M174.8 1736.7h0M179.7 1702.0h0M153.7 1667.4h0M174.7 1674.6h0M186.9 1673.0h0M160.6 1685.2h0M185.3 1638.2h0M196.2 1682.6h0M178.2 1676.5h0M172.3 1700.2h0M172.3 1701.8h0M201.4 1653.2h0M155.3 1653.0h0M178.3 1724.2h0M176.1 1696.1h0M186.6 1655.6h0M182.6 1681.6h0M163.2 1661.6h0M221.9 1723.9h0M187.2 1679.2h0M158.9 1683.0h0M167.3 1681.8h0M185.7 1697.8h0M195.3 1684.1h0M158.9 1643.3h0M197.1 1707.4h0M158.3 1684.7h0M169.1 1690.0h0M199.8 1689.1h0M215.6 1642.5h0M182.3 1647.5h0M178.1 1691.4h0M207.5 1671.1h0M163.9 1701.5h0M189.1 1675.8h0M188.2 1691.4h0M202.7 1649.7h0M189.4 1672.7h0M178.9 1706.7h0M195.3 1723.4h0M162.9 1708.2h0M199.0 1635.3h0M171.3 1705.0h0M166.9 1715.0h0M177.0 1698.3h0M184.7 1694.1h0M197.1 1669.1h0M179.9 1700.1h0M197.6 1645.3h0M202.0 1682.7h0M181.9 1676.1h0M165.6 1650.8h0M201.0 1678.8h0M189.0 1675.6h0M144.5 1668.3h0M165.5 1699.3h0M186.5 1694.9h0M158.3 1667.5h0M171.2 1700.5h0M152.0 1695.8h0M191.4 1661.7h0M188.4 1669.4h0M187.2 1675.1h0M210.8 1708.5h0M177.3 1638.3h0M178.5 1686.3h0M221.5 1690.0h0M159.6 1686.9h0M197.5 1701.9h0M159.4 1689.1h0M188.3 1637.9h0M223.3 1717.0h0M188.9 1632.6h0M169.5 1704.6h0M228.3 1704.6h0M173.7 1652.4h0M180.0 1640.0h0M189.5 1692.2h0M158.9 1664.6h0M204.6 1700.9h0M214.0 1691.6h0M198.0 1700.6h0M190.0 1680.8h0M181.1 1698.5h0M200.4 1681.0h0M126.1 1691.9h0M181.6 1684.2h0M188.6 1682.8h0M146.9 1699.7h0M191.8 1693.3h0M181.5 1710.6h0M183.2 1673.5h0M185.8 1668.2h0M194.6 1693.2h0M192.4 1691.5h0M164.6 1697.5h0M181.7 1695.5h0M180.5 1682.0h0M184.6 1723.3h0M172.9 1718.1h0M201.9 1683.9h0M208.2 1665.6h0M212.2 1701.1h0M219.4 1667.6h0M211.7 1664.3h0M175.3 1683.1h0M172.4 1635.6h0M176.5 1688.2h0M194.3 1682.5h0M181.5 1711.0h0M202.3 1708.6h0M214.6 1683.3h0M175.9 1672.7h0M202.1 1690.4h0M176.6 1687.0h0M160.3 1683.5h0M160.2 1669.0h0M177.9 1724.1h0M148.5 1668.4h0M193.2 1705.1h0M212.0 1675.4h0M162.2 1668.8h0M177.7 1717.9h0M212.6 1661.7h0M190.3 1685.3h0M187.5 1698.9h0M179.0 1647.0h0M202.9 1715.4h0M190.0 1720.9h0M163.7 1683.0h0M138.6 1677.5h0M133.9 1692.2h0M196.1 1674.4h0M178.9 1740.1h0M210.9 1665.0h0M193.4 1683.3h0M160.2 1711.3h0M189.3 1713.9h0M206.1 1676.6h0M167.1 1678.0h0M174.4 1701.5h0M216.3 1684.2h0M151.3 1685.7h0M163.6 1662.3h0M203.4 1707.1h0M187.6 1663.5h0M162.6 1683.7h0M156.8 1684.7h0M192.5 1673.8h0M206.5 1696.5h0M199.3 1717.5h0M191.5 1722.2h0M211.7 1662.7h0M189.7 1724.4h0M168.4 1662.2h0M221.7 1701.3h0M160.9 1660.8h0M181.4 1706.0h0M182.5 1678.4h0M210.5 1681.1h0M169.7 1667.7h0M178.7 1694.0h0M150.7 1675.0h0M190.2 1649.7h0M192.2 1715.4h0M196.0 1661.7h0M166.6 1708.5h0M188.3 1662.9h0M167.4 1693.2h0M175.0 1652.2h0M182.4 1690.2h0M208.0 1695.7h0M175.7 1661.0h0M187.1 1689.8h0M168.1 1688.8h0M173.2 1662.7h0M170.7 1652.0h0M180.8 1664.6h0M198.1 1726.3h0M163.2 1676.0h0M197.2 1676.9h0M166.0 1663.9h0M190.0 1659.5h0M173.4 1660.1h0M178.1 1671.9h0M176.4 1637.3h0M204.1 1685.8h0M188.3 1697.2h0M203.5 1710.3h0M176.7 1690.6h0M179.1 1664.5h0M213.5 1681.1h0M152.8 1650.3h0M167.1 1681.7h0M180.1 1693.5h0M217.4 1647.4h0M172.1 1685.8h0M198.2 1655.7h0M212.9 1731.3h0M179.0 1710.4h0M180.2 1692.9h0M214.5 1704.4h0M173.1 1675.7h0M163.8 1679.5h0M198.8 1676.2h0M173.8 1701.0h0M207.6 1700.6h0M193.4 1695.9h0M150.7 1648.2h0M188.6 1688.1h0M183.6 1661.4h0M171.0 1700.3h0M204.0 1713.9h0M150.4 1679.5h0M160.0 1661.0h0M174.1 1720.0h0M198.2 1694.9h0M154.6 1669.1h0M171.5 1689.1h0M170.0 1690.0h0M155.1 1666.2h0M176.1 1679.8h0M161.8 1679.4h0M174.8 1694.7h0M188.5 1677.4h0M166.1 1694.8h0M166.8 1651.9h0M164.7 1752.4h0M167.2 1681.0h0M153.8 1667.2h0M161.0 1704.7h0M185.3 1670.2h0M166.7 1699.5h0M241.6 1668.0h0M167.9 1646.6h0M191.6 1688.8h0M155.0 1633.9h0M178.1 1684.1h0M172.9 1737.7h0M181.6 1692.8h0M208.0 1680.8h0M180.0 1678.7h0M160.6 1684.2h0M185.4 1675.3h0M165.2 1688.1h0M181.0 1654.2h0M213.2 1676.7h0M201.2 1687.0h0M203.8 1643.0h0M193.6 1712.5h0M183.3 1726.1h0M154.9 1699.4h0M174.9 1741.1h0M173.8 1672.9h0M196.5 1690.9h0M202.4 1637.1h0M192.8 1705.0h0M169.0 1710.8h0M218.3 1668.9h0M210.3 1669.9h0M179.8 1669.2h0M187.6 1697.1h0M195.8 1697.2h0M185.8 1671.9h0M182.0 1687.6h0M193.1 1671.3h0M184.1 1659.0h0M187.7 1690.4h0M153.9 1671.3h0M153.9 1727.0h0M216.3 1648.4h0M155.5 1649.8h0M193.0 1679.8h0M189.8 1688.4h0M188.0 1680.0h0M171.0 1677.4h0M202.8 1684.3h0M190.4 1697.1h0M177.5 1676.1h0M157.7 1655.4h0M179.6 1725.3h0M172.7 1693.8h0M160.4 1700.8h0M191.0 1708.0h0M194.7 1683.2h0M199.4 1731.8h0M186.2 1692.3h0M179.4 1664.0h0M205.3 1663.0h0M198.5 1667.8h0M227.1 1675.4h0M194.6 1664.5h0M166.8 1679.3h0M202.3 1671.7h0M227.8 1666.2h0M189.5 1649.1h0M181.0 1659.1h0M173.3 1662.2h0M220.1 1715.3h0M181.0 1675.9h0M179.9 1678.3h0M190.2 1694.0h0M158.1 1705.2h0M179.5 1667.6h0M161.0 1680.4h0M182.0 1689.1h0M194.0 1706.8h0M202.0 1699.2h0M177.0 1694.2h0M200.1 1675.8h0M177.5 1646.1h0M153.9 1678.4h0M195.5 1727.4h0M181.0 1673.5h0M186.9 1672.8h0M136.0 1705.9h0M189.0 1712.8h0M189.7 1683.2h0M189.7 1666.9h0M204.5 1674.4h0M178.4 1649.0h0M225.3 1686.9h0M198.8 1683.7h0M195.5 1703.5h0M138.8 1662.4h0M148.6 1679.6h0M213.4 1671.9h0M192.8 1735.0h0M202.9 1724.3h0M178.5 1676.5h0M183.4 1671.2h0M196.6 1694.2h0M171.0 1691.8h0M210.5 1668.8h0M165.2 1703.2h0M190.1 1684.7h0M181.0 1706.4h0M192.7 1698.3h0M209.4 1666.8h0M165.3 1724.1h0M194.8 1701.9h0M188.6 1740.8h0M202.1 1678.1h0M186.0 1680.8h0M177.3 1620.8h0M195.9 1694.0h0M211.4 1680.0h0M201.8 1660.7h0M189.5 1669.8h0M194.6 1691.3h0M157.9 1657.3h0M176.6 1745.7h0M182.0 1674.2h0M176.7 1701.5h0M173.6 1702.4h0M185.8 1708.4h0M194.1 1677.6h0M222.8 1708.2h0M173.6 1681.9h0M169.7 1646.6h0M205.2 1701.5h0M189.6 1683.1h0M170.1 1698.9h0M215.2 1715.0h0M182.8 1672.6h0M180.6 1658.2h0M175.2 1700.6h0M169.4 1684.5h0M188.4 1688.9h0M168.7 1702.3h0M232.2 1667.3h0M192.7 1730.6h0M181.8 1652.5h0M171.9 1698.0h0M191.1 1646.5h0M204.8 1674.7h0M190.7 1687.7h0M164.8 1723.6h0M181.8 1715.6h0M154.2 1671.0h0M212.7 1702.7h0M198.7 1666.4h0M189.8 1715.0h0M191.4 1662.3h0M175.3 1686.8h0M183.2 1677.5h0M203.8 1706.3h0M185.1 1696.1h0M196.9 1675.3h0M190.0 1683.0h0M190.2 1708.2h0M191.9 1682.1h0M205.3 1719.9h0M180.5 1641.7h0M198.6 1674.2h0M171.3 1698.0h0M175.2 1693.7h0M172.7 1709.8h0M201.9 1685.0h0M180.5 1748.4h0M208.9 1687.5h0M167.1 1649.2h0M193.3 1734.1h0M164.6 1683.4h0M207.1 1699.5h0M173.3 1690.9h0M194.7 1713.3h0M173.4 1665.0h0M171.9 1715.9h0M190.7 1665.2h0M154.2 1662.8h0M164.0 1681.9h0M214.3 1673.4h0M170.9 1730.4h0M201.4 1701.2h0M170.1 1742.4h0M155.6 1672.4h0M178.5 1660.6h0M202.3 1720.0h0M185.7 1681.7h0M180.6 1691.6h0M202.0 1729.0h0M172.0 1694.2h0M199.5 1684.3h0M191.9 1663.7h0M166.9 1688.4h0M203.2 1671.3h0M206.9 1642.3h0M181.4 1659.8h0M188.2 1702.8h0M180.7 1673.1h0M165.0 1646.7h0M200.6 1622.9h0M167.0 1666.5h0M195.6 1657.3h0M175.8 1663.2h0M166.6 1637.0h0M197.1 1662.0h0M190.0 1658.6h0M220.0 1703.5h0M184.3 1690.5h0M188.4 1717.6h0M187.8 1703.1h0M181.0 1676.0h0M210.2 1657.9h0M213.7 1658.9h0M198.4 1672.1h0M167.0 1633.9h0M194.2 1711.3h0M186.9 1683.2h0M177.4 1649.1h0M156.9 1673.9h0M202.3 1678.6h0M208.2 1660.4h0M191.6 1698.7h0M194.3 1698.2h0M218.6 1690.8h0M221.9 1640.5h0M190.0 1711.3h0M132.7 1696.1h0M199.1 1631.1h0M188.7 1673.4h0M198.6 1688.3h0M176.2 1724.4h0M167.2 1678.8h0M195.3 1683.3h0M180.2 1661.0h0M187.7 1701.6h0M193.5 1698.0h0M187.6 1663.5h0M158.9 1704.5h0M196.3 1646.7h0M176.5 1686.6h0M181.6 1673.1h0M193.4 1695.9h0M158.4 1644.4h0M180.5 1695.7h0M151.3 1652.6h0M174.9 1694.1h0M191.5 1673.5h0M182.4 1702.0h0M179.7 1665.0h0M195.6 1646.9h0M177.2 1693.9h0M154.9 1640.7h0M204.3 1680.0h0M188.2 1698.9h0M198.9 1676.1h0M176.5 1692.3h0M176.0 1676.8h0M170.1 1693.4h0M148.0 1717.8h0M175.0 1654.1h0M172.5 1676.9h0M212.9 1690.0h0M148.1 1668.6h0M183.9 1713.3h0M179.9 1687.6h0M181.7 1666.5h0M180.2 1651.0h0M187.0 1678.0h0M198.7 1662.7h0M152.0 1721.7h0M198.2 1682.6h0M177.4 1662.6h0M164.2 1652.2h0M147.9 1708.8h0M148.4 1646.3h0M180.8 1626.1h0M161.3 1677.5h0M161.2 1720.8h0M172.9 1666.7h0M182.4 1667.2h0M173.3 1692.1h0M161.0 1650.8h0M170.5 1641.5h0M178.9 1705.0h0M162.6 1706.1h0M199.0 1676.7h0M205.9 1655.5h0M206.4 1711.2h0M176.4 1700.9h0M176.1 1689.6h0M165.5 1702.2h0M208.1 1689.2h0M173.8 1661.3h0M223.1 1704.0h0M144.8 1667.5h0M186.9 1683.9h0M192.1 1690.1h0M182.9 1715.6h0M193.7 1678.7h0M220.0 1671.8h0M182.1 1702.1h0M198.2 1663.0h0M174.7 1661.0h0M159.8 1680.1h0M163.4 1703.6h0M198.7 1685.9h0M189.1 1662.1h0M156.5 1662.7h0M189.0 1685.3h0M194.5 1688.1h0M192.4 1666.2h0M204.3 1667.9h0M156.4 1659.8h0M165.9 1707.8h0M163.6 1685.6h0M186.3 1662.7h0M207.9 1699.4h0M175.5 1680.0h0M190.1 1699.3h0M199.9 1660.8h0M175.3 1652.6h0M198.8 1694.3h0M181.7 1628.8h0M216.7 1663.4h0M209.9 1689.1h0M175.7 1670.3h0M174.1 1692.4h0M218.4 1658.5h0M168.0 1685.4h0M205.7 1701.6h0M176.6 1687.8h0M162.8 1710.6h0M216.4 1733.9h0M192.4 1714.6h0M165.2 1670.5h0M180.0 1695.7h0M170.8 1674.4h0M166.4 1693.8h0M182.4 1684.4h0M204.7 1676.4h0M158.1 1663.9h0M193.6 1705.3h0M157.4 1702.4h0M183.0 1682.0h0M157.4 1647.4h0M159.4 1676.9h0M171.3 1687.3h0M202.4 1686.7h0M199.4 1688.6h0M181.3 1696.9h0M177.9 1663.1h0M185.9 1640.7h0M236.2 1676.7h0M190.2 1715.4h0M181.3 1723.8h0M174.8 1639.0h0M177.9 1722.0h0M195.3 1629.7h0M194.5 1672.1h0M139.3 1685.8h0M222.8 1663.6h0M192.0 1682.0h0M181.9 1645.1h0M233.6 1693.7h0M154.9 1675.6h0M160.4 1694.7h0M204.6 1670.9h0M183.8 1664.3h0M200.2 1712.2h0M206.6 1719.5h0M217.8 1660.2h0M196.2 1665.1h0M171.9 1672.1h0M152.5 1698.7h0M186.3 1708.9h0M151.0 1705.7h0M184.9 1682.4h0M168.9 1705.0h0M190.9 1705.1h0M196.7 1674.4h0M183.0 1644.8h0M158.1 1638.9h0M186.5 1676.9h0M170.2 1656.4h0M189.5 1671.3h0M175.2 1673.9h0M227.2 1684.1h0M173.5 1696.2h0M147.7 1694.2h0M166.6 1676.8h0M185.2 1649.4h0M235.6 1712.6h0M209.9 1694.9h0M172.6 1708.4h0M183.8 1667.1h0M161.2 1626.8h0M156.4 1671.3h0M201.2 1711.9h0M191.4 1671.5h0M169.6 1637.3h0M170.2 1700.3h0M191.6 1734.3h0M196.3 1728.1h0M168.6 1672.4h0M151.6 1726.2h0M200.5 1647.9h0M169.9 1737.7h0M149.4 1686.9h0M180.1 1712.8h0M187.6 1663.7h0M201.7 1675.0h0M175.5 1669.0h0M188.9 1666.6h0M159.9 1701.7h0M192.4 1681.0h0M154.8 1704.2h0M195.0 1691.8h0M186.8 1679.2h0M155.1 1692.8h0M171.9 1715.4h0M214.7 1713.7h0M163.8 1710.3h0M152.8 1708.8h0M178.2 1710.0h0M186.7 1652.4h0M199.0 1664.7h0M180.9 1676.7h0M174.9 1651.8h0M179.3 1671.7h0M198.1 1694.5h0M180.3 1657.2h0M194.1 1671.9h0M150.2 1731.2h0M176.9 1632.0h0M182.0 1686.4h0M203.0 1723.2h0M192.3 1653.3h0M187.7 1680.6h0M204.0 1679.9h0M186.9 1650.8h0M241.6 1663.5h0M166.7 1675.7h0M186.1 1678.1h0M218.3 1680.9h0M198.5 1687.2h0M189.7 1714.6h0M202.8 1658.6h0M175.2 1683.1h0M186.1 1685.7h0M187.3 1666.0h0M220.4 1698.9h0M190.2 1692.7h0M223.0 1667.8h0M183.6 1688.4h0M189.0 1708.4h0M152.1 1707.4h0M195.8 1616.8h0M146.9 1696.0h0M196.7 1632.7h0M202.5 1700.1h0M191.6 1675.1h0M164.3 1693.9h0M178.7 1710.4h0M134.2 1691.1h0M170.4 1635.9h0M188.3 1701.3h0M183.9 1707.0h0M176.9 1674.7h0M208.3 1707.1h0M190.3 1702.6h0M183.7 1717.1h0M187.3 1661.8h0M163.7 1668.4h0M180.3 1738.8h0M146.8 1668.5h0M131.7 1689.7h0M176.9 1686.2h0M200.8 1701.3h0M162.7 1679.3h0M190.6 1669.9h0M150.5 1702.8h0M182.8 1684.7h0M183.7 1685.5h0M183.2 1702.9h0M156.3 1696.9h0M193.7 1687.0h0M196.4 1665.4h0M193.5 1699.7h0M226.1 1684.1h0M176.8 1661.3h0M187.1 1652.7h0M206.4 1717.3h0M158.4 1679.4h0M166.5 1689.6h0M204.3 1696.6h0M177.2 1700.6h0M168.7 1645.7h0M192.9 1661.3h0M158.3 1690.0h0M186.5 1681.7h0M164.3 1685.8h0M171.5 1688.5h0M133.9 1665.3h0M187.7 1694.5h0M188.4 1667.4h0M180.4 1716.2h0M171.3 1677.9h0M188.1 1686.3h0M211.4 1696.6h0M200.3 1674.0h0M170.5 1680.4h0M188.4 1690.7h0M179.2 1653.2h0M194.0 1686.1h0M168.9 1687.5h0M211.9 1695.4h0M169.3 1658.4h0M165.3 1661.7h0M190.5 1736.3h0M214.8 1703.8h0M152.6 1675.1h0M185.2 1661.6h0M195.9 1671.5h0M234.7 1685.2h0M156.1 1649.9h0M205.3 1694.4h0M170.5 1680.4h0M178.0 1682.4h0M202.1 1679.7h0M185.2 1703.5h0M158.7 1688.5h0M180.1 1666.6h0M176.9 1659.6h0M187.5 1663.8h0M166.5 1671.5h0M171.1 1688.2h0M177.7 1667.6h0M184.4 1682.9h0M180.7 1679.0h0M191.9 1672.1h0M195.9 1700.6h0M190.0 1669.4h0M171.5 1657.0h0M154.8 1718.3h0M167.1 1689.3h0M170.9 1690.5h0M178.7 1646.6h0M200.5 1679.9h0M181.8 1668.7h0M165.3 1665.8h0M158.4 1699.9h0M180.7 1712.1h0M178.1 1657.3h0M162.9 1653.7h0M152.0 1662.9h0M176.2 1664.1h0M189.9 1698.5h0M186.5 1698.8h0M155.4 1682.5h0M174.3 1667.9h0M178.9 1690.0h0M164.4 1689.5h0M180.8 1671.8h0M170.5 1647.0h0M199.7 1718.0h0M170.2 1687.8h0M212.7 1716.2h0M201.5 1723.3h0M190.0 1657.7h0M187.8 1705.6h0M209.4 1674.7h0M176.6 1657.7h0M191.3 1667.3h0M178.9 1705.0h0M212.2 1674.5h0M178.0 1684.5h0M178.9 1698.8h0M134.4 1690.2h0M188.2 1694.9h0M176.9 1660.2h0M194.2 1683.4h0M156.2 1692.2h0M167.3 1674.0h0M208.0 1674.0h0M169.3 1669.5h0M187.2 1660.7h0M200.6 1699.8h0M185.1 1695.3h0M184.7 1657.7h0M206.2 1698.5h0M173.7 1667.2h0M194.4 1732.5h0M178.7 1683.6h0M162.7 1702.3h0M184.6 1687.9h0M208.5 1674.1h0M180.6 1727.3h0M170.8 1717.4h0M179.9 1684.0h0M174.8 1709.7h0M193.3 1678.3h0M165.1 1681.8h0M200.6 1706.8h0M191.5 1662.8h0M206.7 1667.3h0M175.3 1673.7h0M201.4 1696.2h0M165.3 1695.6h0M195.1 1715.1h0M179.7 1729.7h0M163.0 1691.8h0M198.6 1667.4h0M211.0 1689.2h0M217.2 1670.5h0M192.4 1696.0h0M179.4 1693.7h0M211.5 1693.2h0M166.2 1656.3h0M186.5 1709.2h0M156.3 1698.9h0M186.6 1666.4h0M188.7 1661.5h0M176.3 1669.6h0M203.4 1624.6h0M181.5 1686.0h0M192.8 1682.8h0M194.0 1695.9h0M181.6 1690.2h0M136.1 1643.7h0M176.1 1659.4h0M186.9 1690.5h0M164.9 1653.4h0M184.8 1703.7h0M155.9 1641.9h0M195.4 1691.4h0M195.4 1664.6h0M191.3 1712.1h0M174.7 1679.0h0M189.1 1692.0h0M160.2 1688.0h0M169.0 1685.2h0M191.5 1720.6h0M171.0 1719.8h0M178.9 1652.0h0M183.1 1709.2h0M203.4 1732.9h0M170.9 1673.1h0M173.0 1683.0h0M170.3 1679.4h0M152.5 1693.2h0M186.9 1667.8h0M144.7 1662.5h0M168.1 1687.9h0M207.5 1673.8h0M183.4 1726.6h0M140.9 1688.9h0M164.5 1703.4h0M214.2 1708.7h0M177.8 1661.8h0M217.6 1731.2h0M172.7 1677.8h0M137.5 1714.2h0M188.0 1658.5h0M178.6 1680.2h0M188.2 1663.0h0M163.3 1689.2h0M162.9 1715.7h0M171.9 1629.1h0M163.0 1687.0h0M198.8 1708.5h0M203.7 1658.5h0M178.8 1635.9h0M200.5 1682.4h0M169.9 1693.5h0M177.1 1667.9h0M151.7 1662.8h0M206.3 1661.0h0M172.9 1689.3h0"/>
<path stroke="#00f" stroke-width="6.3" stroke-linecap="round" fill="none" d="M340.6 1595.8h0M359.2 1598.8h0M440.6 1599.4h0M327.2 1606.8h0M333.2 1616.4h0M407.6 1616.4h0M311.2 1622.1h0M313.2 1625.5h0M385.9 1624.8h0M369.6 1627.1h0M264.5 1631.5h0M317.5 1632.1h0M361.6 1637.5h0M405.3 1643.5h0M347.2 1647.1h0M341.2 1653.8h0M370.2 1656.1h0M360.6 1658.1h0M354.6 1659.8h0M341.2 1663.5h0M371.9 1668.8h0M391.3 1668.8h0M392.3 1672.5h0M321.9 1684.5h0M367.2 1685.2h0M412.3 1682.8h0M411.3 1696.2h0M315.9 1708.5h0M341.9 1706.5h0M348.2 1706.2h0M368.9 1708.8h0M351.9 1723.8h0M349.6 1732.2h0M382.3 1736.5h0M320.2 1744.5h0M293.5 1750.5h0M376.9 1752.2h0M365.2 1752.2h0M362.9 1754.9h0M303.2 1762.5h0M320.2 1761.2h0M309.9 1771.5h0M342.6 1768.5h0M366.6 1779.6h0M380.6 1800.6h0M325.9 1806.6h0M329.2 1821.2h0M379.3 1836.6h0M335.6 1524.7h0M379.9 1563.4h0"/>
</g>
<path d="M126.80 1510.3V1851M192.40 1510.3V1851M258.00 1510.3V1851M323.60 1510.3V1851M389.20 1510.3V1851M454.70 1510.3V1851M120.7 1516.70H455M120.7 1572.70H455M120.7 1628.30H455M120.7 1684.30H455M120.7 1740.00H455M120.7 1796.00H455" stroke="#d6d6d6" stroke-width="1.5" fill="none"/>
<rect x="120.7" y="1510.3" width="334.3" height="340.70000000000005" fill="none" stroke="#7a7a7a" stroke-width="1.9"/>
<path d="M126.80 1851v2.6M192.40 1851v2.6M258.00 1851v2.6M323.60 1851v2.6M389.20 1851v2.6M454.70 1851v2.6M120.7 1516.70h-2.6M120.7 1572.70h-2.6M120.7 1628.30h-2.6M120.7 1684.30h-2.6M120.7 1740.00h-2.6M120.7 1796.00h-2.6" stroke="#333" stroke-width="1.6" fill="none"/>
<text transform="scale(1.1458,1)" x="101.97 111.79" y="1867.20" font-size="15.00" fill="#000" stroke="#000" stroke-width="0.08">−5</text>
<text transform="scale(1.0521,1)" x="178.68" y="1867.20" font-size="15.00" fill="#000" stroke="#000" stroke-width="0.08">0</text>
<text transform="scale(1.0000,1)" x="253.84" y="1867.20" font-size="15.00" fill="#000" stroke="#000" stroke-width="0.08">5</text>
<text transform="scale(1.0273,1)" x="305.78 315.11" y="1867.20" font-size="15.00" fill="#000" stroke="#000" stroke-width="0.08">10</text>
<text transform="scale(1.0000,1)" x="380.00 389.55" y="1867.20" font-size="15.00" fill="#000" stroke="#000" stroke-width="0.08">15</text>
<text transform="scale(1.0321,1)" x="431.52 440.92" y="1867.20" font-size="15.00" fill="#000" stroke="#000" stroke-width="0.08">20</text>
<text transform="scale(1.0000,1)" x="96.83 106.38" y="1521.91" font-size="15.00" fill="#000" stroke="#000" stroke-width="0.08">15</text>
<text transform="scale(1.0273,1)" x="93.85 103.18" y="1577.91" font-size="15.00" fill="#000" stroke="#000" stroke-width="0.08">10</text>
<text transform="scale(1.0000,1)" x="106.38" y="1633.51" font-size="15.00" fill="#000" stroke="#000" stroke-width="0.08">5</text>
<text transform="scale(1.0521,1)" x="100.65" y="1689.51" font-size="15.00" fill="#000" stroke="#000" stroke-width="0.08">0</text>
<text transform="scale(1.1458,1)" x="82.49 92.31" y="1745.21" font-size="15.00" fill="#000" stroke="#000" stroke-width="0.08">−5</text>
<text transform="scale(1.1179,1)" x="75.86 85.89 94.48" y="1801.21" font-size="15.00" fill="#000" stroke="#000" stroke-width="0.08">−10</text>
<rect x="249.7" y="1517.7" width="197.60000000000002" height="47.299999999999955" rx="3" fill="#fff" fill-opacity="0.8" stroke="#d5d5d5" stroke-width="1"/>
<circle cx="270" cy="1530" r="2.9" fill="#f00" fill-opacity="1"/>
<text transform="scale(1.0780,1)" x="275.06 283.76 297.00 301.67 310.31 318.90 322.53 330.01" y="1534.60" font-size="14.40" fill="#000" stroke="#000" stroke-width="0.08">1% noise</text>
<circle cx="270" cy="1551.7" r="2.9" fill="#00f" fill-opacity="1"/>
<text transform="scale(1.0775,1)" x="275.69 284.40 297.64 302.31 310.96 319.55 323.18 330.66 339.09 343.66 347.63 356.20 360.17 369.16 373.86 382.57 386.36 394.68 402.81" y="1556.30" font-size="14.40" fill="#000" stroke="#000" stroke-width="0.08">5% noise in a block</text>
<text transform="scale(0.9941,1)" x="193.24 203.52 210.98 224.48 230.31 241.91 253.45 264.99 276.53 287.71 293.71 298.87 312.07 319.53 333.03 338.93 350.46 362.00 373.54" y="1505.50" font-size="19.50" fill="#000" stroke="#000" stroke-width="0.08">L = 10000, R = 3000</text>
<text transform="scale(1.0929,1)" x="184.79 194.17 199.21 203.08 211.42 219.27 223.17 231.15 240.21 243.86 247.56 257.85 266.74 279.82 288.33 296.90 305.50 314.05 323.01 327.91 332.38" y="1884.30" font-size="14.40" fill="#000" stroke="#000" stroke-width="0.08">Principal Component 1</text>
<text transform="translate(77.30,1681.30) rotate(-90) scale(1.0934,1)" x="-78.18 -68.80 -63.76 -59.89 -51.56 -43.71 -39.82 -31.83 -22.79 -19.13 -15.44 -5.15 3.73 16.81 25.32 33.88 42.48 51.02 59.98 64.88 69.25" y="0.00" font-size="14.40" fill="#000" stroke="#000" stroke-width="0.08">Principal Component 2</text>
<text x="2.70" y="1496.90" font-size="55.00" font-weight="bold" textLength="18.52" lengthAdjust="spacingAndGlyphs" fill="#000" stroke="#000" stroke-width="0.6" >j</text>
<clipPath id="c9"><rect x="652.3" y="1510.3" width="338.4000000000001" height="340.70000000000005"/></clipPath>
<g clip-path="url(#c9)">
<path stroke="#f00" stroke-width="6.3" stroke-linecap="round" fill="none" d="M717.4 1629.7h0M741.7 1682.5h0M697.5 1707.6h0M751.3 1639.1h0M762.7 1738.8h0M725.5 1642.8h0M746.1 1633.7h0M741.9 1695.5h0M726.9 1637.6h0M716.0 1617.9h0M688.8 1713.2h0M768.9 1711.3h0M735.0 1651.2h0M794.8 1653.5h0M755.3 1713.8h0M742.5 1804.2h0M720.8 1743.9h0M768.5 1634.8h0M724.3 1702.7h0M772.6 1720.1h0M726.8 1668.5h0M740.4 1752.3h0M700.6 1595.7h0M790.6 1759.3h0M733.9 1690.9h0M727.1 1668.3h0M754.9 1659.0h0M715.3 1726.8h0M753.9 1696.7h0M708.8 1642.6h0M748.8 1678.0h0M711.8 1656.4h0M693.3 1676.9h0M722.2 1675.3h0M702.0 1716.9h0M748.9 1729.5h0M736.6 1693.8h0M747.9 1727.1h0M738.2 1626.8h0M727.8 1654.8h0M736.7 1634.4h0M760.6 1741.6h0M731.8 1734.3h0M718.3 1657.4h0M713.5 1676.7h0M730.9 1674.1h0M718.6 1645.0h0M779.8 1722.7h0M708.6 1733.0h0M710.9 1716.9h0M728.9 1601.3h0M751.2 1685.6h0M729.8 1714.3h0M713.8 1626.8h0M717.3 1648.6h0M727.9 1649.5h0M758.7 1659.3h0M713.3 1692.2h0M733.9 1614.3h0M721.8 1650.9h0M743.6 1730.3h0M745.3 1728.1h0M702.0 1709.1h0M791.6 1650.1h0M740.5 1707.8h0M724.2 1694.1h0M715.3 1701.7h0M730.0 1680.7h0M736.8 1635.2h0M749.9 1700.5h0M736.2 1682.8h0M747.3 1616.0h0M698.6 1743.4h0M718.6 1670.5h0M712.6 1675.3h0M739.9 1685.6h0M746.7 1643.0h0M701.9 1597.0h0M732.2 1682.2h0M753.0 1684.2h0M757.4 1657.3h0M710.1 1728.4h0M749.2 1696.3h0M743.9 1670.2h0M725.9 1673.8h0M781.8 1711.1h0M710.0 1639.4h0M729.6 1726.9h0M746.7 1709.7h0M741.7 1721.8h0M732.1 1667.2h0M768.1 1650.6h0M769.7 1686.4h0M757.3 1637.0h0M759.4 1698.4h0M734.8 1678.6h0M709.0 1673.7h0M787.0 1683.6h0M713.8 1675.3h0M788.0 1722.1h0M733.1 1764.0h0M741.5 1703.7h0M732.1 1697.0h0M758.4 1691.6h0M724.2 1723.1h0M779.0 1731.3h0M748.5 1603.7h0M740.1 1653.0h0M722.8 1669.2h0M742.6 1675.8h0M736.0 1707.2h0M780.3 1687.7h0M757.9 1637.7h0M699.8 1643.1h0M771.7 1704.5h0M680.8 1701.3h0M771.9 1702.8h0M692.2 1709.9h0M736.1 1646.5h0M755.0 1657.0h0M735.9 1669.9h0M710.5 1705.7h0M764.8 1633.1h0M694.6 1681.3h0M702.1 1780.2h0M768.3 1632.8h0M715.9 1673.3h0M741.8 1705.5h0M754.9 1631.1h0M733.6 1774.1h0M742.5 1708.1h0M738.9 1655.8h0M741.1 1710.6h0M763.7 1602.8h0M757.8 1604.9h0M743.6 1671.2h0M757.4 1673.5h0M723.5 1614.7h0M718.3 1657.5h0M712.7 1722.9h0M754.3 1691.9h0M773.9 1716.2h0M738.0 1657.9h0M690.0 1674.9h0M724.2 1626.8h0M747.0 1671.5h0M743.0 1711.6h0M738.2 1725.4h0M759.1 1622.4h0M757.6 1631.6h0M704.9 1714.4h0M746.2 1739.5h0M718.8 1743.3h0M741.5 1642.7h0M765.0 1696.2h0M778.7 1610.6h0M752.4 1697.7h0M724.3 1693.0h0M727.9 1691.2h0M748.5 1657.1h0M713.1 1612.9h0M734.5 1718.1h0M750.1 1650.1h0M757.4 1626.0h0M729.2 1686.8h0M744.7 1695.9h0M767.8 1637.6h0M743.2 1704.2h0M696.1 1691.4h0M741.1 1717.5h0M741.9 1700.7h0M726.3 1669.6h0M737.1 1665.8h0M701.7 1689.0h0M765.1 1676.9h0M745.9 1731.5h0M723.4 1599.2h0M741.6 1723.2h0M739.1 1660.6h0M716.0 1712.1h0M674.0 1681.2h0M669.8 1760.8h0M783.1 1708.8h0M710.0 1730.2h0M729.2 1669.2h0M749.4 1678.2h0M727.6 1718.4h0M763.8 1721.0h0M714.0 1666.3h0M749.2 1701.8h0M687.5 1659.6h0M752.7 1671.4h0M752.1 1701.1h0M744.6 1693.5h0M743.1 1755.4h0M742.3 1683.6h0M756.2 1691.9h0M758.5 1683.7h0M714.1 1625.3h0M760.7 1677.2h0M714.0 1682.0h0M739.9 1682.8h0M730.2 1699.3h0M747.3 1627.0h0M728.3 1683.8h0M745.5 1632.7h0M724.9 1654.7h0M713.7 1711.3h0M760.9 1673.8h0M749.4 1638.5h0M748.0 1696.4h0M758.3 1678.8h0M711.4 1690.6h0M757.4 1689.7h0M711.5 1651.5h0M744.9 1713.9h0M731.9 1694.6h0M742.4 1675.7h0M752.3 1784.7h0M736.6 1694.5h0M714.6 1678.4h0M757.7 1667.2h0M763.5 1707.7h0M752.0 1719.4h0M760.2 1648.4h0M695.0 1709.4h0M737.7 1665.2h0M733.4 1679.3h0M690.6 1711.8h0M738.6 1701.1h0M736.1 1713.4h0M701.0 1643.8h0M716.5 1675.1h0M738.0 1749.9h0M750.1 1610.1h0M752.5 1627.9h0M710.3 1632.7h0M711.0 1718.0h0M724.3 1701.9h0M734.9 1705.1h0M722.7 1625.0h0M731.6 1678.8h0M752.6 1670.8h0M752.0 1691.4h0M739.3 1736.3h0M709.5 1647.1h0M724.6 1594.3h0M749.2 1692.6h0M756.3 1716.8h0M760.8 1708.1h0M711.4 1706.6h0M725.3 1739.5h0M707.9 1702.2h0M667.6 1695.1h0M710.6 1741.0h0M694.8 1665.4h0M768.5 1699.5h0M747.1 1727.2h0M721.1 1680.6h0M737.6 1619.6h0M745.7 1627.2h0M776.8 1637.5h0M754.2 1637.5h0M771.6 1643.1h0M747.4 1652.6h0M766.5 1646.8h0M769.8 1601.9h0M757.9 1695.9h0M736.9 1648.6h0M761.7 1734.2h0M727.0 1654.8h0M769.5 1626.1h0M729.8 1694.0h0M720.4 1613.3h0M780.1 1717.4h0M726.7 1619.6h0M740.0 1690.1h0M711.5 1665.6h0M719.9 1695.3h0M728.3 1655.5h0M713.2 1686.8h0M764.7 1636.4h0M719.4 1679.6h0M707.0 1670.4h0M762.2 1690.3h0M752.7 1663.7h0M682.1 1698.7h0M723.0 1689.8h0M759.4 1734.5h0M718.4 1698.8h0M729.8 1696.1h0M730.7 1686.5h0M683.7 1678.7h0M715.6 1741.1h0M754.2 1649.5h0M770.0 1593.4h0M734.6 1679.5h0M733.9 1757.3h0M749.3 1649.7h0M740.4 1680.5h0M748.3 1688.7h0M716.1 1674.5h0M737.0 1679.9h0M748.3 1688.7h0M750.4 1658.5h0M700.3 1670.2h0M755.6 1692.5h0M739.2 1652.5h0M740.2 1630.6h0M695.3 1629.4h0M737.5 1718.4h0M699.7 1677.2h0M677.8 1655.2h0M738.8 1673.0h0M736.5 1683.9h0M738.0 1633.8h0M740.7 1665.7h0M736.7 1660.8h0M762.3 1737.7h0M755.6 1734.7h0M774.6 1698.5h0M795.7 1671.9h0M754.9 1642.9h0M755.6 1709.5h0M781.2 1617.0h0M716.7 1671.9h0M729.5 1697.2h0M743.1 1647.6h0M700.9 1622.7h0M759.6 1676.1h0M773.9 1677.0h0M707.8 1667.8h0M718.1 1648.4h0M758.0 1687.5h0M768.5 1680.3h0M698.4 1672.4h0M749.5 1684.6h0M731.9 1665.0h0M693.6 1706.5h0M726.7 1755.8h0M723.2 1700.0h0M738.9 1694.4h0M737.2 1606.3h0M729.9 1638.6h0M733.1 1664.9h0M732.6 1699.3h0M748.2 1726.2h0M758.7 1706.4h0M758.5 1661.4h0M715.4 1686.4h0M717.7 1721.4h0M720.5 1673.8h0M769.2 1707.6h0M747.2 1664.1h0M718.2 1607.5h0M709.1 1647.3h0M712.6 1778.4h0M736.7 1637.8h0M710.4 1702.2h0M735.9 1670.8h0M767.4 1668.3h0M730.1 1672.2h0M756.0 1751.1h0M700.6 1632.3h0M744.4 1718.7h0M742.8 1716.9h0M714.6 1672.2h0M768.2 1653.8h0M735.9 1703.8h0M720.0 1743.5h0M729.2 1664.9h0M758.2 1692.7h0M704.1 1648.1h0M739.5 1633.2h0M713.7 1729.7h0M741.3 1730.9h0M723.7 1687.7h0M734.3 1715.0h0M753.8 1615.1h0M737.0 1676.7h0M748.9 1676.2h0M752.3 1671.1h0M745.5 1622.5h0M741.3 1663.7h0M737.1 1648.0h0M750.9 1706.9h0M764.1 1650.7h0M778.9 1695.1h0M777.0 1701.7h0M713.0 1702.6h0M742.9 1633.6h0M747.5 1693.1h0M764.4 1664.7h0M760.8 1676.5h0M702.7 1660.5h0M742.5 1703.5h0M696.2 1732.7h0M725.0 1693.6h0M714.5 1677.0h0M721.8 1714.5h0M772.9 1682.4h0M723.4 1655.1h0M724.4 1759.8h0M738.9 1622.7h0M761.0 1642.1h0M696.4 1669.1h0M773.9 1634.7h0M718.3 1759.5h0M712.9 1673.9h0M739.0 1665.2h0M751.7 1661.2h0M799.0 1662.8h0M756.9 1608.6h0M722.2 1652.9h0M731.2 1704.3h0M713.7 1737.1h0M751.2 1718.1h0M755.2 1695.2h0M728.1 1672.1h0M762.3 1681.0h0M696.6 1670.8h0M724.7 1703.2h0M714.3 1696.5h0M722.1 1665.6h0M697.7 1690.2h0M758.1 1707.4h0M713.6 1699.3h0M732.7 1663.2h0M763.3 1702.1h0M773.2 1693.9h0M763.3 1610.4h0M683.8 1686.6h0M728.7 1674.0h0M727.6 1638.2h0M719.8 1613.9h0M717.5 1654.8h0M722.9 1732.4h0M749.5 1588.1h0M725.0 1717.5h0M704.4 1727.7h0M699.0 1714.1h0M739.1 1625.0h0M695.6 1684.1h0M752.1 1757.0h0M724.2 1608.7h0M724.0 1743.8h0M741.2 1608.8h0M727.4 1782.0h0M752.4 1687.5h0M705.9 1681.4h0M693.5 1705.8h0M781.7 1685.3h0M739.9 1640.3h0M675.7 1674.6h0M775.6 1654.1h0M702.9 1677.5h0M783.9 1674.7h0M778.4 1704.9h0M756.6 1684.6h0M736.1 1646.7h0M715.7 1638.7h0M758.4 1727.9h0M726.7 1706.7h0M761.5 1675.3h0M729.6 1687.2h0M699.2 1714.0h0M719.7 1762.9h0M737.5 1671.2h0M724.6 1709.6h0M739.4 1601.5h0M714.5 1635.9h0M773.9 1665.1h0M723.9 1733.5h0M748.4 1710.6h0M697.1 1638.2h0M755.6 1712.9h0M772.4 1691.7h0M750.4 1664.8h0M730.6 1658.0h0M714.6 1695.9h0M750.5 1661.9h0M749.9 1747.6h0M705.9 1682.2h0M736.8 1686.8h0M749.1 1615.9h0M718.2 1665.4h0M750.6 1770.1h0M730.1 1621.4h0M770.4 1575.0h0M706.7 1659.7h0M748.7 1654.5h0M739.2 1619.1h0M692.6 1682.3h0M714.7 1683.8h0M716.4 1672.2h0M758.2 1804.2h0M728.0 1704.3h0M736.2 1655.7h0M739.9 1658.4h0M796.7 1742.6h0M730.8 1692.2h0M781.6 1704.6h0M732.0 1711.1h0M699.5 1645.8h0M717.3 1717.7h0M707.3 1691.7h0M727.6 1657.6h0M702.1 1719.6h0M714.9 1684.3h0M780.9 1722.7h0M741.9 1684.8h0M744.1 1688.4h0M778.7 1659.1h0M697.7 1702.4h0M749.5 1695.6h0M725.2 1747.8h0M735.5 1709.7h0M720.3 1725.6h0M739.0 1736.0h0M765.1 1699.2h0M764.4 1685.2h0M742.0 1687.4h0M755.4 1641.1h0M708.4 1706.4h0M668.0 1713.8h0M760.6 1769.3h0M783.7 1640.0h0M747.2 1656.5h0M721.9 1658.9h0M737.4 1714.3h0M764.8 1708.1h0M709.0 1706.5h0M738.0 1735.4h0M750.6 1669.3h0M712.3 1688.0h0M785.1 1635.7h0M755.3 1676.5h0M775.0 1692.0h0M711.1 1657.7h0M741.3 1655.6h0M772.0 1726.6h0M746.7 1747.5h0M765.7 1729.9h0M693.0 1647.3h0M734.2 1658.6h0M689.6 1630.5h0M724.5 1680.8h0M743.0 1668.3h0M733.6 1698.9h0M706.8 1605.7h0M743.1 1655.9h0M751.4 1622.0h0M733.9 1663.8h0M755.1 1713.0h0M762.8 1643.7h0M765.1 1742.9h0M728.3 1651.2h0M748.2 1687.7h0M721.3 1667.2h0M734.1 1730.2h0M761.1 1680.0h0M733.6 1707.9h0M725.5 1716.6h0M722.2 1627.7h0M748.1 1662.6h0M773.7 1697.7h0M757.6 1709.0h0M730.9 1697.9h0M754.8 1676.5h0M758.2 1670.2h0M770.2 1679.5h0M720.3 1750.8h0M750.9 1682.4h0M726.7 1673.7h0M723.4 1653.9h0M765.3 1684.3h0M748.8 1689.4h0M737.9 1680.5h0M767.8 1704.2h0M740.0 1601.8h0M715.5 1713.0h0M757.3 1721.3h0M714.5 1672.4h0M715.9 1673.0h0M726.4 1658.1h0M732.4 1690.3h0M757.0 1705.5h0M727.8 1717.8h0M693.7 1683.2h0M722.9 1672.9h0M743.4 1685.3h0M733.3 1731.4h0M733.3 1734.7h0M707.7 1640.2h0M727.0 1682.4h0M749.5 1690.4h0M750.0 1613.2h0M716.7 1647.4h0M719.2 1735.3h0M713.5 1695.3h0M757.8 1645.8h0M718.6 1658.8h0M729.7 1671.2h0M716.9 1621.0h0M714.9 1735.3h0M733.0 1650.6h0M757.0 1702.9h0M722.7 1634.9h0M763.3 1684.4h0M734.8 1745.1h0M752.9 1672.2h0M793.8 1780.5h0M788.9 1638.6h0M742.8 1668.7h0M737.9 1635.1h0M732.6 1669.6h0M752.7 1673.8h0M692.6 1623.9h0M719.7 1649.3h0M732.9 1737.7h0M718.3 1701.2h0M713.0 1622.3h0M766.3 1727.6h0M702.1 1730.9h0M726.0 1714.4h0M722.6 1740.5h0M725.2 1677.3h0M711.7 1690.9h0M753.8 1643.7h0M733.4 1694.4h0M776.6 1620.3h0M704.3 1694.7h0M738.9 1647.7h0M706.3 1636.9h0M741.4 1668.3h0M763.2 1691.0h0M709.5 1735.9h0M759.1 1726.6h0M717.1 1662.1h0M709.4 1699.1h0M743.7 1660.1h0M753.4 1711.1h0M739.2 1683.7h0M743.3 1681.3h0M735.3 1655.2h0M724.2 1697.8h0M686.0 1655.8h0M727.5 1748.7h0M719.7 1734.5h0M748.9 1680.2h0M716.8 1690.2h0M782.9 1665.5h0M750.5 1747.6h0M726.3 1672.9h0M751.4 1750.7h0M730.3 1632.4h0M766.1 1712.5h0M726.3 1701.8h0M769.6 1661.6h0M711.3 1669.2h0M738.6 1705.0h0M734.6 1690.7h0M715.3 1616.8h0M728.7 1720.2h0M736.5 1622.5h0M708.5 1703.9h0M716.3 1729.8h0M747.6 1632.1h0M718.3 1657.0h0M773.1 1677.8h0M773.0 1641.0h0M725.2 1686.9h0M744.5 1698.0h0M748.6 1658.2h0M753.0 1668.1h0M723.7 1705.2h0M753.5 1629.3h0M723.8 1661.3h0M733.9 1614.1h0M765.2 1561.1h0M734.2 1726.4h0M713.7 1654.9h0M722.8 1661.8h0M743.6 1722.5h0M718.4 1656.4h0M713.5 1776.9h0M739.6 1725.2h0M714.1 1647.8h0M785.0 1733.8h0M720.5 1706.2h0M752.2 1683.9h0M702.1 1731.9h0M728.3 1708.2h0M755.2 1668.3h0M748.6 1678.7h0M751.1 1691.8h0M722.7 1631.0h0M740.6 1690.2h0M731.5 1652.2h0M703.3 1678.7h0M762.7 1735.5h0M720.3 1718.5h0M730.7 1661.0h0M756.1 1737.7h0M751.4 1673.9h0M796.6 1656.2h0M734.4 1724.9h0M769.7 1752.9h0M733.7 1638.8h0M736.9 1614.3h0M761.3 1672.6h0M751.7 1614.7h0M724.6 1658.5h0M734.3 1703.0h0M740.5 1675.4h0M775.6 1654.8h0M718.5 1804.2h0M741.6 1671.1h0M750.5 1632.6h0M739.5 1653.2h0M724.5 1695.1h0M755.8 1693.7h0M714.7 1755.5h0M781.5 1649.4h0M675.2 1768.4h0M691.0 1651.6h0M740.1 1666.7h0M751.3 1697.9h0M747.1 1661.9h0M722.6 1644.3h0M732.9 1702.1h0M736.9 1735.2h0M715.8 1646.2h0M727.6 1685.7h0M714.3 1671.8h0M763.4 1724.9h0M746.1 1626.7h0M726.3 1647.1h0M727.7 1735.0h0M725.8 1754.9h0M729.1 1672.4h0M742.7 1689.7h0M728.1 1707.9h0M724.6 1711.2h0M745.3 1686.6h0M732.6 1677.0h0M736.4 1675.5h0M738.2 1615.6h0M732.1 1620.8h0M710.3 1772.0h0M730.7 1647.3h0M764.4 1627.9h0M716.5 1745.7h0M717.2 1707.2h0M726.6 1699.9h0M727.4 1652.1h0M768.6 1666.3h0M729.3 1670.0h0M763.3 1673.9h0M754.9 1644.7h0M753.3 1668.8h0M751.2 1719.6h0M744.6 1719.6h0M748.6 1707.5h0M764.7 1610.1h0M688.9 1666.5h0M744.8 1652.5h0M763.5 1613.7h0M721.1 1665.5h0M735.3 1759.3h0M756.3 1668.7h0M695.4 1704.5h0M743.2 1702.4h0M710.8 1709.2h0M741.6 1687.0h0M744.9 1729.2h0M741.8 1643.0h0M712.6 1655.7h0M736.3 1663.8h0M721.4 1666.3h0M743.3 1722.9h0M727.4 1646.9h0M716.5 1719.9h0M758.0 1745.7h0M707.7 1694.5h0M724.3 1676.0h0M761.4 1673.8h0M744.6 1638.5h0M756.4 1696.1h0M712.9 1632.4h0M740.1 1618.7h0M715.6 1666.4h0M694.8 1720.9h0M749.6 1627.1h0M712.0 1679.1h0M738.6 1673.4h0M713.8 1736.5h0M748.8 1751.9h0M749.4 1617.5h0M712.3 1648.4h0M712.2 1710.1h0M674.0 1697.3h0M724.9 1727.3h0M730.3 1680.4h0M718.7 1760.9h0M752.1 1648.2h0M733.9 1663.9h0M735.9 1636.1h0M721.2 1676.9h0M700.6 1655.5h0M737.1 1663.0h0M755.5 1660.0h0M764.1 1703.6h0M739.9 1637.0h0M706.4 1732.2h0M728.0 1701.9h0M739.4 1683.7h0M710.1 1590.3h0M727.0 1719.6h0M720.7 1669.6h0M716.9 1664.5h0M711.8 1746.4h0M743.0 1585.4h0M748.4 1639.8h0M764.4 1668.8h0M729.6 1689.4h0M737.3 1650.5h0M695.5 1771.4h0M742.4 1617.0h0M767.7 1694.2h0M717.6 1641.2h0M747.4 1721.9h0M723.6 1706.1h0M747.9 1775.5h0M752.7 1693.5h0M702.1 1685.0h0M714.9 1709.9h0M718.4 1620.4h0M731.1 1688.4h0M766.3 1687.5h0M736.8 1720.5h0M739.0 1660.0h0M740.3 1702.3h0M720.7 1687.8h0M761.1 1723.2h0M747.9 1637.2h0M754.2 1628.4h0M741.9 1694.4h0M703.9 1666.7h0M748.4 1707.0h0M721.2 1644.0h0M714.6 1645.5h0M798.7 1709.7h0M757.4 1657.8h0M726.2 1753.1h0M755.3 1686.7h0M761.8 1722.8h0M741.2 1674.1h0M726.7 1673.0h0M758.9 1734.8h0M753.7 1727.2h0M752.1 1702.3h0M696.9 1695.4h0M746.3 1693.1h0M784.1 1678.1h0M710.6 1700.4h0M726.4 1604.7h0M717.4 1665.3h0M724.1 1707.1h0M732.4 1633.6h0M783.2 1656.0h0M728.8 1635.8h0M773.5 1635.8h0M713.7 1723.2h0M750.8 1695.5h0M734.7 1685.2h0M726.1 1740.1h0M742.6 1658.3h0M767.5 1709.8h0M745.4 1654.1h0M751.6 1650.9h0M738.1 1696.4h0M747.6 1754.8h0M745.9 1653.9h0M755.7 1710.9h0M733.5 1656.7h0M722.5 1757.0h0M725.5 1623.7h0M725.0 1672.5h0M749.2 1650.3h0M717.7 1674.2h0M753.5 1624.7h0M742.3 1615.4h0M766.3 1707.6h0M741.6 1693.5h0M761.9 1657.3h0M746.9 1645.1h0M741.1 1761.3h0M729.6 1668.7h0M747.8 1733.2h0M738.9 1629.8h0M722.0 1662.0h0M725.1 1714.2h0M691.2 1711.7h0M763.9 1612.4h0M763.4 1603.7h0M725.4 1679.0h0M706.8 1693.0h0M752.3 1651.1h0M762.7 1714.6h0M735.8 1680.1h0M720.9 1660.4h0M766.3 1659.5h0M757.3 1654.5h0M760.6 1683.2h0M780.8 1686.6h0M735.7 1727.5h0M740.4 1752.7h0M783.7 1660.3h0M756.3 1685.3h0M794.5 1618.9h0M675.5 1655.7h0M700.5 1742.1h0M749.9 1642.6h0M747.0 1710.7h0M709.2 1690.5h0M713.9 1705.7h0M715.1 1757.6h0M750.2 1620.0h0M701.9 1686.7h0M731.5 1665.9h0M716.9 1698.1h0M664.3 1720.1h0M741.0 1706.1h0M777.7 1613.5h0M729.7 1704.2h0M752.2 1727.0h0M735.4 1602.3h0M729.8 1695.3h0M695.3 1711.2h0M730.0 1637.9h0M686.9 1713.5h0M719.5 1666.3h0M737.3 1682.6h0M738.0 1715.9h0M715.1 1732.5h0M730.3 1630.7h0M709.7 1645.4h0M751.9 1604.1h0M707.3 1676.2h0M798.9 1684.2h0M754.2 1669.0h0M733.1 1657.7h0M777.2 1631.2h0M713.8 1755.7h0M764.4 1640.0h0M720.7 1692.5h0M736.8 1668.0h0M722.8 1709.0h0M717.7 1677.3h0M722.0 1610.0h0M740.0 1758.2h0M728.4 1662.0h0M778.7 1678.1h0M737.5 1691.2h0M673.0 1679.9h0M717.8 1661.8h0M728.3 1695.9h0M741.9 1681.3h0M748.6 1686.0h0M703.9 1670.9h0M738.9 1692.9h0M714.0 1684.0h0M735.8 1647.3h0M727.1 1662.6h0M762.8 1626.4h0M757.3 1694.4h0M769.4 1754.9h0M715.3 1682.8h0M721.4 1716.2h0M734.3 1719.5h0M720.2 1671.0h0M718.5 1693.9h0M745.2 1667.1h0M784.8 1615.5h0M741.0 1611.5h0M770.0 1664.0h0M700.0 1653.2h0M780.4 1643.7h0M784.8 1630.9h0M737.7 1732.2h0M721.8 1745.8h0M747.9 1624.2h0M694.6 1712.3h0M740.5 1758.1h0M692.5 1683.8h0M770.7 1720.0h0M732.7 1634.3h0M716.1 1632.4h0M684.6 1666.3h0"/>
<path stroke="#00f" stroke-width="6.3" stroke-linecap="round" fill="none" d="M836.2 1576.4h0M849.9 1593.4h0M868.2 1591.1h0M872.2 1599.4h0M876.6 1606.8h0M919.9 1597.1h0M899.6 1611.4h0M873.9 1622.4h0M818.9 1627.8h0M834.9 1631.5h0M894.9 1632.8h0M902.9 1628.5h0M862.6 1641.8h0M859.2 1646.1h0M833.9 1648.1h0M865.9 1652.1h0M884.6 1651.5h0M920.6 1654.5h0M832.6 1665.8h0M879.6 1664.8h0M886.9 1672.5h0M840.6 1677.8h0M818.5 1681.2h0M843.6 1688.8h0M847.2 1695.5h0M855.6 1700.5h0M872.2 1690.2h0M877.3 1686.5h0M921.3 1696.8h0M835.2 1704.5h0M870.2 1709.5h0M895.9 1720.8h0M897.3 1731.2h0M857.6 1736.9h0M835.6 1744.2h0M842.9 1752.9h0M865.2 1757.9h0M878.6 1755.2h0M877.3 1758.5h0M840.6 1763.9h0M839.2 1766.5h0M847.2 1772.9h0M843.6 1778.2h0M957.6 1770.5h0M895.3 1809.9h0M906.3 1819.9h0M975.7 1836.3h0M821.2 1559.4h0M847.2 1524.0h0"/>
</g>
<path d="M670.70 1510.3V1851M743.30 1510.3V1851M816.00 1510.3V1851M888.70 1510.3V1851M961.70 1510.3V1851M652.3 1550.00H990.7M652.3 1594.30H990.7M652.3 1639.00H990.7M652.3 1683.30H990.7M652.3 1728.00H990.7M652.3 1772.70H990.7M652.3 1817.30H990.7" stroke="#d6d6d6" stroke-width="1.5" fill="none"/>
<rect x="652.3" y="1510.3" width="338.4000000000001" height="340.70000000000005" fill="none" stroke="#7a7a7a" stroke-width="1.9"/>
<path d="M670.70 1851v2.6M743.30 1851v2.6M816.00 1851v2.6M888.70 1851v2.6M961.70 1851v2.6M652.3 1550.00h-2.6M652.3 1594.30h-2.6M652.3 1639.00h-2.6M652.3 1683.30h-2.6M652.3 1728.00h-2.6M652.3 1772.70h-2.6M652.3 1817.30h-2.6" stroke="#333" stroke-width="1.6" fill="none"/>
<text transform="scale(1.1458,1)" x="576.64 586.46" y="1867.20" font-size="15.00" fill="#000" stroke="#000" stroke-width="0.08">−5</text>
<text transform="scale(1.0521,1)" x="702.30" y="1867.20" font-size="15.00" fill="#000" stroke="#000" stroke-width="0.08">0</text>
<text transform="scale(1.0000,1)" x="811.84" y="1867.20" font-size="15.00" fill="#000" stroke="#000" stroke-width="0.08">5</text>
<text transform="scale(1.0273,1)" x="855.85 865.18" y="1867.20" font-size="15.00" fill="#000" stroke="#000" stroke-width="0.08">10</text>
<text transform="scale(1.0000,1)" x="952.50 962.05" y="1867.20" font-size="15.00" fill="#000" stroke="#000" stroke-width="0.08">15</text>
<text transform="scale(1.0244,1)" x="608.75 617.86 622.69" y="1555.21" font-size="15.00" fill="#000" stroke="#000" stroke-width="0.08">7.5</text>
<text transform="scale(1.0333,1)" x="603.12 612.21 617.01" y="1599.51" font-size="15.00" fill="#000" stroke="#000" stroke-width="0.08">5.0</text>
<text transform="scale(1.0146,1)" x="614.50 623.82 628.71" y="1644.21" font-size="15.00" fill="#000" stroke="#000" stroke-width="0.08">2.5</text>
<text transform="scale(1.0569,1)" x="589.63 598.53 603.17" y="1688.51" font-size="15.00" fill="#000" stroke="#000" stroke-width="0.08">0.0</text>
<text transform="scale(1.1026,1)" x="555.02 565.11 573.86 578.20" y="1733.21" font-size="15.00" fill="#000" stroke="#000" stroke-width="0.08">−2.5</text>
<text transform="scale(1.1140,1)" x="549.05 559.14 567.72 572.02" y="1777.91" font-size="15.00" fill="#000" stroke="#000" stroke-width="0.08">−5.0</text>
<text transform="scale(1.1093,1)" x="551.68 561.85 570.43 574.72" y="1822.51" font-size="15.00" fill="#000" stroke="#000" stroke-width="0.08">−7.5</text>
<rect x="785" y="1517.7" width="197.70000000000005" height="47.299999999999955" rx="3" fill="#fff" fill-opacity="0.8" stroke="#d5d5d5" stroke-width="1"/>
<circle cx="805.7" cy="1530" r="2.9" fill="#f00" fill-opacity="1"/>
<text transform="scale(1.0795,1)" x="770.98 779.77 792.99 797.65 806.28 814.87 818.49 825.96" y="1534.60" font-size="14.40" fill="#000" stroke="#000" stroke-width="0.08">2% noise</text>
<circle cx="805.7" cy="1551.7" r="2.9" fill="#00f" fill-opacity="1"/>
<text transform="scale(1.0775,1)" x="772.49 781.20 794.43 799.11 807.76 816.35 819.98 827.46 835.89 840.46 844.42 853.00 856.97 865.96 870.66 879.37 883.16 891.48 899.61" y="1556.30" font-size="14.40" fill="#000" stroke="#000" stroke-width="0.08">5% noise in a block</text>
<text transform="scale(0.9919,1)" x="731.99 742.28 749.74 763.24 769.06 780.67 792.20 803.74 815.28 826.47 832.46 837.63 850.83 858.29 871.79 877.68 889.22 900.76 912.29" y="1505.50" font-size="19.50" fill="#000" stroke="#000" stroke-width="0.08">L = 10000, R = 3000</text>
<text transform="scale(1.0929,1)" x="673.14 682.52 687.56 691.43 699.77 707.62 711.52 719.50 728.56 732.21 735.91 746.20 755.09 768.17 776.68 785.25 793.85 802.40 811.36 816.26 820.73" y="1884.30" font-size="14.40" fill="#000" stroke="#000" stroke-width="0.08">Principal Component 1</text>
<text transform="translate(604.20,1681.30) rotate(-90) scale(1.0934,1)" x="-78.18 -68.80 -63.76 -59.89 -51.56 -43.71 -39.82 -31.83 -22.79 -19.13 -15.44 -5.15 3.73 16.81 25.32 33.88 42.48 51.02 59.98 64.88 69.25" y="0.00" font-size="14.40" fill="#000" stroke="#000" stroke-width="0.08">Principal Component 2</text>
<text x="540.35" y="1497.30" font-size="55.00" font-weight="bold" textLength="31.42" lengthAdjust="spacingAndGlyphs" fill="#000" stroke="#000" stroke-width="0.6" >k</text>
<clipPath id="c10"><rect x="1155.1" y="1510.3" width="338.60000000000014" height="340.79999999999995"/></clipPath>
<g clip-path="url(#c10)">
<path stroke="#f00" stroke-width="6.3" stroke-linecap="round" fill="none" d="M1230.2 1724.0h0M1242.8 1660.1h0M1240.9 1700.3h0M1275.8 1686.9h0M1258.6 1650.1h0M1271.1 1728.3h0M1294.9 1707.8h0M1295.4 1715.6h0M1282.7 1717.6h0M1251.9 1717.3h0M1241.8 1702.8h0M1239.8 1638.3h0M1255.5 1698.2h0M1265.2 1730.7h0M1234.6 1697.2h0M1229.2 1718.3h0M1277.1 1688.4h0M1205.3 1694.0h0M1261.0 1722.2h0M1281.1 1703.6h0M1234.1 1669.1h0M1229.9 1640.1h0M1241.6 1695.1h0M1288.5 1638.3h0M1262.6 1650.5h0M1204.7 1743.2h0M1252.8 1711.5h0M1300.6 1813.0h0M1299.6 1734.2h0M1287.9 1702.0h0M1259.0 1726.7h0M1205.6 1690.8h0M1272.6 1707.2h0M1261.1 1679.7h0M1269.5 1712.3h0M1318.2 1676.3h0M1273.0 1687.9h0M1276.1 1683.1h0M1287.0 1656.1h0M1258.4 1722.0h0M1244.8 1621.6h0M1242.4 1690.5h0M1292.4 1676.8h0M1283.7 1696.8h0M1250.6 1705.4h0M1305.2 1741.6h0M1273.0 1707.3h0M1222.3 1745.0h0M1287.1 1739.4h0M1262.3 1630.8h0M1222.7 1689.9h0M1284.1 1701.1h0M1255.4 1729.6h0M1253.9 1691.6h0M1286.5 1690.7h0M1194.0 1667.0h0M1224.4 1696.9h0M1252.8 1684.8h0M1275.2 1644.1h0M1244.8 1671.0h0M1233.8 1650.0h0M1231.9 1754.9h0M1263.0 1702.5h0M1289.4 1645.0h0M1218.7 1684.9h0M1197.7 1635.2h0M1257.0 1702.0h0M1254.2 1645.6h0M1236.7 1763.2h0M1287.3 1720.4h0M1293.7 1684.1h0M1248.2 1736.9h0M1255.5 1770.7h0M1285.9 1659.1h0M1252.6 1622.0h0M1220.3 1679.4h0M1264.7 1743.4h0M1236.8 1693.1h0M1277.7 1744.2h0M1250.1 1773.6h0M1260.6 1670.0h0M1284.2 1670.9h0M1262.8 1688.5h0M1245.8 1743.7h0M1233.4 1792.7h0M1324.1 1670.1h0M1303.7 1696.1h0M1216.9 1652.9h0M1231.9 1756.7h0M1286.3 1787.5h0M1247.3 1657.2h0M1267.4 1633.1h0M1294.0 1652.4h0M1271.2 1669.0h0M1262.6 1687.9h0M1251.2 1668.9h0M1264.0 1718.3h0M1279.8 1609.5h0M1324.6 1631.2h0M1302.3 1764.7h0M1260.3 1645.9h0M1297.4 1786.5h0M1270.8 1683.0h0M1217.7 1708.8h0M1263.4 1635.9h0M1300.0 1690.5h0M1247.1 1703.9h0M1298.0 1646.5h0M1256.7 1726.1h0M1267.8 1726.9h0M1227.3 1640.2h0M1335.7 1675.8h0M1282.0 1689.1h0M1300.4 1718.9h0M1251.9 1700.1h0M1218.3 1709.9h0M1307.2 1681.9h0M1243.2 1687.5h0M1321.8 1699.7h0M1261.2 1696.5h0M1320.9 1635.4h0M1242.7 1668.4h0M1208.3 1678.3h0M1290.1 1698.3h0M1264.6 1682.4h0M1266.8 1695.3h0M1301.8 1685.5h0M1237.6 1677.0h0M1223.9 1720.1h0M1228.1 1721.6h0M1211.0 1790.7h0M1206.8 1740.8h0M1224.2 1692.3h0M1234.5 1615.2h0M1251.7 1612.8h0M1226.5 1704.7h0M1261.9 1813.0h0M1291.2 1684.7h0M1258.5 1680.6h0M1279.5 1638.3h0M1235.1 1726.5h0M1274.8 1706.6h0M1280.4 1705.5h0M1243.0 1694.4h0M1213.2 1744.0h0M1257.5 1680.0h0M1263.0 1722.3h0M1310.2 1690.2h0M1248.9 1698.6h0M1316.3 1784.2h0M1182.4 1686.7h0M1251.4 1743.7h0M1245.1 1737.3h0M1248.5 1734.6h0M1243.4 1750.8h0M1259.2 1706.1h0M1314.8 1803.0h0M1255.6 1724.4h0M1299.8 1692.7h0M1257.4 1682.9h0M1264.1 1654.7h0M1182.3 1652.5h0M1263.3 1655.7h0M1280.3 1702.8h0M1223.0 1727.0h0M1240.3 1763.9h0M1232.3 1718.6h0M1329.9 1692.6h0M1228.0 1710.7h0M1236.5 1732.6h0M1171.1 1659.9h0M1208.3 1621.6h0M1266.9 1705.6h0M1218.1 1642.0h0M1169.3 1671.7h0M1250.4 1732.3h0M1263.2 1689.1h0M1268.6 1718.2h0M1271.9 1645.6h0M1239.8 1645.3h0M1351.7 1674.0h0M1241.5 1705.2h0M1274.2 1672.9h0M1218.1 1678.5h0M1239.4 1643.7h0M1209.6 1646.5h0M1266.8 1661.2h0M1246.7 1741.0h0M1226.9 1666.4h0M1194.0 1650.4h0M1277.9 1707.0h0M1286.7 1729.3h0M1287.3 1662.8h0M1257.1 1740.6h0M1282.8 1714.1h0M1290.1 1705.5h0M1277.0 1732.3h0M1307.5 1769.9h0M1255.2 1624.4h0M1267.5 1707.3h0M1210.9 1748.7h0M1329.7 1623.5h0M1236.5 1686.2h0M1272.0 1637.3h0M1282.2 1630.5h0M1235.0 1727.8h0M1260.4 1663.2h0M1284.6 1661.4h0M1259.0 1726.4h0M1252.2 1729.6h0M1251.9 1648.0h0M1239.1 1683.7h0M1256.9 1734.2h0M1274.6 1723.3h0M1277.6 1692.2h0M1298.7 1719.9h0M1264.6 1616.0h0M1246.1 1604.2h0M1290.7 1656.9h0M1274.6 1709.1h0M1296.2 1734.5h0M1269.5 1711.8h0M1281.0 1594.8h0M1276.4 1632.4h0M1287.6 1720.5h0M1231.6 1701.8h0M1260.2 1644.7h0M1269.6 1700.5h0M1320.1 1701.8h0M1261.4 1665.1h0M1278.9 1651.5h0M1257.9 1683.0h0M1195.9 1596.3h0M1304.8 1680.2h0M1286.1 1696.5h0M1304.9 1757.5h0M1219.1 1728.6h0M1273.1 1690.6h0M1269.6 1694.9h0M1212.3 1741.3h0M1279.2 1577.3h0M1243.9 1665.4h0M1280.0 1674.5h0M1209.2 1693.7h0M1234.9 1694.8h0M1240.5 1768.4h0M1213.7 1685.8h0M1265.7 1729.6h0M1306.9 1741.4h0M1263.2 1623.7h0M1284.6 1687.0h0M1312.3 1674.9h0M1282.1 1693.2h0M1251.7 1707.4h0M1200.8 1736.6h0M1275.5 1658.4h0M1253.2 1728.5h0M1248.9 1736.3h0M1287.9 1736.5h0M1282.0 1674.1h0M1212.4 1669.6h0M1272.0 1662.0h0M1253.4 1694.4h0M1292.2 1695.4h0M1263.4 1637.7h0M1294.6 1746.8h0M1242.3 1663.2h0M1251.0 1682.8h0M1246.3 1709.3h0M1258.1 1724.1h0M1256.2 1751.2h0M1303.3 1749.2h0M1231.8 1736.4h0M1266.9 1704.2h0M1225.7 1609.4h0M1216.6 1716.4h0M1244.5 1697.5h0M1214.5 1708.0h0M1269.9 1747.0h0M1240.0 1727.7h0M1246.6 1631.5h0M1279.0 1689.8h0M1315.4 1749.7h0M1246.7 1772.2h0M1199.7 1637.3h0M1251.1 1703.2h0M1264.0 1744.1h0M1301.7 1660.7h0M1262.9 1700.3h0M1235.3 1716.2h0M1294.9 1693.0h0M1300.3 1636.3h0M1258.4 1728.0h0M1274.3 1659.9h0M1276.7 1685.8h0M1350.1 1712.0h0M1245.2 1629.4h0M1251.5 1704.2h0M1261.9 1684.1h0M1289.0 1709.6h0M1255.5 1742.3h0M1282.3 1677.9h0M1295.1 1732.7h0M1330.6 1621.3h0M1260.4 1629.5h0M1255.3 1713.0h0M1254.7 1713.9h0M1204.5 1723.6h0M1226.8 1623.0h0M1270.7 1737.7h0M1270.7 1734.9h0M1351.0 1728.6h0M1306.6 1726.0h0M1291.2 1633.0h0M1314.2 1705.7h0M1244.4 1683.5h0M1247.1 1698.1h0M1241.1 1697.4h0M1260.5 1612.5h0M1336.8 1619.9h0M1257.1 1670.0h0M1244.6 1716.5h0M1267.2 1599.4h0M1293.5 1686.5h0M1281.7 1727.0h0M1294.2 1723.2h0M1226.3 1688.9h0M1237.5 1663.0h0M1258.5 1801.0h0M1269.2 1675.9h0M1311.2 1693.6h0M1224.4 1670.0h0M1287.5 1725.4h0M1258.7 1652.1h0M1286.5 1709.7h0M1244.7 1646.5h0M1220.3 1598.8h0M1305.4 1680.7h0M1276.0 1676.5h0M1202.3 1678.5h0M1289.4 1757.5h0M1233.2 1672.5h0M1262.9 1750.1h0M1265.8 1790.9h0M1221.8 1693.1h0M1302.9 1664.7h0M1249.0 1724.6h0M1320.1 1756.8h0M1282.3 1638.0h0M1283.3 1754.7h0M1275.2 1649.5h0M1331.5 1703.1h0M1232.5 1736.0h0M1240.6 1680.5h0M1244.5 1789.6h0M1304.4 1721.5h0M1301.2 1693.5h0M1269.3 1695.9h0M1275.3 1639.2h0M1212.0 1734.2h0M1315.6 1671.5h0M1259.2 1700.0h0M1270.5 1663.2h0M1256.5 1677.4h0M1288.2 1648.0h0M1259.4 1697.4h0M1270.6 1636.8h0M1269.6 1691.8h0M1249.8 1721.1h0M1246.4 1690.1h0M1279.7 1686.2h0M1279.4 1631.7h0M1291.1 1737.4h0M1314.8 1690.7h0M1225.8 1741.2h0M1205.7 1654.9h0M1253.3 1656.8h0M1309.0 1666.1h0M1265.3 1747.2h0M1206.4 1734.0h0M1319.6 1695.1h0M1283.4 1676.7h0M1217.2 1663.2h0M1239.2 1710.0h0M1270.1 1685.6h0M1248.4 1705.8h0M1262.3 1710.8h0M1284.0 1704.7h0M1267.0 1734.1h0M1313.0 1653.8h0M1260.5 1636.3h0M1316.3 1668.0h0M1247.4 1708.9h0M1228.1 1633.3h0M1197.3 1729.0h0M1238.0 1646.2h0M1269.9 1653.1h0M1298.6 1643.3h0M1163.8 1759.5h0M1265.4 1677.4h0M1234.5 1710.9h0M1290.2 1660.2h0M1249.7 1683.7h0M1276.7 1774.2h0M1326.6 1665.2h0M1270.4 1619.5h0M1261.1 1671.7h0M1299.3 1660.3h0M1276.4 1683.4h0M1260.0 1669.2h0M1213.5 1710.4h0M1254.9 1624.2h0M1211.4 1597.6h0M1273.3 1716.9h0M1285.6 1669.0h0M1268.6 1703.3h0M1327.6 1623.7h0M1228.7 1677.8h0M1280.0 1653.5h0M1267.8 1694.2h0M1227.4 1643.2h0M1283.0 1655.5h0M1293.9 1672.2h0M1303.6 1663.8h0M1260.9 1743.1h0M1287.5 1652.3h0M1244.6 1725.8h0M1315.7 1708.6h0M1325.9 1684.7h0M1271.8 1657.5h0M1274.2 1651.7h0M1231.5 1675.4h0M1267.5 1677.0h0M1254.6 1658.7h0M1274.4 1718.8h0M1220.3 1685.3h0M1325.5 1713.1h0M1273.2 1754.6h0M1302.8 1732.7h0M1283.3 1644.6h0M1257.5 1711.3h0M1330.6 1753.1h0M1304.0 1687.1h0M1218.0 1712.6h0M1266.4 1707.5h0M1259.4 1702.1h0M1240.6 1678.2h0M1338.6 1681.4h0M1226.8 1695.3h0M1317.5 1681.8h0M1210.3 1693.2h0M1312.5 1675.5h0M1249.7 1661.3h0M1192.9 1691.7h0M1276.2 1611.7h0M1283.2 1727.4h0M1237.2 1708.0h0M1303.1 1695.6h0M1211.6 1635.9h0M1304.7 1648.1h0M1286.9 1672.0h0M1326.7 1717.4h0M1254.3 1668.7h0M1296.6 1687.4h0M1248.2 1697.3h0M1294.8 1637.8h0M1275.8 1625.9h0M1294.2 1672.1h0M1225.2 1709.3h0M1283.9 1675.1h0M1279.9 1723.3h0M1317.5 1743.9h0M1256.5 1758.1h0M1261.7 1698.4h0M1289.1 1701.3h0M1285.2 1719.7h0M1184.3 1711.1h0M1258.4 1703.9h0M1296.1 1733.4h0M1255.9 1677.9h0M1206.2 1630.5h0M1256.0 1701.1h0M1266.6 1758.7h0M1235.5 1694.9h0M1270.0 1684.6h0M1230.9 1668.2h0M1260.7 1650.6h0M1269.8 1660.4h0M1325.8 1649.7h0M1278.7 1692.9h0M1309.1 1676.3h0M1274.2 1717.4h0M1229.4 1709.0h0M1228.7 1660.2h0M1293.1 1699.3h0M1214.0 1747.4h0M1214.1 1766.1h0M1296.8 1663.5h0M1239.9 1705.7h0M1228.8 1712.5h0M1321.4 1722.8h0M1237.9 1676.2h0M1286.9 1695.4h0M1265.6 1702.1h0M1271.1 1703.5h0M1268.2 1698.7h0M1300.0 1657.1h0M1315.7 1684.6h0M1235.8 1641.4h0M1317.1 1765.5h0M1259.5 1719.8h0M1261.0 1660.3h0M1289.3 1720.1h0M1248.7 1699.1h0M1236.1 1705.9h0M1316.7 1687.8h0M1247.5 1679.7h0M1196.6 1616.1h0M1163.8 1653.4h0M1277.2 1684.8h0M1261.6 1671.1h0M1323.7 1671.1h0M1227.9 1691.9h0M1226.4 1714.8h0M1267.7 1674.1h0M1310.7 1665.5h0M1313.2 1717.5h0M1267.8 1695.7h0M1245.4 1674.9h0M1271.2 1676.2h0M1317.0 1625.7h0M1264.2 1700.2h0M1252.0 1717.9h0M1281.6 1672.6h0M1273.5 1729.7h0M1270.6 1699.6h0M1335.6 1763.6h0M1289.1 1674.5h0M1270.9 1602.8h0M1255.6 1707.3h0M1258.3 1704.8h0M1284.0 1669.1h0M1291.2 1653.5h0M1246.4 1753.4h0M1250.0 1700.9h0M1258.3 1687.4h0M1236.4 1690.7h0M1303.5 1681.1h0M1237.6 1698.4h0M1272.4 1701.5h0M1299.9 1734.6h0M1234.9 1627.1h0M1239.2 1691.2h0M1262.7 1648.3h0M1284.0 1694.5h0M1273.5 1687.4h0M1269.1 1697.3h0M1308.7 1669.3h0M1248.5 1689.9h0M1245.0 1750.6h0M1288.9 1590.9h0M1271.3 1683.4h0M1298.7 1718.5h0M1303.2 1748.9h0M1231.3 1722.1h0M1198.5 1700.6h0M1285.8 1726.9h0M1266.0 1668.8h0M1276.8 1748.9h0M1237.7 1686.8h0M1293.9 1681.8h0M1260.0 1730.4h0M1285.7 1732.6h0M1297.6 1723.8h0M1271.1 1687.1h0M1264.6 1705.7h0M1244.7 1706.9h0M1356.4 1681.5h0M1222.4 1648.4h0M1290.8 1715.3h0M1217.8 1736.7h0M1240.3 1697.3h0M1314.0 1696.2h0M1243.3 1644.2h0M1302.5 1657.2h0M1254.8 1684.0h0M1296.5 1716.7h0M1220.7 1638.8h0M1229.9 1710.1h0M1315.5 1668.9h0M1278.3 1666.3h0M1233.0 1650.4h0M1251.2 1709.8h0M1175.1 1623.0h0M1256.3 1644.4h0M1222.9 1693.0h0M1234.7 1690.2h0M1316.4 1754.3h0M1248.6 1671.3h0M1245.9 1661.3h0M1229.7 1716.6h0M1288.6 1683.6h0M1284.7 1725.2h0M1238.5 1587.3h0M1211.4 1707.2h0M1259.2 1682.1h0M1270.4 1665.9h0M1200.4 1699.6h0M1304.0 1670.0h0M1235.8 1651.3h0M1269.3 1609.4h0M1240.1 1643.1h0M1240.6 1599.7h0M1296.6 1729.0h0M1269.0 1714.8h0M1215.6 1729.0h0M1277.2 1687.0h0M1293.2 1705.5h0M1260.2 1704.1h0M1301.5 1684.6h0M1235.2 1676.5h0M1297.3 1720.9h0M1273.1 1682.4h0M1271.3 1688.6h0M1311.3 1694.8h0M1289.0 1640.5h0M1255.4 1755.4h0M1282.6 1707.0h0M1243.5 1709.4h0M1282.7 1705.8h0M1309.4 1706.8h0M1306.1 1717.8h0M1242.5 1711.6h0M1258.0 1668.2h0M1287.2 1670.6h0M1285.3 1738.2h0M1241.1 1760.1h0M1273.0 1714.5h0M1278.7 1756.3h0M1316.4 1682.7h0M1273.6 1680.6h0M1263.2 1762.7h0M1230.0 1670.7h0M1220.3 1695.6h0M1296.4 1732.4h0M1268.1 1650.1h0M1250.9 1604.9h0M1298.1 1693.1h0M1281.8 1678.8h0M1262.3 1727.2h0M1289.6 1670.6h0M1252.3 1703.0h0M1289.7 1663.1h0M1278.6 1693.6h0M1251.7 1674.5h0M1253.0 1706.2h0M1241.6 1741.1h0M1295.7 1671.9h0M1261.6 1619.7h0M1232.2 1777.2h0M1289.9 1675.9h0M1282.0 1724.7h0M1266.4 1740.6h0M1273.1 1678.6h0M1253.8 1691.8h0M1246.5 1681.3h0M1294.3 1673.3h0M1228.6 1759.0h0M1215.0 1630.1h0M1221.6 1635.3h0M1294.2 1711.6h0M1230.2 1689.2h0M1256.3 1735.1h0M1241.5 1679.8h0M1231.6 1685.9h0M1259.7 1680.3h0M1261.1 1698.0h0M1329.9 1668.2h0M1254.1 1686.3h0M1273.8 1696.5h0M1332.1 1678.9h0M1312.4 1666.1h0M1286.2 1663.2h0M1295.6 1673.5h0M1264.9 1637.0h0M1293.5 1702.5h0M1275.1 1639.4h0M1239.0 1705.2h0M1323.5 1702.8h0M1266.1 1702.3h0M1285.3 1653.8h0M1249.6 1705.3h0M1226.4 1727.2h0M1208.1 1672.4h0M1163.8 1718.7h0M1286.2 1698.1h0M1208.5 1690.9h0M1248.5 1687.0h0M1266.0 1650.9h0M1216.8 1695.6h0M1248.8 1740.3h0M1278.3 1660.3h0M1257.9 1719.8h0M1284.8 1733.8h0M1178.0 1706.4h0M1285.3 1662.8h0M1294.1 1743.0h0M1221.4 1720.9h0M1291.2 1653.2h0M1252.8 1625.2h0M1257.6 1689.7h0M1284.2 1658.1h0M1216.7 1681.7h0M1293.1 1691.4h0M1241.9 1728.4h0M1291.7 1685.5h0M1263.4 1710.8h0M1275.0 1700.0h0M1238.6 1686.9h0M1264.6 1678.8h0M1227.4 1724.8h0M1243.1 1710.4h0M1219.3 1664.6h0M1263.5 1629.1h0M1232.8 1687.5h0M1343.3 1661.5h0M1236.5 1661.2h0M1193.9 1708.4h0M1302.4 1661.6h0M1253.3 1717.0h0M1281.8 1741.1h0M1267.4 1710.9h0M1239.4 1674.6h0M1245.7 1720.3h0M1229.6 1658.4h0M1312.3 1716.2h0M1287.1 1668.0h0M1221.8 1697.2h0M1297.7 1638.8h0M1284.6 1702.8h0M1211.3 1694.1h0M1238.0 1694.9h0M1278.4 1728.7h0M1274.4 1673.8h0M1333.0 1723.3h0M1264.9 1722.4h0M1296.4 1704.1h0M1248.9 1704.8h0M1261.2 1637.4h0M1265.1 1707.9h0M1262.9 1639.3h0M1271.6 1774.4h0M1267.6 1665.1h0M1210.8 1697.6h0M1287.9 1622.5h0M1227.1 1732.8h0M1292.0 1693.1h0M1286.2 1688.9h0M1287.8 1783.5h0M1245.2 1697.9h0M1274.5 1588.0h0M1288.9 1690.5h0M1247.4 1662.4h0M1216.1 1698.4h0M1322.2 1637.7h0M1257.3 1721.0h0M1248.8 1731.0h0M1232.1 1663.2h0M1224.3 1739.4h0M1176.3 1690.7h0M1229.5 1767.5h0M1229.3 1669.2h0M1236.3 1711.2h0M1329.7 1690.3h0M1261.6 1688.9h0M1252.5 1682.9h0M1268.2 1709.9h0M1240.0 1715.7h0M1309.0 1663.2h0M1307.1 1650.3h0M1241.1 1751.1h0M1299.2 1720.7h0M1291.6 1710.1h0M1354.5 1719.0h0M1308.4 1657.8h0M1220.4 1695.7h0M1253.4 1706.0h0M1293.8 1680.7h0M1286.1 1643.7h0M1308.6 1770.6h0M1262.4 1674.4h0M1275.6 1701.5h0M1315.9 1708.1h0M1287.0 1696.9h0M1266.2 1769.2h0M1346.6 1697.1h0M1264.7 1681.1h0M1272.9 1709.0h0M1238.9 1741.5h0M1276.4 1720.8h0M1210.1 1665.1h0M1318.6 1631.7h0M1193.9 1692.9h0M1296.4 1667.1h0M1239.1 1646.0h0M1279.1 1680.7h0M1317.4 1726.6h0M1267.3 1680.8h0M1283.7 1628.2h0M1245.7 1716.0h0M1256.7 1709.1h0M1307.5 1737.2h0M1242.5 1687.4h0M1296.1 1728.4h0M1273.3 1661.9h0M1253.6 1660.0h0M1298.8 1713.5h0M1235.4 1704.9h0M1277.9 1691.2h0M1222.9 1733.1h0M1258.4 1714.1h0M1224.1 1624.5h0M1272.8 1691.9h0M1296.6 1812.7h0M1300.2 1642.3h0M1281.2 1691.5h0M1274.5 1693.0h0M1251.6 1638.5h0M1254.1 1641.9h0M1235.1 1649.0h0M1334.9 1642.0h0M1263.5 1758.0h0M1261.8 1659.3h0M1271.0 1717.8h0M1239.1 1698.0h0M1320.7 1653.9h0M1251.3 1655.9h0M1233.7 1680.4h0M1325.5 1714.3h0M1306.2 1650.9h0M1288.6 1706.7h0M1250.8 1685.9h0M1314.6 1683.7h0M1266.8 1676.6h0M1275.3 1730.4h0M1304.6 1666.9h0M1272.1 1674.5h0M1251.1 1713.6h0M1194.6 1678.3h0M1303.9 1645.8h0M1191.0 1739.4h0M1239.8 1699.5h0M1234.5 1725.7h0M1245.8 1712.4h0M1249.8 1662.5h0M1278.5 1705.8h0M1251.7 1719.8h0M1169.4 1651.9h0M1261.3 1673.9h0M1221.8 1661.8h0M1247.4 1606.0h0M1218.4 1703.3h0M1256.5 1758.8h0M1251.4 1614.2h0M1287.1 1692.6h0M1275.5 1684.6h0M1292.7 1661.5h0M1212.5 1670.2h0M1306.9 1738.4h0M1244.3 1729.4h0M1275.7 1731.2h0M1283.8 1718.8h0M1286.9 1690.2h0M1257.6 1670.2h0M1215.8 1668.3h0M1289.7 1729.3h0M1305.0 1694.9h0M1302.7 1719.4h0M1301.7 1709.9h0M1317.7 1665.9h0M1295.0 1687.2h0M1251.2 1728.0h0M1289.1 1674.1h0M1228.3 1675.4h0M1262.8 1676.8h0M1268.3 1692.9h0M1301.2 1689.5h0M1254.5 1654.4h0M1257.2 1702.4h0M1246.7 1676.0h0M1280.4 1715.4h0M1207.4 1663.2h0M1189.7 1638.1h0M1319.4 1695.5h0M1304.6 1682.6h0M1285.8 1681.3h0M1276.2 1696.5h0M1244.2 1631.4h0M1214.2 1684.4h0M1278.0 1737.2h0M1226.9 1653.5h0M1295.0 1711.4h0M1272.3 1655.6h0M1217.5 1770.2h0M1272.3 1649.4h0M1206.0 1728.6h0M1240.1 1704.3h0M1295.2 1683.0h0M1240.6 1671.5h0M1254.3 1732.3h0M1242.7 1668.6h0M1246.7 1662.7h0M1296.2 1692.5h0M1279.6 1689.7h0M1281.4 1647.6h0M1214.5 1711.7h0M1257.0 1669.5h0M1240.8 1683.5h0M1270.5 1693.3h0M1232.9 1716.6h0M1298.5 1733.5h0M1355.1 1672.7h0M1271.8 1667.4h0M1248.8 1660.8h0M1293.5 1696.8h0M1214.0 1682.1h0M1250.1 1686.8h0M1296.2 1676.5h0M1255.5 1696.4h0M1266.8 1643.4h0M1313.0 1707.7h0M1275.5 1737.9h0M1286.9 1694.1h0M1236.5 1703.3h0M1338.2 1615.8h0M1256.1 1712.8h0M1283.5 1728.6h0M1271.2 1646.5h0M1267.1 1621.5h0M1228.0 1610.7h0M1260.1 1715.1h0M1272.4 1721.0h0M1314.7 1587.6h0M1274.7 1698.8h0M1255.1 1736.5h0M1276.1 1665.9h0M1275.1 1775.9h0M1266.3 1765.7h0M1278.1 1704.6h0M1323.0 1672.4h0M1269.8 1695.5h0M1227.6 1680.5h0M1252.1 1651.2h0M1260.0 1629.4h0M1246.0 1722.8h0M1274.8 1719.7h0M1300.7 1681.3h0M1205.4 1709.7h0M1233.6 1722.4h0M1254.1 1699.9h0M1290.6 1733.2h0M1210.6 1686.4h0M1302.2 1662.4h0M1319.2 1698.0h0M1308.6 1713.6h0M1277.6 1741.5h0M1227.0 1723.8h0M1253.0 1726.2h0M1248.6 1631.1h0M1273.2 1614.1h0M1299.3 1704.3h0M1288.5 1680.1h0M1240.9 1608.7h0M1301.6 1723.7h0M1308.4 1607.0h0M1238.7 1707.2h0M1238.4 1720.1h0M1254.5 1604.2h0M1281.1 1707.6h0M1237.2 1674.6h0M1308.9 1653.7h0M1275.9 1686.4h0M1297.0 1725.3h0M1251.7 1705.4h0M1241.8 1658.3h0M1284.1 1631.5h0M1338.0 1662.6h0M1296.9 1747.3h0M1315.9 1668.7h0M1257.5 1709.6h0M1252.7 1637.4h0M1271.5 1653.5h0M1291.9 1708.1h0M1273.1 1726.2h0M1232.7 1711.1h0M1220.0 1681.6h0M1279.8 1663.9h0M1265.5 1720.3h0M1359.9 1690.3h0M1251.3 1633.3h0M1313.6 1525.2h0"/>
<path stroke="#00f" stroke-width="6.3" stroke-linecap="round" fill="none" d="M1478.4 1567.5h0M1287.9 1589.8h0M1365.2 1602.5h0M1450.7 1628.8h0M1384.5 1635.8h0M1411.5 1642.1h0M1328.9 1640.4h0M1350.2 1650.4h0M1341.9 1659.7h0M1337.2 1670.7h0M1384.5 1668.0h0M1376.5 1673.7h0M1376.5 1678.7h0M1360.9 1677.0h0M1401.8 1677.7h0M1430.1 1682.0h0M1367.8 1690.3h0M1417.1 1692.0h0M1324.2 1697.7h0M1362.8 1706.3h0M1398.1 1705.3h0M1410.5 1705.3h0M1436.8 1702.3h0M1439.1 1708.7h0M1470.0 1708.3h0M1448.4 1712.6h0M1289.9 1718.0h0M1350.2 1717.0h0M1411.5 1716.3h0M1461.1 1730.0h0M1400.8 1730.6h0M1412.1 1734.0h0M1422.4 1733.0h0M1433.8 1735.0h0M1368.8 1737.9h0M1324.6 1746.6h0M1358.5 1746.6h0M1339.5 1752.9h0M1423.1 1751.6h0M1401.1 1760.3h0M1421.1 1765.6h0M1448.1 1773.6h0M1350.9 1789.5h0M1360.5 1791.5h0M1377.8 1789.5h0M1390.8 1791.5h0M1418.1 1789.5h0M1337.5 1801.2h0M1361.5 1830.2h0M1295.9 1836.5h0"/>
</g>
<path d="M1178.10 1510.3V1851.1M1226.70 1510.3V1851.1M1275.60 1510.3V1851.1M1324.60 1510.3V1851.1M1373.50 1510.3V1851.1M1422.40 1510.3V1851.1M1471.40 1510.3V1851.1M1155.1 1553.50H1493.7M1155.1 1600.50H1493.7M1155.1 1647.10H1493.7M1155.1 1694.00H1493.7M1155.1 1740.60H1493.7M1155.1 1787.50H1493.7M1155.1 1834.50H1493.7" stroke="#d6d6d6" stroke-width="1.5" fill="none"/>
<rect x="1155.1" y="1510.3" width="338.60000000000014" height="340.79999999999995" fill="none" stroke="#7a7a7a" stroke-width="1.9"/>
<path d="M1178.10 1851.1v2.6M1226.70 1851.1v2.6M1275.60 1851.1v2.6M1324.60 1851.1v2.6M1373.50 1851.1v2.6M1422.40 1851.1v2.6M1471.40 1851.1v2.6M1155.1 1553.50h-2.6M1155.1 1600.50h-2.6M1155.1 1647.10h-2.6M1155.1 1694.00h-2.6M1155.1 1740.60h-2.6M1155.1 1787.50h-2.6M1155.1 1834.50h-2.6" stroke="#333" stroke-width="1.6" fill="none"/>
<text transform="scale(1.1140,1)" x="1042.16 1052.25 1060.83 1065.13" y="1867.30" font-size="15.00" fill="#000" stroke="#000" stroke-width="0.08">−5.0</text>
<text transform="scale(1.1026,1)" x="1097.15 1107.24 1115.99 1120.33" y="1867.30" font-size="15.00" fill="#000" stroke="#000" stroke-width="0.08">−2.5</text>
<text transform="scale(1.0569,1)" x="1195.99 1204.88 1209.53" y="1867.30" font-size="15.00" fill="#000" stroke="#000" stroke-width="0.08">0.0</text>
<text transform="scale(1.0146,1)" x="1294.17 1303.49 1308.39" y="1867.30" font-size="15.00" fill="#000" stroke="#000" stroke-width="0.08">2.5</text>
<text transform="scale(1.0333,1)" x="1317.96 1327.05 1331.85" y="1867.30" font-size="15.00" fill="#000" stroke="#000" stroke-width="0.08">5.0</text>
<text transform="scale(1.0244,1)" x="1377.39 1386.50 1391.32" y="1867.30" font-size="15.00" fill="#000" stroke="#000" stroke-width="0.08">7.5</text>
<text transform="scale(1.0403,1)" x="1398.41 1407.63 1416.63 1421.38" y="1867.30" font-size="15.00" fill="#000" stroke="#000" stroke-width="0.08">10.0</text>
<text transform="scale(1.0244,1)" x="1099.19 1108.30 1113.12" y="1558.71" font-size="15.00" fill="#000" stroke="#000" stroke-width="0.08">7.5</text>
<text transform="scale(1.0333,1)" x="1089.31 1098.40 1103.20" y="1605.71" font-size="15.00" fill="#000" stroke="#000" stroke-width="0.08">5.0</text>
<text transform="scale(1.0146,1)" x="1109.65 1118.98 1123.87" y="1652.31" font-size="15.00" fill="#000" stroke="#000" stroke-width="0.08">2.5</text>
<text transform="scale(1.0569,1)" x="1064.99 1073.89 1078.54" y="1699.21" font-size="15.00" fill="#000" stroke="#000" stroke-width="0.08">0.0</text>
<text transform="scale(1.1026,1)" x="1010.65 1020.74 1029.49 1033.83" y="1745.81" font-size="15.00" fill="#000" stroke="#000" stroke-width="0.08">−2.5</text>
<text transform="scale(1.1140,1)" x="1000.03 1010.13 1018.71 1023.00" y="1792.71" font-size="15.00" fill="#000" stroke="#000" stroke-width="0.08">−5.0</text>
<text transform="scale(1.1093,1)" x="1004.59 1014.76 1023.33 1027.63" y="1839.71" font-size="15.00" fill="#000" stroke="#000" stroke-width="0.08">−7.5</text>
<rect x="1288" y="1517.6" width="198" height="47.200000000000045" rx="3" fill="#fff" fill-opacity="0.8" stroke="#d5d5d5" stroke-width="1"/>
<circle cx="1308.6" cy="1529.9" r="2.9" fill="#f00" fill-opacity="1"/>
<text transform="scale(1.0792,1)" x="1237.64 1246.30 1259.52 1264.18 1272.82 1281.40 1285.02 1292.49" y="1534.50" font-size="14.40" fill="#000" stroke="#000" stroke-width="0.08">3% noise</text>
<circle cx="1308.6" cy="1551.5" r="2.9" fill="#00f" fill-opacity="1"/>
<text transform="scale(1.0775,1)" x="1239.59 1248.30 1261.53 1266.21 1274.86 1283.45 1287.08 1294.56 1302.99 1307.56 1311.53 1320.10 1324.07 1333.06 1337.76 1346.47 1350.26 1358.58 1366.71" y="1556.10" font-size="14.40" fill="#000" stroke="#000" stroke-width="0.08">5% noise in a block</text>
<text transform="scale(0.9935,1)" x="1236.69 1246.97 1254.43 1267.93 1273.76 1285.36 1296.90 1308.44 1319.98 1331.16 1337.16 1342.32 1355.52 1362.98 1376.49 1382.38 1393.91 1405.45 1416.99" y="1505.50" font-size="19.50" fill="#000" stroke="#000" stroke-width="0.08">L = 10000, R = 3000</text>
<text transform="scale(1.0929,1)" x="1133.21 1142.59 1147.64 1151.51 1159.84 1167.70 1171.59 1179.58 1188.63 1192.29 1195.98 1206.28 1215.17 1228.25 1236.76 1245.33 1253.93 1262.47 1271.44 1276.34 1280.80" y="1884.40" font-size="14.40" fill="#000" stroke="#000" stroke-width="0.08">Principal Component 1</text>
<text transform="translate(1106.80,1681.30) rotate(-90) scale(1.0934,1)" x="-78.18 -68.80 -63.76 -59.89 -51.56 -43.71 -39.82 -31.83 -22.79 -19.13 -15.44 -5.15 3.73 16.81 25.32 33.88 42.48 51.02 59.98 64.88 69.25" y="0.00" font-size="14.40" fill="#000" stroke="#000" stroke-width="0.08">Principal Component 2</text>
<text x="1054.75" y="1495.90" font-size="55.00" font-weight="bold" textLength="16.47" lengthAdjust="spacingAndGlyphs" fill="#000" stroke="#000" stroke-width="0.6" >l</text>
<rect x="95.6" y="550.3" width="427.5" height="324.0" fill="none" stroke="#7a7a7a" stroke-width="1.2"/>
<path d="M114.60 874.3v3M163.20 874.3v3M211.80 874.3v3M260.40 874.3v3M309.00 874.3v3M357.60 874.3v3M406.20 874.3v3M454.80 874.3v3M503.40 874.3v3M95.6 555.30h-3M95.6 593.50h-3M95.6 631.70h-3M95.6 669.80h-3M95.6 707.70h-3M95.6 745.90h-3M95.6 784.40h-3M95.6 822.40h-3M95.6 861.00h-3" stroke="#7a7a7a" stroke-width="1.1" fill="none"/>
<text transform="scale(0.9823,1)" x="93.15 100.59 111.25 117.07 123.00 134.49" y="894.00" font-size="17.20" fill="#000" stroke="#000" stroke-width="0.08">(1, 1)</text>
<text transform="scale(0.9860,1)" x="142.09 149.50 160.13 165.92 171.68 183.28" y="894.00" font-size="17.20" fill="#000" stroke="#000" stroke-width="0.08">(1, 2)</text>
<text transform="scale(0.9862,1)" x="191.33 198.74 209.36 215.16 221.09 232.51" y="894.00" font-size="17.20" fill="#000" stroke="#000" stroke-width="0.08">(1, 3)</text>
<text transform="scale(0.9895,1)" x="239.81 247.05 257.78 263.56 269.29 280.85" y="894.00" font-size="17.20" fill="#000" stroke="#000" stroke-width="0.08">(2, 2)</text>
<text transform="scale(0.9994,1)" x="286.02 293.31 303.83 309.55 315.45 326.67" y="894.00" font-size="17.20" fill="#000" stroke="#000" stroke-width="0.08">(1, 4)</text>
<text transform="scale(0.9897,1)" x="337.97 345.20 355.94 361.71 367.61 379.00" y="894.00" font-size="17.20" fill="#000" stroke="#000" stroke-width="0.08">(2, 3)</text>
<text transform="scale(0.9830,1)" x="389.75 397.19 407.84 413.65 419.57 431.06" y="894.00" font-size="17.20" fill="#000" stroke="#000" stroke-width="0.08">(1, 5)</text>
<text transform="scale(1.0027,1)" x="430.50 437.63 448.25 453.95 459.83 471.02" y="894.00" font-size="17.20" fill="#000" stroke="#000" stroke-width="0.08">(2, 4)</text>
<text transform="scale(0.9899,1)" x="485.18 492.60 503.15 508.93 514.83 526.21" y="894.00" font-size="17.20" fill="#000" stroke="#000" stroke-width="0.08">(3, 3)</text>
<text transform="scale(1.0505,1)" x="64.18 74.75" y="561.28" font-size="17.20" fill="#000" stroke="#000" stroke-width="0.08">16</text>
<text transform="scale(1.0326,1)" x="65.30 76.10" y="599.48" font-size="17.20" fill="#000" stroke="#000" stroke-width="0.08">14</text>
<text transform="scale(1.0115,1)" x="67.54 78.30" y="637.68" font-size="17.20" fill="#000" stroke="#000" stroke-width="0.08">12</text>
<text transform="scale(1.0333,1)" x="65.42 76.12" y="675.78" font-size="17.20" fill="#000" stroke="#000" stroke-width="0.08">10</text>
<text transform="scale(1.0807,1)" x="72.57" y="713.68" font-size="17.20" fill="#000" stroke="#000" stroke-width="0.08">8</text>
<text transform="scale(1.0923,1)" x="71.70" y="751.88" font-size="17.20" fill="#000" stroke="#000" stroke-width="0.08">6</text>
<text transform="scale(1.0556,1)" x="74.33" y="790.38" font-size="17.20" fill="#000" stroke="#000" stroke-width="0.08">4</text>
<text transform="scale(1.0169,1)" x="77.85" y="828.38" font-size="17.20" fill="#000" stroke="#000" stroke-width="0.08">2</text>
<text transform="scale(1.0582,1)" x="74.22" y="866.98" font-size="17.20" fill="#000" stroke="#000" stroke-width="0.08">0</text>
<path d="M114.60 854.90L163.20 851.20L211.80 837.70L260.40 836.90L309.00 760.80L357.60 770.30L406.20 615.40L454.80 672.80L503.40 694.90" stroke="#1f6fb2" stroke-width="2.8" fill="none" stroke-linejoin="round"/>
<path d="M110.50 852.40h8.2M110.50 857.40h8.2M159.10 848.70h8.2M159.10 853.70h8.2M207.70 827.70h8.2M207.70 847.70h8.2M256.30 827.30h8.2M256.30 846.50h8.2M304.90 746.80h8.2M304.90 774.80h8.2M353.50 756.30h8.2M353.50 784.30h8.2M402.10 603.40h8.2M402.10 627.40h8.2M450.70 654.80h8.2M450.70 690.80h8.2M499.30 664.90h8.2M499.30 724.90h8.2" stroke="#1f6fb2" stroke-width="1.6" fill="none"/>
<path d="M114.60 852.40V857.40M163.20 848.70V853.70M211.80 827.70V847.70M260.40 827.30V846.50M309.00 746.80V774.80M357.60 756.30V784.30M406.20 603.40V627.40M454.80 654.80V690.80M503.40 664.90V724.90" stroke="#1f6fb2" stroke-width="2.2" fill="none"/>
<g fill="#1f6fb2"><circle cx="114.60" cy="854.90" r="2.2"/><circle cx="163.20" cy="851.20" r="2.2"/><circle cx="211.80" cy="837.70" r="2.2"/><circle cx="260.40" cy="836.90" r="2.2"/><circle cx="309.00" cy="760.80" r="2.2"/><circle cx="357.60" cy="770.30" r="2.2"/><circle cx="406.20" cy="615.40" r="2.2"/><circle cx="454.80" cy="672.80" r="2.2"/><circle cx="503.40" cy="694.90" r="2.2"/></g>
<path d="M114.60 853.50L163.20 849.20L211.80 836.00L260.40 840.60L309.00 760.30L357.60 770.90L406.20 575.20L454.80 599.30L503.40 601.10" stroke="#ec7424" stroke-width="2.8" fill="none" stroke-linejoin="round"/>
<path d="M110.50 851.50h8.2M110.50 855.50h8.2M159.10 845.70h8.2M159.10 852.70h8.2M207.70 826.00h8.2M207.70 846.00h8.2M256.30 832.60h8.2M256.30 848.60h8.2M304.90 744.80h8.2M304.90 775.80h8.2M353.50 746.40h8.2M353.50 795.40h8.2M402.10 565.70h8.2M402.10 584.70h8.2M450.70 591.60h8.2M450.70 607.00h8.2M499.30 592.10h8.2M499.30 610.10h8.2" stroke="#ec7424" stroke-width="1.6" fill="none"/>
<path d="M114.60 851.50V855.50M163.20 845.70V852.70M211.80 826.00V846.00M260.40 832.60V848.60M309.00 744.80V775.80M357.60 746.40V795.40M406.20 565.70V584.70M454.80 591.60V607.00M503.40 592.10V610.10" stroke="#ec7424" stroke-width="2.2" fill="none"/>
<g fill="#ec7424"><circle cx="114.60" cy="853.50" r="2.2"/><circle cx="163.20" cy="849.20" r="2.2"/><circle cx="211.80" cy="836.00" r="2.2"/><circle cx="260.40" cy="840.60" r="2.2"/><circle cx="309.00" cy="760.30" r="2.2"/><circle cx="357.60" cy="770.90" r="2.2"/><circle cx="406.20" cy="575.20" r="2.2"/><circle cx="454.80" cy="599.30" r="2.2"/><circle cx="503.40" cy="601.10" r="2.2"/></g>
<path d="M114.60 855.50L163.20 851.20L211.80 835.40L260.40 840.30L309.00 756.50L357.60 764.60L406.20 570.90L454.80 580.10L503.40 580.70" stroke="#2a9232" stroke-width="2.8" fill="none" stroke-linejoin="round"/>
<path d="M110.50 853.00h8.2M110.50 858.00h8.2M159.10 848.70h8.2M159.10 853.70h8.2M207.70 824.60h8.2M207.70 846.20h8.2M256.30 833.10h8.2M256.30 847.50h8.2M304.90 741.20h8.2M304.90 771.80h8.2M353.50 747.10h8.2M353.50 782.10h8.2M402.10 565.20h8.2M402.10 576.60h8.2M450.70 573.70h8.2M450.70 586.50h8.2M499.30 573.70h8.2M499.30 587.70h8.2" stroke="#2a9232" stroke-width="1.6" fill="none"/>
<path d="M114.60 853.00V858.00M163.20 848.70V853.70M211.80 824.60V846.20M260.40 833.10V847.50M309.00 741.20V771.80M357.60 747.10V782.10M406.20 565.20V576.60M454.80 573.70V586.50M503.40 573.70V587.70" stroke="#2a9232" stroke-width="2.2" fill="none"/>
<g fill="#2a9232"><circle cx="114.60" cy="855.50" r="2.2"/><circle cx="163.20" cy="851.20" r="2.2"/><circle cx="211.80" cy="835.40" r="2.2"/><circle cx="260.40" cy="840.30" r="2.2"/><circle cx="309.00" cy="756.50" r="2.2"/><circle cx="357.60" cy="764.60" r="2.2"/><circle cx="406.20" cy="570.90" r="2.2"/><circle cx="454.80" cy="580.10" r="2.2"/><circle cx="503.40" cy="580.70" r="2.2"/></g>
<rect x="103.9" y="558.6" width="139.4" height="78.89999999999998" rx="3.5" fill="#fff" fill-opacity="0.8" stroke="#d5d5d5" stroke-width="1"/>
<path d="M109.3 572.1H146.1" stroke="#1f6fb2" stroke-width="2.8"/>
<path d="M127.69999999999999 562.9V581.3000000000001M124.1 562.9h7.2M124.1 581.3000000000001h7.2" stroke="#1f6fb2" stroke-width="1.5" fill="none"/><path d="M127.69999999999999 562.9V581.3000000000001" stroke="#1f6fb2" stroke-width="2.4"/>
<text transform="scale(1.0859,1)" x="143.97 154.49 166.31 176.60 186.74 196.87" y="578.08" font-size="17.20" fill="#000" stroke="#000" stroke-width="0.08">L=2000</text>
<path d="M109.3 596.8H146.1" stroke="#ec7424" stroke-width="2.8"/>
<path d="M127.69999999999999 587.5999999999999V606.0M124.1 587.5999999999999h7.2M124.1 606.0h7.2" stroke="#ec7424" stroke-width="1.5" fill="none"/><path d="M127.69999999999999 587.5999999999999V606.0" stroke="#ec7424" stroke-width="2.4"/>
<text transform="scale(1.0836,1)" x="144.29 154.84 166.80 176.99 187.15 197.31" y="602.78" font-size="17.20" fill="#000" stroke="#000" stroke-width="0.08">L=5000</text>
<path d="M109.3 621.4H146.1" stroke="#2a9232" stroke-width="2.8"/>
<path d="M127.69999999999999 612.1999999999999V630.6M124.1 612.1999999999999h7.2M124.1 630.6h7.2" stroke="#2a9232" stroke-width="1.5" fill="none"/><path d="M127.69999999999999 612.1999999999999V630.6" stroke="#2a9232" stroke-width="2.4"/>
<text transform="scale(1.0808,1)" x="144.68 155.24 167.22 177.45 187.64 197.82 208.01" y="627.38" font-size="17.20" fill="#000" stroke="#000" stroke-width="0.08">L=10000</text>
<text transform="scale(0.9843,1)" x="204.20 220.63 226.06 237.86 244.62 258.52 271.24 283.16 295.86 302.30 314.12 327.69 347.64 359.83 374.18 382.24 387.67 398.82 411.89" y="544.80" font-size="21.90" fill="#000" stroke="#000" stroke-width="0.08">Distance comparison</text>
<text transform="scale(1.0423,1)" x="277.23 284.31 294.32 300.21 309.99" y="911.80" font-size="17.20" fill="#000" stroke="#000" stroke-width="0.08">(b,k)</text>
<text transform="translate(62.00,714.50) rotate(-90) scale(1.0402,1)" x="-36.53 -23.53 -19.20 -9.85 -4.46 6.58 16.67 26.14" y="0.00" font-size="17.20" fill="#000" stroke="#000" stroke-width="0.08">Distance</text>
<text x="3.10" y="536.20" font-size="55.00" font-weight="bold" textLength="35.08" lengthAdjust="spacingAndGlyphs" fill="#000" stroke="#000" stroke-width="0.6" >d</text>
<rect x="619.3" y="548.4" width="428.0" height="324.20000000000005" fill="none" stroke="#7a7a7a" stroke-width="1.2"/>
<path d="M638.60 872.6v3M687.15 872.6v3M735.70 872.6v3M784.25 872.6v3M832.80 872.6v3M881.35 872.6v3M929.90 872.6v3M978.45 872.6v3M1027.00 872.6v3M619.3 568.60h-3M619.3 631.70h-3M619.3 693.60h-3M619.3 756.30h-3M619.3 818.60h-3" stroke="#7a7a7a" stroke-width="1.1" fill="none"/>
<text transform="scale(0.9823,1)" x="626.57 634.01 644.67 650.49 656.41 667.91" y="892.30" font-size="17.20" fill="#000" stroke="#000" stroke-width="0.08">(1, 1)</text>
<text transform="scale(0.9860,1)" x="673.50 680.91 691.54 697.33 703.09 714.69" y="892.30" font-size="17.20" fill="#000" stroke="#000" stroke-width="0.08">(1, 2)</text>
<text transform="scale(0.9862,1)" x="722.55 729.96 740.58 746.38 752.31 763.73" y="892.30" font-size="17.20" fill="#000" stroke="#000" stroke-width="0.08">(1, 3)</text>
<text transform="scale(0.9895,1)" x="769.22 776.46 787.20 792.97 798.70 810.27" y="892.30" font-size="17.20" fill="#000" stroke="#000" stroke-width="0.08">(2, 2)</text>
<text transform="scale(0.9994,1)" x="810.13 817.42 827.94 833.66 839.56 850.78" y="892.30" font-size="17.20" fill="#000" stroke="#000" stroke-width="0.08">(1, 4)</text>
<text transform="scale(0.9897,1)" x="867.17 874.41 885.14 890.92 896.82 908.21" y="892.30" font-size="17.20" fill="#000" stroke="#000" stroke-width="0.08">(2, 3)</text>
<text transform="scale(0.9830,1)" x="922.53 929.97 940.62 946.44 952.35 963.84" y="892.30" font-size="17.20" fill="#000" stroke="#000" stroke-width="0.08">(1, 5)</text>
<text transform="scale(1.0027,1)" x="952.77 959.89 970.52 976.22 982.10 993.28" y="892.30" font-size="17.20" fill="#000" stroke="#000" stroke-width="0.08">(2, 4)</text>
<text transform="scale(0.9899,1)" x="1014.13 1021.54 1032.09 1037.87 1043.77 1055.16" y="892.30" font-size="17.20" fill="#000" stroke="#000" stroke-width="0.08">(3, 3)</text>
<text transform="scale(1.0058,1)" x="599.31" y="574.58" font-size="17.20" fill="#000" stroke="#000" stroke-width="0.08">5</text>
<text transform="scale(1.0556,1)" x="570.45" y="637.68" font-size="17.20" fill="#000" stroke="#000" stroke-width="0.08">4</text>
<text transform="scale(1.0164,1)" x="592.97" y="699.58" font-size="17.20" fill="#000" stroke="#000" stroke-width="0.08">3</text>
<text transform="scale(1.0169,1)" x="592.87" y="762.28" font-size="17.20" fill="#000" stroke="#000" stroke-width="0.08">2</text>
<text transform="scale(1.0058,1)" x="599.39" y="824.58" font-size="17.20" fill="#000" stroke="#000" stroke-width="0.08">1</text>
<path d="M638.60 856.90L687.15 850.90L735.70 844.30L784.25 845.80L832.80 812.50L881.35 810.80L929.90 659.90L978.45 682.00L1027.00 692.00" stroke="#1f6fb2" stroke-width="2.8" fill="none" stroke-linejoin="round"/>
<path d="M634.50 855.70h8.2M634.50 858.10h8.2M683.05 849.70h8.2M683.05 852.10h8.2M731.60 843.10h8.2M731.60 845.50h8.2M780.15 844.60h8.2M780.15 847.00h8.2M828.70 811.30h8.2M828.70 813.70h8.2M877.25 808.50h8.2M877.25 813.10h8.2M925.80 654.20h8.2M925.80 665.60h8.2M974.35 677.60h8.2M974.35 686.40h8.2M1022.90 685.70h8.2M1022.90 698.30h8.2" stroke="#1f6fb2" stroke-width="1.6" fill="none"/>
<path d="M638.60 855.70V858.10M687.15 849.70V852.10M735.70 843.10V845.50M784.25 844.60V847.00M832.80 811.30V813.70M881.35 808.50V813.10M929.90 654.20V665.60M978.45 677.60V686.40M1027.00 685.70V698.30" stroke="#1f6fb2" stroke-width="2.2" fill="none"/>
<g fill="#1f6fb2"><circle cx="638.60" cy="856.90" r="2.2"/><circle cx="687.15" cy="850.90" r="2.2"/><circle cx="735.70" cy="844.30" r="2.2"/><circle cx="784.25" cy="845.80" r="2.2"/><circle cx="832.80" cy="812.50" r="2.2"/><circle cx="881.35" cy="810.80" r="2.2"/><circle cx="929.90" cy="659.90" r="2.2"/><circle cx="978.45" cy="682.00" r="2.2"/><circle cx="1027.00" cy="692.00" r="2.2"/></g>
<path d="M638.60 818.20L687.15 810.80L735.70 802.40L784.25 803.00L832.80 769.20L881.35 774.30L929.90 631.80L978.45 649.80L1027.00 662.20" stroke="#ec7424" stroke-width="2.8" fill="none" stroke-linejoin="round"/>
<path d="M634.50 814.50h8.2M634.50 821.90h8.2M683.05 809.60h8.2M683.05 812.00h8.2M731.60 801.20h8.2M731.60 803.60h8.2M780.15 801.80h8.2M780.15 804.20h8.2M828.70 768.00h8.2M828.70 770.40h8.2M877.25 772.60h8.2M877.25 776.00h8.2M925.80 627.80h8.2M925.80 635.80h8.2M974.35 648.60h8.2M974.35 651.00h8.2M1022.90 658.80h8.2M1022.90 665.60h8.2" stroke="#ec7424" stroke-width="1.6" fill="none"/>
<path d="M638.60 814.50V821.90M687.15 809.60V812.00M735.70 801.20V803.60M784.25 801.80V804.20M832.80 768.00V770.40M881.35 772.60V776.00M929.90 627.80V635.80M978.45 648.60V651.00M1027.00 658.80V665.60" stroke="#ec7424" stroke-width="2.2" fill="none"/>
<g fill="#ec7424"><circle cx="638.60" cy="818.20" r="2.2"/><circle cx="687.15" cy="810.80" r="2.2"/><circle cx="735.70" cy="802.40" r="2.2"/><circle cx="784.25" cy="803.00" r="2.2"/><circle cx="832.80" cy="769.20" r="2.2"/><circle cx="881.35" cy="774.30" r="2.2"/><circle cx="929.90" cy="631.80" r="2.2"/><circle cx="978.45" cy="649.80" r="2.2"/><circle cx="1027.00" cy="662.20" r="2.2"/></g>
<path d="M638.60 763.10L687.15 748.80L735.70 735.00L784.25 737.30L832.80 709.20L881.35 712.10L929.90 569.00L978.45 589.00L1027.00 601.10" stroke="#2a9232" stroke-width="2.8" fill="none" stroke-linejoin="round"/>
<path d="M634.50 756.80h8.2M634.50 769.40h8.2M683.05 744.50h8.2M683.05 753.10h8.2M731.60 730.70h8.2M731.60 739.30h8.2M780.15 733.90h8.2M780.15 740.70h8.2M828.70 706.90h8.2M828.70 711.50h8.2M877.25 710.40h8.2M877.25 713.80h8.2M925.80 564.70h8.2M925.80 573.30h8.2M974.35 586.70h8.2M974.35 591.30h8.2M1022.90 598.20h8.2M1022.90 604.00h8.2" stroke="#2a9232" stroke-width="1.6" fill="none"/>
<path d="M638.60 756.80V769.40M687.15 744.50V753.10M735.70 730.70V739.30M784.25 733.90V740.70M832.80 706.90V711.50M881.35 710.40V713.80M929.90 564.70V573.30M978.45 586.70V591.30M1027.00 598.20V604.00" stroke="#2a9232" stroke-width="2.2" fill="none"/>
<g fill="#2a9232"><circle cx="638.60" cy="763.10" r="2.2"/><circle cx="687.15" cy="748.80" r="2.2"/><circle cx="735.70" cy="735.00" r="2.2"/><circle cx="784.25" cy="737.30" r="2.2"/><circle cx="832.80" cy="709.20" r="2.2"/><circle cx="881.35" cy="712.10" r="2.2"/><circle cx="929.90" cy="569.00" r="2.2"/><circle cx="978.45" cy="589.00" r="2.2"/><circle cx="1027.00" cy="601.10" r="2.2"/></g>
<rect x="627.9" y="557.5" width="139.39999999999998" height="79.39999999999998" rx="3.5" fill="#fff" fill-opacity="0.8" stroke="#d5d5d5" stroke-width="1"/>
<path d="M633.3 571.0H670.1" stroke="#1f6fb2" stroke-width="2.8"/>
<path d="M651.7 561.8V580.2M648.1 561.8h7.2M648.1 580.2h7.2" stroke="#1f6fb2" stroke-width="1.5" fill="none"/><path d="M651.7 561.8V580.2" stroke="#1f6fb2" stroke-width="2.4"/>
<text transform="scale(1.0859,1)" x="626.51 637.03 648.85 659.14 669.27 679.41" y="576.98" font-size="17.20" fill="#000" stroke="#000" stroke-width="0.08">L=2000</text>
<path d="M633.3 595.6H670.1" stroke="#ec7424" stroke-width="2.8"/>
<path d="M651.7 586.4V604.8000000000001M648.1 586.4h7.2M648.1 604.8000000000001h7.2" stroke="#ec7424" stroke-width="1.5" fill="none"/><path d="M651.7 586.4V604.8000000000001" stroke="#ec7424" stroke-width="2.4"/>
<text transform="scale(1.0836,1)" x="627.87 638.41 650.37 660.57 670.72 680.88" y="601.58" font-size="17.20" fill="#000" stroke="#000" stroke-width="0.08">L=5000</text>
<path d="M633.3 620.3H670.1" stroke="#2a9232" stroke-width="2.8"/>
<path d="M651.7 611.0999999999999V629.5M648.1 611.0999999999999h7.2M648.1 629.5h7.2" stroke="#2a9232" stroke-width="1.5" fill="none"/><path d="M651.7 611.0999999999999V629.5" stroke="#2a9232" stroke-width="2.4"/>
<text transform="scale(1.0808,1)" x="629.49 640.06 652.03 662.27 672.45 682.64 692.82" y="626.28" font-size="17.20" fill="#000" stroke="#000" stroke-width="0.08">L=10000</text>
<text transform="scale(1.0001,1)" x="744.62 758.03 763.54 782.94 795.44 801.68 813.24 826.46 846.04 857.97 872.07 880.00 885.24 896.14 908.94" y="544.80" font-size="21.90" fill="#000" stroke="#000" stroke-width="0.08">Time comparison</text>
<text transform="scale(1.0423,1)" x="780.14 787.23 797.23 803.12 812.91" y="910.80" font-size="17.20" fill="#000" stroke="#000" stroke-width="0.08">(b,k)</text>
<text transform="translate(594.80,712.00) rotate(-90) scale(1.1072,1)" x="-19.17 -8.85 -4.81 10.05" y="0.00" font-size="17.20" fill="#000" stroke="#000" stroke-width="0.08">Time</text>
<text x="556.46" y="536.20" font-size="55.00" font-weight="bold" textLength="32.56" lengthAdjust="spacingAndGlyphs" fill="#000" stroke="#000" stroke-width="0.6" >e</text>
</svg>
</body></html>
